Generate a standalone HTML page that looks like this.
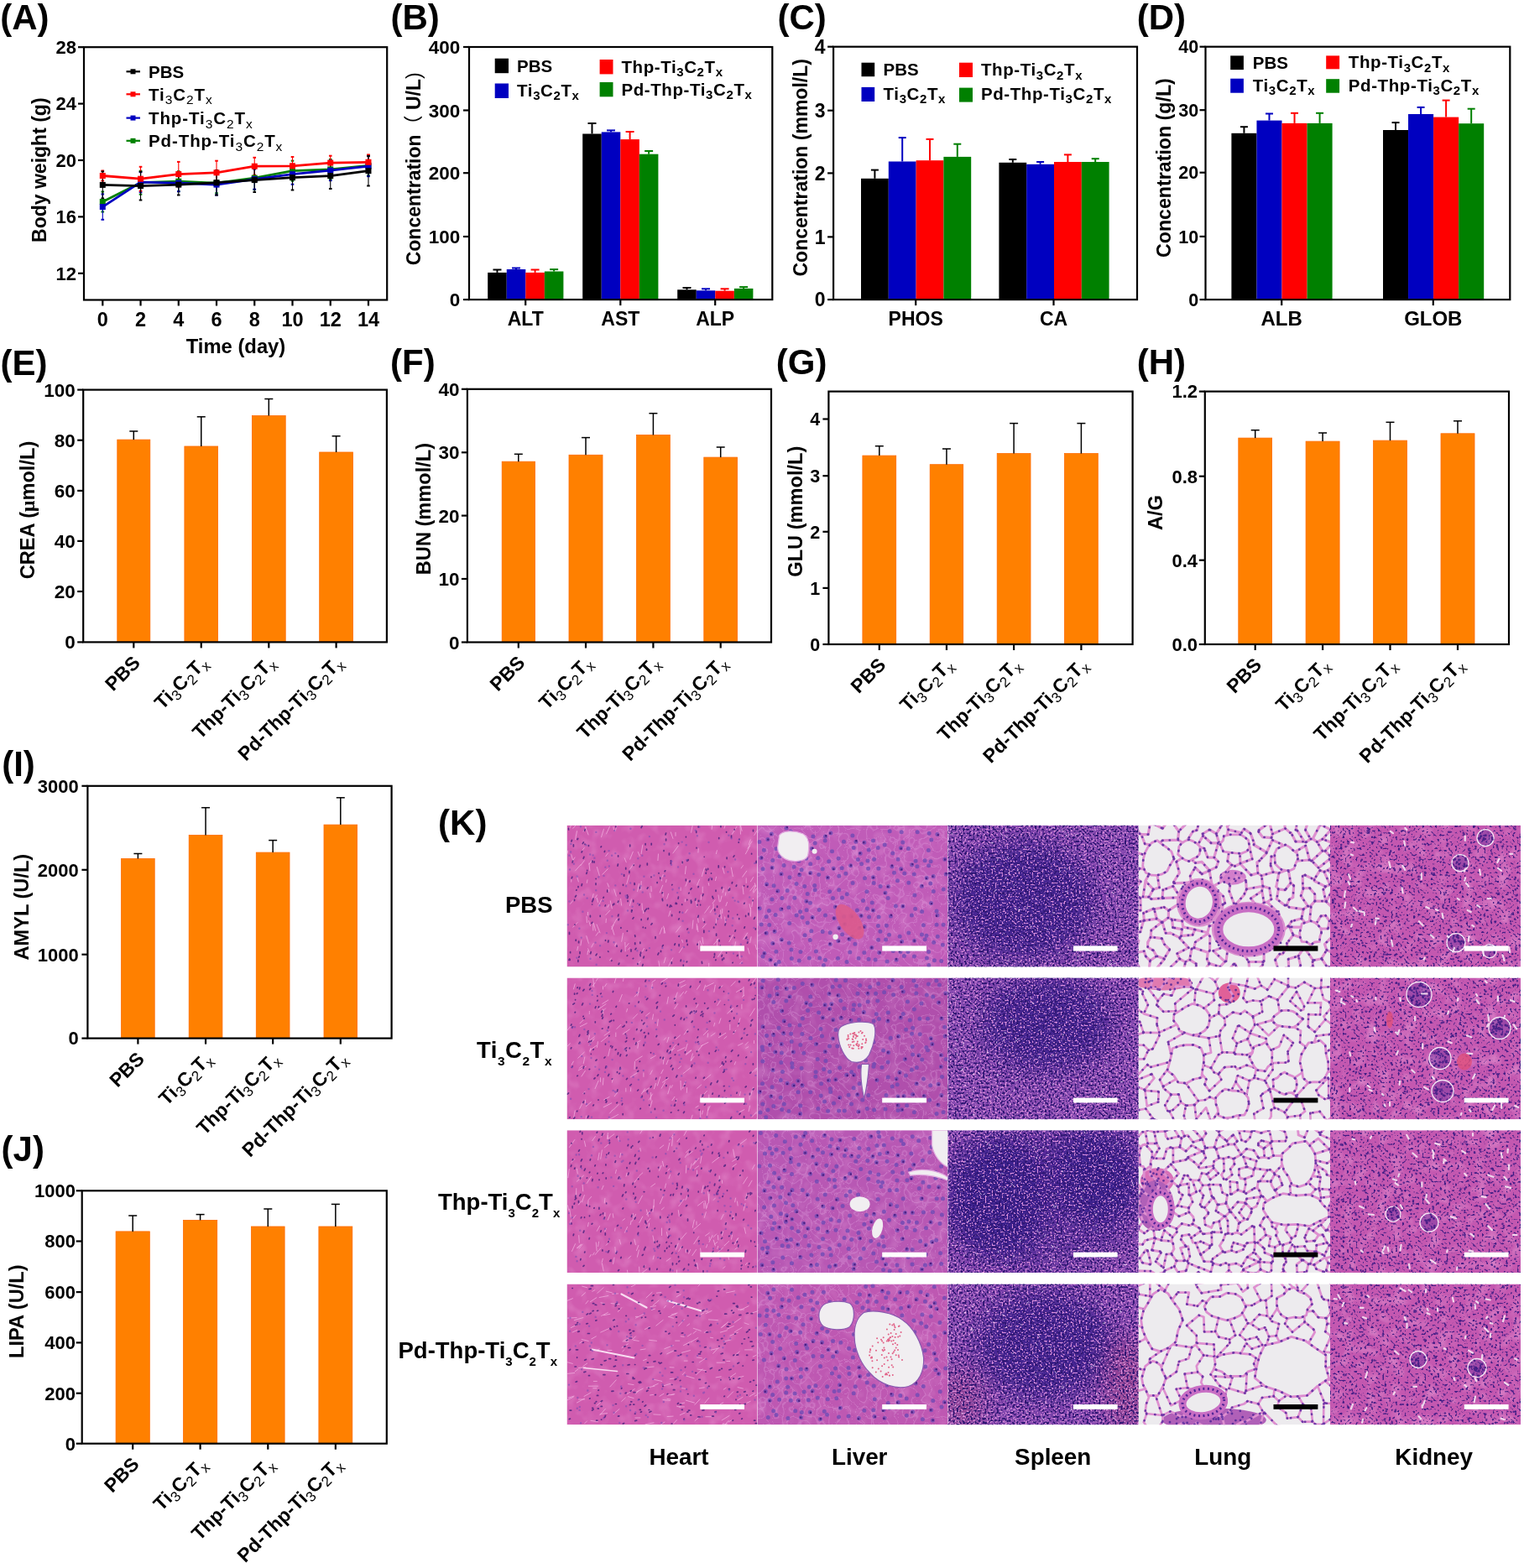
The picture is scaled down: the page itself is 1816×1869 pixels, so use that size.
<!DOCTYPE html>
<html><head><meta charset="utf-8"><title>Figure</title>
<style>
html,body{margin:0;padding:0;background:#fff;}
svg{display:block;}
text{font-family:'Liberation Sans', Arial, sans-serif;fill:#000;}
</style></head>
<body>
<svg width="1816" height="1869" viewBox="0 0 1816 1869">
<rect x="0" y="0" width="1816" height="1869" fill="#fff"/>
<line x1="122.3" y1="228.5" x2="122.3" y2="252.5" stroke="#008000" stroke-width="1.1" />
<line x1="120.5" y1="228.5" x2="124.1" y2="228.5" stroke="#008000" stroke-width="2" />
<line x1="120.5" y1="252.5" x2="124.1" y2="252.5" stroke="#008000" stroke-width="2" />
<line x1="167.54" y1="203.7" x2="167.54" y2="231.7" stroke="#008000" stroke-width="1.1" />
<line x1="165.74" y1="203.7" x2="169.34" y2="203.7" stroke="#008000" stroke-width="2" />
<line x1="165.74" y1="231.7" x2="169.34" y2="231.7" stroke="#008000" stroke-width="2" />
<line x1="212.78" y1="204.2" x2="212.78" y2="228.2" stroke="#008000" stroke-width="1.1" />
<line x1="210.98" y1="204.2" x2="214.58" y2="204.2" stroke="#008000" stroke-width="2" />
<line x1="210.98" y1="228.2" x2="214.58" y2="228.2" stroke="#008000" stroke-width="2" />
<line x1="258.02" y1="206.2" x2="258.02" y2="230.2" stroke="#008000" stroke-width="1.1" />
<line x1="256.22" y1="206.2" x2="259.82" y2="206.2" stroke="#008000" stroke-width="2" />
<line x1="256.22" y1="230.2" x2="259.82" y2="230.2" stroke="#008000" stroke-width="2" />
<line x1="303.26" y1="198.1" x2="303.26" y2="226.1" stroke="#008000" stroke-width="1.1" />
<line x1="301.46" y1="198.1" x2="305.06" y2="198.1" stroke="#008000" stroke-width="2" />
<line x1="301.46" y1="226.1" x2="305.06" y2="226.1" stroke="#008000" stroke-width="2" />
<line x1="348.5" y1="191.7" x2="348.5" y2="215.7" stroke="#008000" stroke-width="1.1" />
<line x1="346.7" y1="191.7" x2="350.3" y2="191.7" stroke="#008000" stroke-width="2" />
<line x1="346.7" y1="215.7" x2="350.3" y2="215.7" stroke="#008000" stroke-width="2" />
<line x1="393.74" y1="189.9" x2="393.74" y2="213.9" stroke="#008000" stroke-width="1.1" />
<line x1="391.94" y1="189.9" x2="395.54" y2="189.9" stroke="#008000" stroke-width="2" />
<line x1="391.94" y1="213.9" x2="395.54" y2="213.9" stroke="#008000" stroke-width="2" />
<line x1="438.98" y1="185.3" x2="438.98" y2="209.3" stroke="#008000" stroke-width="1.1" />
<line x1="437.18" y1="185.3" x2="440.78" y2="185.3" stroke="#008000" stroke-width="2" />
<line x1="437.18" y1="209.3" x2="440.78" y2="209.3" stroke="#008000" stroke-width="2" />
<line x1="122.3" y1="231.4" x2="122.3" y2="261.8" stroke="#0000C0" stroke-width="1.1" />
<line x1="120.5" y1="231.4" x2="124.1" y2="231.4" stroke="#0000C0" stroke-width="2" />
<line x1="120.5" y1="261.8" x2="124.1" y2="261.8" stroke="#0000C0" stroke-width="2" />
<line x1="167.54" y1="205.2" x2="167.54" y2="229.2" stroke="#0000C0" stroke-width="1.1" />
<line x1="165.74" y1="205.2" x2="169.34" y2="205.2" stroke="#0000C0" stroke-width="2" />
<line x1="165.74" y1="229.2" x2="169.34" y2="229.2" stroke="#0000C0" stroke-width="2" />
<line x1="212.78" y1="208.2" x2="212.78" y2="228.2" stroke="#0000C0" stroke-width="1.1" />
<line x1="210.98" y1="208.2" x2="214.58" y2="208.2" stroke="#0000C0" stroke-width="2" />
<line x1="210.98" y1="228.2" x2="214.58" y2="228.2" stroke="#0000C0" stroke-width="2" />
<line x1="258.02" y1="207.7" x2="258.02" y2="232.5" stroke="#0000C0" stroke-width="1.1" />
<line x1="256.22" y1="207.7" x2="259.82" y2="207.7" stroke="#0000C0" stroke-width="2" />
<line x1="256.22" y1="232.5" x2="259.82" y2="232.5" stroke="#0000C0" stroke-width="2" />
<line x1="303.26" y1="201.6" x2="303.26" y2="225.6" stroke="#0000C0" stroke-width="1.1" />
<line x1="301.46" y1="201.6" x2="305.06" y2="201.6" stroke="#0000C0" stroke-width="2" />
<line x1="301.46" y1="225.6" x2="305.06" y2="225.6" stroke="#0000C0" stroke-width="2" />
<line x1="348.5" y1="195.7" x2="348.5" y2="219.7" stroke="#0000C0" stroke-width="1.1" />
<line x1="346.7" y1="195.7" x2="350.3" y2="195.7" stroke="#0000C0" stroke-width="2" />
<line x1="346.7" y1="219.7" x2="350.3" y2="219.7" stroke="#0000C0" stroke-width="2" />
<line x1="393.74" y1="191.2" x2="393.74" y2="215.2" stroke="#0000C0" stroke-width="1.1" />
<line x1="391.94" y1="191.2" x2="395.54" y2="191.2" stroke="#0000C0" stroke-width="2" />
<line x1="391.94" y1="215.2" x2="395.54" y2="215.2" stroke="#0000C0" stroke-width="2" />
<line x1="438.98" y1="186.2" x2="438.98" y2="210.2" stroke="#0000C0" stroke-width="1.1" />
<line x1="437.18" y1="186.2" x2="440.78" y2="186.2" stroke="#0000C0" stroke-width="2" />
<line x1="437.18" y1="210.2" x2="440.78" y2="210.2" stroke="#0000C0" stroke-width="2" />
<line x1="122.3" y1="203.5" x2="122.3" y2="215.5" stroke="#FF0000" stroke-width="1.1" />
<line x1="120.5" y1="203.5" x2="124.1" y2="203.5" stroke="#FF0000" stroke-width="2" />
<line x1="120.5" y1="215.5" x2="124.1" y2="215.5" stroke="#FF0000" stroke-width="2" />
<line x1="167.54" y1="198.8" x2="167.54" y2="227.6" stroke="#FF0000" stroke-width="1.1" />
<line x1="165.74" y1="198.8" x2="169.34" y2="198.8" stroke="#FF0000" stroke-width="2" />
<line x1="165.74" y1="227.6" x2="169.34" y2="227.6" stroke="#FF0000" stroke-width="2" />
<line x1="212.78" y1="192.9" x2="212.78" y2="222.3" stroke="#FF0000" stroke-width="1.1" />
<line x1="210.98" y1="192.9" x2="214.58" y2="192.9" stroke="#FF0000" stroke-width="2" />
<line x1="210.98" y1="222.3" x2="214.58" y2="222.3" stroke="#FF0000" stroke-width="2" />
<line x1="258.02" y1="191.7" x2="258.02" y2="219.9" stroke="#FF0000" stroke-width="1.1" />
<line x1="256.22" y1="191.7" x2="259.82" y2="191.7" stroke="#FF0000" stroke-width="2" />
<line x1="256.22" y1="219.9" x2="259.82" y2="219.9" stroke="#FF0000" stroke-width="2" />
<line x1="303.26" y1="187.8" x2="303.26" y2="208.6" stroke="#FF0000" stroke-width="1.1" />
<line x1="301.46" y1="187.8" x2="305.06" y2="187.8" stroke="#FF0000" stroke-width="2" />
<line x1="301.46" y1="208.6" x2="305.06" y2="208.6" stroke="#FF0000" stroke-width="2" />
<line x1="348.5" y1="187" x2="348.5" y2="208.6" stroke="#FF0000" stroke-width="1.1" />
<line x1="346.7" y1="187" x2="350.3" y2="187" stroke="#FF0000" stroke-width="2" />
<line x1="346.7" y1="208.6" x2="350.3" y2="208.6" stroke="#FF0000" stroke-width="2" />
<line x1="393.74" y1="185.7" x2="393.74" y2="202.5" stroke="#FF0000" stroke-width="1.1" />
<line x1="391.94" y1="185.7" x2="395.54" y2="185.7" stroke="#FF0000" stroke-width="2" />
<line x1="391.94" y1="202.5" x2="395.54" y2="202.5" stroke="#FF0000" stroke-width="2" />
<line x1="438.98" y1="184.4" x2="438.98" y2="202.2" stroke="#FF0000" stroke-width="1.1" />
<line x1="437.18" y1="184.4" x2="440.78" y2="184.4" stroke="#FF0000" stroke-width="2" />
<line x1="437.18" y1="202.2" x2="440.78" y2="202.2" stroke="#FF0000" stroke-width="2" />
<line x1="122.3" y1="204.4" x2="122.3" y2="236.4" stroke="#000000" stroke-width="1.1" />
<line x1="120.5" y1="204.4" x2="124.1" y2="204.4" stroke="#000000" stroke-width="2" />
<line x1="120.5" y1="236.4" x2="124.1" y2="236.4" stroke="#000000" stroke-width="2" />
<line x1="167.54" y1="204.7" x2="167.54" y2="238.5" stroke="#000000" stroke-width="1.1" />
<line x1="165.74" y1="204.7" x2="169.34" y2="204.7" stroke="#000000" stroke-width="2" />
<line x1="165.74" y1="238.5" x2="169.34" y2="238.5" stroke="#000000" stroke-width="2" />
<line x1="212.78" y1="207.7" x2="212.78" y2="232.5" stroke="#000000" stroke-width="1.1" />
<line x1="210.98" y1="207.7" x2="214.58" y2="207.7" stroke="#000000" stroke-width="2" />
<line x1="210.98" y1="232.5" x2="214.58" y2="232.5" stroke="#000000" stroke-width="2" />
<line x1="258.02" y1="202.9" x2="258.02" y2="232.5" stroke="#000000" stroke-width="1.1" />
<line x1="256.22" y1="202.9" x2="259.82" y2="202.9" stroke="#000000" stroke-width="2" />
<line x1="256.22" y1="232.5" x2="259.82" y2="232.5" stroke="#000000" stroke-width="2" />
<line x1="303.26" y1="200.2" x2="303.26" y2="229" stroke="#000000" stroke-width="1.1" />
<line x1="301.46" y1="200.2" x2="305.06" y2="200.2" stroke="#000000" stroke-width="2" />
<line x1="301.46" y1="229" x2="305.06" y2="229" stroke="#000000" stroke-width="2" />
<line x1="348.5" y1="196.7" x2="348.5" y2="226.5" stroke="#000000" stroke-width="1.1" />
<line x1="346.7" y1="196.7" x2="350.3" y2="196.7" stroke="#000000" stroke-width="2" />
<line x1="346.7" y1="226.5" x2="350.3" y2="226.5" stroke="#000000" stroke-width="2" />
<line x1="393.74" y1="194.2" x2="393.74" y2="225" stroke="#000000" stroke-width="1.1" />
<line x1="391.94" y1="194.2" x2="395.54" y2="194.2" stroke="#000000" stroke-width="2" />
<line x1="391.94" y1="225" x2="395.54" y2="225" stroke="#000000" stroke-width="2" />
<line x1="438.98" y1="185.9" x2="438.98" y2="221.5" stroke="#000000" stroke-width="1.1" />
<line x1="437.18" y1="185.9" x2="440.78" y2="185.9" stroke="#000000" stroke-width="2" />
<line x1="437.18" y1="221.5" x2="440.78" y2="221.5" stroke="#000000" stroke-width="2" />
<polyline points="122.3,240.5 167.54,217.7 212.78,216.2 258.02,218.2 303.26,212.1 348.5,203.7 393.74,201.9 438.98,197.3" fill="none" stroke="#008000" stroke-width="2.8" stroke-linejoin="round"/>
<rect x="118.8" y="237" width="7" height="7" fill="#008000" />
<rect x="164.04" y="214.2" width="7" height="7" fill="#008000" />
<rect x="209.28" y="212.7" width="7" height="7" fill="#008000" />
<rect x="254.52" y="214.7" width="7" height="7" fill="#008000" />
<rect x="299.76" y="208.6" width="7" height="7" fill="#008000" />
<rect x="345" y="200.2" width="7" height="7" fill="#008000" />
<rect x="390.24" y="198.4" width="7" height="7" fill="#008000" />
<rect x="435.48" y="193.8" width="7" height="7" fill="#008000" />
<polyline points="122.3,246.6 167.54,217.2 212.78,218.2 258.02,220.1 303.26,213.6 348.5,207.7 393.74,203.2 438.98,198.2" fill="none" stroke="#0000C0" stroke-width="2.8" stroke-linejoin="round"/>
<rect x="118.8" y="243.1" width="7" height="7" fill="#0000C0" />
<rect x="164.04" y="213.7" width="7" height="7" fill="#0000C0" />
<rect x="209.28" y="214.7" width="7" height="7" fill="#0000C0" />
<rect x="254.52" y="216.6" width="7" height="7" fill="#0000C0" />
<rect x="299.76" y="210.1" width="7" height="7" fill="#0000C0" />
<rect x="345" y="204.2" width="7" height="7" fill="#0000C0" />
<rect x="390.24" y="199.7" width="7" height="7" fill="#0000C0" />
<rect x="435.48" y="194.7" width="7" height="7" fill="#0000C0" />
<polyline points="122.3,209.5 167.54,213.2 212.78,207.6 258.02,205.8 303.26,198.2 348.5,197.8 393.74,194.1 438.98,193.3" fill="none" stroke="#FF0000" stroke-width="2.8" stroke-linejoin="round"/>
<rect x="118.8" y="206" width="7" height="7" fill="#FF0000" />
<rect x="164.04" y="209.7" width="7" height="7" fill="#FF0000" />
<rect x="209.28" y="204.1" width="7" height="7" fill="#FF0000" />
<rect x="254.52" y="202.3" width="7" height="7" fill="#FF0000" />
<rect x="299.76" y="194.7" width="7" height="7" fill="#FF0000" />
<rect x="345" y="194.3" width="7" height="7" fill="#FF0000" />
<rect x="390.24" y="190.6" width="7" height="7" fill="#FF0000" />
<rect x="435.48" y="189.8" width="7" height="7" fill="#FF0000" />
<polyline points="122.3,220.4 167.54,221.6 212.78,220.1 258.02,217.7 303.26,214.6 348.5,211.6 393.74,209.6 438.98,203.7" fill="none" stroke="#000000" stroke-width="2.8" stroke-linejoin="round"/>
<rect x="118.8" y="216.9" width="7" height="7" fill="#000000" />
<rect x="164.04" y="218.1" width="7" height="7" fill="#000000" />
<rect x="209.28" y="216.6" width="7" height="7" fill="#000000" />
<rect x="254.52" y="214.2" width="7" height="7" fill="#000000" />
<rect x="299.76" y="211.1" width="7" height="7" fill="#000000" />
<rect x="345" y="208.1" width="7" height="7" fill="#000000" />
<rect x="390.24" y="206.1" width="7" height="7" fill="#000000" />
<rect x="435.48" y="200.2" width="7" height="7" fill="#000000" />
<rect x="100" y="56.2" width="361.2" height="301.3" fill="none" stroke="#000" stroke-width="2.2"/>
<line x1="93" y1="56.2" x2="100" y2="56.2" stroke="#000" stroke-width="2.2" />
<text x="91" y="64.08" font-size="22" text-anchor="end" font-weight="bold" >28</text>
<line x1="93" y1="123.6" x2="100" y2="123.6" stroke="#000" stroke-width="2.2" />
<text x="91" y="131.48" font-size="22" text-anchor="end" font-weight="bold" >24</text>
<line x1="93" y1="191" x2="100" y2="191" stroke="#000" stroke-width="2.2" />
<text x="91" y="198.88" font-size="22" text-anchor="end" font-weight="bold" >20</text>
<line x1="93" y1="258.4" x2="100" y2="258.4" stroke="#000" stroke-width="2.2" />
<text x="91" y="266.28" font-size="22" text-anchor="end" font-weight="bold" >16</text>
<line x1="93" y1="325.8" x2="100" y2="325.8" stroke="#000" stroke-width="2.2" />
<text x="91" y="333.68" font-size="22" text-anchor="end" font-weight="bold" >12</text>
<line x1="122.3" y1="357.5" x2="122.3" y2="364.5" stroke="#000" stroke-width="2.2" />
<line x1="167.54" y1="357.5" x2="167.54" y2="364.5" stroke="#000" stroke-width="2.2" />
<line x1="212.78" y1="357.5" x2="212.78" y2="364.5" stroke="#000" stroke-width="2.2" />
<line x1="258.02" y1="357.5" x2="258.02" y2="364.5" stroke="#000" stroke-width="2.2" />
<line x1="303.26" y1="357.5" x2="303.26" y2="364.5" stroke="#000" stroke-width="2.2" />
<line x1="348.5" y1="357.5" x2="348.5" y2="364.5" stroke="#000" stroke-width="2.2" />
<line x1="393.74" y1="357.5" x2="393.74" y2="364.5" stroke="#000" stroke-width="2.2" />
<line x1="438.98" y1="357.5" x2="438.98" y2="364.5" stroke="#000" stroke-width="2.2" />
<text x="122.3" y="388.6" font-size="23.5" text-anchor="middle" font-weight="bold" >0</text>
<text x="167.54" y="388.6" font-size="23.5" text-anchor="middle" font-weight="bold" >2</text>
<text x="212.78" y="388.6" font-size="23.5" text-anchor="middle" font-weight="bold" >4</text>
<text x="258.02" y="388.6" font-size="23.5" text-anchor="middle" font-weight="bold" >6</text>
<text x="303.26" y="388.6" font-size="23.5" text-anchor="middle" font-weight="bold" >8</text>
<text x="348.5" y="388.6" font-size="23.5" text-anchor="middle" font-weight="bold" >10</text>
<text x="393.74" y="388.6" font-size="23.5" text-anchor="middle" font-weight="bold" >12</text>
<text x="438.98" y="388.6" font-size="23.5" text-anchor="middle" font-weight="bold" >14</text>
<text x="281" y="421.2" font-size="23.8" text-anchor="middle" font-weight="bold" >Time (day)</text>
<text x="0" y="0" font-size="23" font-weight="bold" text-anchor="middle" transform="translate(54.8,202.7) rotate(-90)">Body weight (g)</text>
<line x1="150.5" y1="85.3" x2="167" y2="85.3" stroke="#000000" stroke-width="2.2" />
<rect x="155.5" y="82.3" width="6" height="6" fill="#000000" />
<text x="177" y="92.6" font-size="20.5" text-anchor="start" font-weight="bold" >PBS</text>
<line x1="150.5" y1="112.3" x2="167" y2="112.3" stroke="#FF0000" stroke-width="2.2" />
<rect x="155.5" y="109.3" width="6" height="6" fill="#FF0000" />
<text x="177" y="119.6" font-size="20.5" text-anchor="start" font-weight="bold" ><tspan letter-spacing="0.9">Ti<tspan font-size="15.5" font-weight="normal" dy="4.8">3</tspan><tspan dy="-4.8">C</tspan><tspan font-size="15.5" font-weight="normal" dy="4.8">2</tspan><tspan dy="-4.8">T</tspan><tspan font-size="15.5" font-weight="normal" dy="4.8">x</tspan></tspan></text>
<line x1="150.5" y1="140.6" x2="167" y2="140.6" stroke="#0000C0" stroke-width="2.2" />
<rect x="155.5" y="137.6" width="6" height="6" fill="#0000C0" />
<text x="177" y="147.9" font-size="20.5" text-anchor="start" font-weight="bold" ><tspan letter-spacing="0.9">Thp-Ti<tspan font-size="15.5" font-weight="normal" dy="4.8">3</tspan><tspan dy="-4.8">C</tspan><tspan font-size="15.5" font-weight="normal" dy="4.8">2</tspan><tspan dy="-4.8">T</tspan><tspan font-size="15.5" font-weight="normal" dy="4.8">x</tspan></tspan></text>
<line x1="150.5" y1="167.8" x2="167" y2="167.8" stroke="#008000" stroke-width="2.2" />
<rect x="155.5" y="164.8" width="6" height="6" fill="#008000" />
<text x="177" y="175.1" font-size="20.5" text-anchor="start" font-weight="bold" ><tspan letter-spacing="0.9">Pd-Thp-Ti<tspan font-size="15.5" font-weight="normal" dy="4.8">3</tspan><tspan dy="-4.8">C</tspan><tspan font-size="15.5" font-weight="normal" dy="4.8">2</tspan><tspan dy="-4.8">T</tspan><tspan font-size="15.5" font-weight="normal" dy="4.8">x</tspan></tspan></text>
<text x="0.3" y="35.1" font-size="42" text-anchor="start" font-weight="bold" >(A)</text>
<rect x="581.2" y="324.9" width="22.55" height="32.2" fill="#000000" />
<line x1="592.48" y1="324.9" x2="592.48" y2="321.5" stroke="#000000" stroke-width="2" />
<line x1="587.48" y1="321.5" x2="597.48" y2="321.5" stroke="#000000" stroke-width="2" />
<rect x="603.75" y="321" width="22.55" height="36.1" fill="#0000C0" />
<line x1="615.02" y1="321" x2="615.02" y2="319.5" stroke="#0000C0" stroke-width="2" />
<line x1="610.02" y1="319.5" x2="620.02" y2="319.5" stroke="#0000C0" stroke-width="2" />
<rect x="626.3" y="324.9" width="22.55" height="32.2" fill="#FF0000" />
<line x1="637.58" y1="324.9" x2="637.58" y2="321.5" stroke="#FF0000" stroke-width="2" />
<line x1="632.58" y1="321.5" x2="642.58" y2="321.5" stroke="#FF0000" stroke-width="2" />
<rect x="648.85" y="323.5" width="22.55" height="33.6" fill="#008000" />
<line x1="660.12" y1="323.5" x2="660.12" y2="321.1" stroke="#008000" stroke-width="2" />
<line x1="655.12" y1="321.1" x2="665.12" y2="321.1" stroke="#008000" stroke-width="2" />
<rect x="694.2" y="159.5" width="22.55" height="197.6" fill="#000000" />
<line x1="705.48" y1="159.5" x2="705.48" y2="147" stroke="#000000" stroke-width="2" />
<line x1="700.48" y1="147" x2="710.48" y2="147" stroke="#000000" stroke-width="2" />
<rect x="716.75" y="157.4" width="22.55" height="199.7" fill="#0000C0" />
<line x1="728.02" y1="157.4" x2="728.02" y2="155.4" stroke="#0000C0" stroke-width="2" />
<line x1="723.02" y1="155.4" x2="733.02" y2="155.4" stroke="#0000C0" stroke-width="2" />
<rect x="739.3" y="166.1" width="22.55" height="191" fill="#FF0000" />
<line x1="750.58" y1="166.1" x2="750.58" y2="157" stroke="#FF0000" stroke-width="2" />
<line x1="745.58" y1="157" x2="755.58" y2="157" stroke="#FF0000" stroke-width="2" />
<rect x="761.85" y="183.7" width="22.55" height="173.4" fill="#008000" />
<line x1="773.12" y1="183.7" x2="773.12" y2="180" stroke="#008000" stroke-width="2" />
<line x1="768.12" y1="180" x2="778.12" y2="180" stroke="#008000" stroke-width="2" />
<rect x="807.2" y="345.3" width="22.55" height="11.8" fill="#000000" />
<line x1="818.48" y1="345.3" x2="818.48" y2="343" stroke="#000000" stroke-width="2" />
<line x1="813.48" y1="343" x2="823.48" y2="343" stroke="#000000" stroke-width="2" />
<rect x="829.75" y="346.3" width="22.55" height="10.8" fill="#0000C0" />
<line x1="841.02" y1="346.3" x2="841.02" y2="344.3" stroke="#0000C0" stroke-width="2" />
<line x1="836.02" y1="344.3" x2="846.02" y2="344.3" stroke="#0000C0" stroke-width="2" />
<rect x="852.3" y="346.7" width="22.55" height="10.4" fill="#FF0000" />
<line x1="863.58" y1="346.7" x2="863.58" y2="344.3" stroke="#FF0000" stroke-width="2" />
<line x1="858.58" y1="344.3" x2="868.58" y2="344.3" stroke="#FF0000" stroke-width="2" />
<rect x="874.85" y="343.9" width="22.55" height="13.2" fill="#008000" />
<line x1="886.12" y1="343.9" x2="886.12" y2="342.1" stroke="#008000" stroke-width="2" />
<line x1="881.12" y1="342.1" x2="891.12" y2="342.1" stroke="#008000" stroke-width="2" />
<rect x="559" y="56" width="361.3" height="301.1" fill="none" stroke="#000" stroke-width="2.2"/>
<line x1="552" y1="56" x2="559" y2="56" stroke="#000" stroke-width="2.2" />
<text x="548.3" y="64.06" font-size="22.5" text-anchor="end" font-weight="bold" >400</text>
<line x1="552" y1="131.5" x2="559" y2="131.5" stroke="#000" stroke-width="2.2" />
<text x="548.3" y="139.56" font-size="22.5" text-anchor="end" font-weight="bold" >300</text>
<line x1="552" y1="206.2" x2="559" y2="206.2" stroke="#000" stroke-width="2.2" />
<text x="548.3" y="214.25" font-size="22.5" text-anchor="end" font-weight="bold" >200</text>
<line x1="552" y1="282" x2="559" y2="282" stroke="#000" stroke-width="2.2" />
<text x="548.3" y="290.06" font-size="22.5" text-anchor="end" font-weight="bold" >100</text>
<line x1="552" y1="357.1" x2="559" y2="357.1" stroke="#000" stroke-width="2.2" />
<text x="548.3" y="365.16" font-size="22.5" text-anchor="end" font-weight="bold" >0</text>
<line x1="626.2" y1="357.1" x2="626.2" y2="364.1" stroke="#000" stroke-width="2.2" />
<line x1="739.3" y1="357.1" x2="739.3" y2="364.1" stroke="#000" stroke-width="2.2" />
<line x1="852.2" y1="357.1" x2="852.2" y2="364.1" stroke="#000" stroke-width="2.2" />
<text x="626.2" y="388.1" font-size="23" text-anchor="middle" font-weight="bold" >ALT</text>
<text x="739.3" y="388.1" font-size="23" text-anchor="middle" font-weight="bold" >AST</text>
<text x="852.2" y="388.1" font-size="23" text-anchor="middle" font-weight="bold" >ALP</text>
<rect x="589.7" y="69.7" width="16.3" height="17.5" fill="#000000" />
<rect x="589.7" y="99.5" width="16.3" height="17.5" fill="#0000C0" />
<rect x="714.6" y="71" width="15.9" height="17.4" fill="#FF0000" />
<rect x="714.6" y="98" width="15.9" height="17.3" fill="#008000" />
<text x="616.1" y="85.6" font-size="20.5" text-anchor="start" font-weight="bold" >PBS</text>
<text x="616.1" y="114.5" font-size="20.5" text-anchor="start" font-weight="bold" ><tspan letter-spacing="0.6">Ti<tspan font-size="15" font-weight="bold" dy="4.8">3</tspan><tspan dy="-4.8">C</tspan><tspan font-size="15" font-weight="bold" dy="4.8">2</tspan><tspan dy="-4.8">T</tspan><tspan font-size="15" font-weight="bold" dy="4.8">x</tspan></tspan></text>
<text x="740.4" y="86.5" font-size="20.5" text-anchor="start" font-weight="bold" ><tspan letter-spacing="0.6">Thp-Ti<tspan font-size="15" font-weight="bold" dy="4.8">3</tspan><tspan dy="-4.8">C</tspan><tspan font-size="15" font-weight="bold" dy="4.8">2</tspan><tspan dy="-4.8">T</tspan><tspan font-size="15" font-weight="bold" dy="4.8">x</tspan></tspan></text>
<text x="740.4" y="113.5" font-size="20.5" text-anchor="start" font-weight="bold" ><tspan letter-spacing="0.6">Pd-Thp-Ti<tspan font-size="15" font-weight="bold" dy="4.8">3</tspan><tspan dy="-4.8">C</tspan><tspan font-size="15" font-weight="bold" dy="4.8">2</tspan><tspan dy="-4.8">T</tspan><tspan font-size="15" font-weight="bold" dy="4.8">x</tspan></tspan></text>
<text x="0" y="0" font-size="23" font-weight="bold" text-anchor="start" transform="translate(500.5,316.3) rotate(-90)">Concentration<tspan font-weight="normal" font-family="'Liberation Sans', 'Noto Sans CJK SC', sans-serif">（</tspan> U/L<tspan font-weight="normal">)</tspan></text>
<text x="465.4" y="35.1" font-size="42" text-anchor="start" font-weight="bold" >(B)</text>
<rect x="1026" y="212.8" width="32.8" height="144.3" fill="#000000" />
<line x1="1042.4" y1="212.8" x2="1042.4" y2="202.6" stroke="#000000" stroke-width="2" />
<line x1="1037.9" y1="202.6" x2="1046.9" y2="202.6" stroke="#000000" stroke-width="2" />
<rect x="1058.8" y="192.5" width="32.8" height="164.6" fill="#0000C0" />
<line x1="1075.2" y1="192.5" x2="1075.2" y2="164.1" stroke="#0000C0" stroke-width="2" />
<line x1="1070.7" y1="164.1" x2="1079.7" y2="164.1" stroke="#0000C0" stroke-width="2" />
<rect x="1091.6" y="191.2" width="32.8" height="165.9" fill="#FF0000" />
<line x1="1108" y1="191.2" x2="1108" y2="165.9" stroke="#FF0000" stroke-width="2" />
<line x1="1103.5" y1="165.9" x2="1112.5" y2="165.9" stroke="#FF0000" stroke-width="2" />
<rect x="1124.4" y="186.9" width="32.8" height="170.2" fill="#008000" />
<line x1="1140.8" y1="186.9" x2="1140.8" y2="171.7" stroke="#008000" stroke-width="2" />
<line x1="1136.3" y1="171.7" x2="1145.3" y2="171.7" stroke="#008000" stroke-width="2" />
<rect x="1190.4" y="193.8" width="32.8" height="163.3" fill="#000000" />
<line x1="1206.8" y1="193.8" x2="1206.8" y2="190" stroke="#000000" stroke-width="2" />
<line x1="1202.3" y1="190" x2="1211.3" y2="190" stroke="#000000" stroke-width="2" />
<rect x="1223.2" y="195.8" width="32.8" height="161.3" fill="#0000C0" />
<line x1="1239.6" y1="195.8" x2="1239.6" y2="193" stroke="#0000C0" stroke-width="2" />
<line x1="1235.1" y1="193" x2="1244.1" y2="193" stroke="#0000C0" stroke-width="2" />
<rect x="1256" y="193" width="32.8" height="164.1" fill="#FF0000" />
<line x1="1272.4" y1="193" x2="1272.4" y2="184.4" stroke="#FF0000" stroke-width="2" />
<line x1="1267.9" y1="184.4" x2="1276.9" y2="184.4" stroke="#FF0000" stroke-width="2" />
<rect x="1288.8" y="193" width="32.8" height="164.1" fill="#008000" />
<line x1="1305.2" y1="193" x2="1305.2" y2="189.2" stroke="#008000" stroke-width="2" />
<line x1="1300.7" y1="189.2" x2="1309.7" y2="189.2" stroke="#008000" stroke-width="2" />
<rect x="993.1" y="55.7" width="361.9" height="301.4" fill="none" stroke="#000" stroke-width="2.2"/>
<line x1="986.1" y1="55.7" x2="993.1" y2="55.7" stroke="#000" stroke-width="2.2" />
<text x="983.5" y="63.93" font-size="23" text-anchor="end" font-weight="bold" >4</text>
<line x1="986.1" y1="131.7" x2="993.1" y2="131.7" stroke="#000" stroke-width="2.2" />
<text x="983.5" y="139.93" font-size="23" text-anchor="end" font-weight="bold" >3</text>
<line x1="986.1" y1="206.4" x2="993.1" y2="206.4" stroke="#000" stroke-width="2.2" />
<text x="983.5" y="214.63" font-size="23" text-anchor="end" font-weight="bold" >2</text>
<line x1="986.1" y1="282.4" x2="993.1" y2="282.4" stroke="#000" stroke-width="2.2" />
<text x="983.5" y="290.63" font-size="23" text-anchor="end" font-weight="bold" >1</text>
<line x1="986.1" y1="357.1" x2="993.1" y2="357.1" stroke="#000" stroke-width="2.2" />
<text x="983.5" y="365.33" font-size="23" text-anchor="end" font-weight="bold" >0</text>
<line x1="1091.2" y1="357.1" x2="1091.2" y2="364.1" stroke="#000" stroke-width="2.2" />
<line x1="1255.5" y1="357.1" x2="1255.5" y2="364.1" stroke="#000" stroke-width="2.2" />
<text x="1091.2" y="387.5" font-size="23" text-anchor="middle" font-weight="bold" >PHOS</text>
<text x="1255.5" y="387.5" font-size="23" text-anchor="middle" font-weight="bold" >CA</text>
<rect x="1026.5" y="74.7" width="15.7" height="16.5" fill="#000000" />
<rect x="1026.5" y="103.9" width="15.7" height="17.1" fill="#0000C0" />
<rect x="1143" y="74.7" width="16" height="17.3" fill="#FF0000" />
<rect x="1143" y="104.6" width="16" height="17" fill="#008000" />
<text x="1052.6" y="90" font-size="20.5" text-anchor="start" font-weight="bold" >PBS</text>
<text x="1052.6" y="118.5" font-size="20.5" text-anchor="start" font-weight="bold" ><tspan letter-spacing="0.6">Ti<tspan font-size="15" font-weight="bold" dy="4.8">3</tspan><tspan dy="-4.8">C</tspan><tspan font-size="15" font-weight="bold" dy="4.8">2</tspan><tspan dy="-4.8">T</tspan><tspan font-size="15" font-weight="bold" dy="4.8">x</tspan></tspan></text>
<text x="1168.9" y="90" font-size="20.5" text-anchor="start" font-weight="bold" ><tspan letter-spacing="0.6">Thp-Ti<tspan font-size="15" font-weight="bold" dy="4.8">3</tspan><tspan dy="-4.8">C</tspan><tspan font-size="15" font-weight="bold" dy="4.8">2</tspan><tspan dy="-4.8">T</tspan><tspan font-size="15" font-weight="bold" dy="4.8">x</tspan></tspan></text>
<text x="1168.9" y="118.5" font-size="20.5" text-anchor="start" font-weight="bold" ><tspan letter-spacing="0.6">Pd-Thp-Ti<tspan font-size="15" font-weight="bold" dy="4.8">3</tspan><tspan dy="-4.8">C</tspan><tspan font-size="15" font-weight="bold" dy="4.8">2</tspan><tspan dy="-4.8">T</tspan><tspan font-size="15" font-weight="bold" dy="4.8">x</tspan></tspan></text>
<text x="0" y="0" font-size="23" font-weight="bold" text-anchor="start" transform="translate(961.5,329.5) rotate(-90)">Concentration (mmol/L)</text>
<text x="926.4" y="35.1" font-size="42" text-anchor="start" font-weight="bold" >(C)</text>
<rect x="1467.4" y="158.8" width="30.05" height="198.3" fill="#000000" />
<line x1="1482.43" y1="158.8" x2="1482.43" y2="151.2" stroke="#000000" stroke-width="2" />
<line x1="1477.93" y1="151.2" x2="1486.93" y2="151.2" stroke="#000000" stroke-width="2" />
<rect x="1497.45" y="143.6" width="30.05" height="213.5" fill="#0000C0" />
<line x1="1512.48" y1="143.6" x2="1512.48" y2="135.5" stroke="#0000C0" stroke-width="2" />
<line x1="1507.98" y1="135.5" x2="1516.98" y2="135.5" stroke="#0000C0" stroke-width="2" />
<rect x="1527.5" y="146.9" width="30.05" height="210.2" fill="#FF0000" />
<line x1="1542.53" y1="146.9" x2="1542.53" y2="134.8" stroke="#FF0000" stroke-width="2" />
<line x1="1538.03" y1="134.8" x2="1547.03" y2="134.8" stroke="#FF0000" stroke-width="2" />
<rect x="1557.55" y="146.9" width="30.05" height="210.2" fill="#008000" />
<line x1="1572.58" y1="146.9" x2="1572.58" y2="134.8" stroke="#008000" stroke-width="2" />
<line x1="1568.08" y1="134.8" x2="1577.08" y2="134.8" stroke="#008000" stroke-width="2" />
<rect x="1648" y="155" width="30.05" height="202.1" fill="#000000" />
<line x1="1663.03" y1="155" x2="1663.03" y2="146.1" stroke="#000000" stroke-width="2" />
<line x1="1658.53" y1="146.1" x2="1667.53" y2="146.1" stroke="#000000" stroke-width="2" />
<rect x="1678.05" y="136" width="30.05" height="221.1" fill="#0000C0" />
<line x1="1693.08" y1="136" x2="1693.08" y2="127.9" stroke="#0000C0" stroke-width="2" />
<line x1="1688.58" y1="127.9" x2="1697.58" y2="127.9" stroke="#0000C0" stroke-width="2" />
<rect x="1708.1" y="139.6" width="30.05" height="217.5" fill="#FF0000" />
<line x1="1723.12" y1="139.6" x2="1723.12" y2="119.6" stroke="#FF0000" stroke-width="2" />
<line x1="1718.62" y1="119.6" x2="1727.62" y2="119.6" stroke="#FF0000" stroke-width="2" />
<rect x="1738.15" y="147.2" width="30.05" height="209.9" fill="#008000" />
<line x1="1753.18" y1="147.2" x2="1753.18" y2="129.7" stroke="#008000" stroke-width="2" />
<line x1="1748.68" y1="129.7" x2="1757.68" y2="129.7" stroke="#008000" stroke-width="2" />
<rect x="1436.5" y="55.7" width="362.8" height="301.4" fill="none" stroke="#000" stroke-width="2.2"/>
<line x1="1429.5" y1="55.7" x2="1436.5" y2="55.7" stroke="#000" stroke-width="2.2" />
<text x="1428.2" y="63.4" font-size="21.5" text-anchor="end" font-weight="bold" >40</text>
<line x1="1429.5" y1="131.2" x2="1436.5" y2="131.2" stroke="#000" stroke-width="2.2" />
<text x="1428.2" y="138.9" font-size="21.5" text-anchor="end" font-weight="bold" >30</text>
<line x1="1429.5" y1="205.7" x2="1436.5" y2="205.7" stroke="#000" stroke-width="2.2" />
<text x="1428.2" y="213.4" font-size="21.5" text-anchor="end" font-weight="bold" >20</text>
<line x1="1429.5" y1="281.9" x2="1436.5" y2="281.9" stroke="#000" stroke-width="2.2" />
<text x="1428.2" y="289.6" font-size="21.5" text-anchor="end" font-weight="bold" >10</text>
<line x1="1429.5" y1="357.1" x2="1436.5" y2="357.1" stroke="#000" stroke-width="2.2" />
<text x="1428.2" y="364.8" font-size="21.5" text-anchor="end" font-weight="bold" >0</text>
<line x1="1527.2" y1="357.1" x2="1527.2" y2="364.1" stroke="#000" stroke-width="2.2" />
<line x1="1707.8" y1="357.1" x2="1707.8" y2="364.1" stroke="#000" stroke-width="2.2" />
<text x="1527.2" y="388.2" font-size="24" text-anchor="middle" font-weight="bold" >ALB</text>
<text x="1707.8" y="388.2" font-size="24" text-anchor="middle" font-weight="bold" >GLOB</text>
<rect x="1466.2" y="66.4" width="15.7" height="16.7" fill="#000000" />
<rect x="1466.2" y="93.7" width="15.7" height="17" fill="#0000C0" />
<rect x="1580.2" y="66.4" width="15.9" height="15.9" fill="#FF0000" />
<rect x="1580.2" y="94.2" width="15.9" height="16.5" fill="#008000" />
<text x="1492.8" y="81.6" font-size="20.5" text-anchor="start" font-weight="bold" >PBS</text>
<text x="1492.8" y="108.5" font-size="20.5" text-anchor="start" font-weight="bold" ><tspan letter-spacing="0.6">Ti<tspan font-size="15" font-weight="bold" dy="4.8">3</tspan><tspan dy="-4.8">C</tspan><tspan font-size="15" font-weight="bold" dy="4.8">2</tspan><tspan dy="-4.8">T</tspan><tspan font-size="15" font-weight="bold" dy="4.8">x</tspan></tspan></text>
<text x="1606.8" y="81" font-size="20.5" text-anchor="start" font-weight="bold" ><tspan letter-spacing="0.6">Thp-Ti<tspan font-size="15" font-weight="bold" dy="4.8">3</tspan><tspan dy="-4.8">C</tspan><tspan font-size="15" font-weight="bold" dy="4.8">2</tspan><tspan dy="-4.8">T</tspan><tspan font-size="15" font-weight="bold" dy="4.8">x</tspan></tspan></text>
<text x="1606.8" y="108.5" font-size="20.5" text-anchor="start" font-weight="bold" ><tspan letter-spacing="0.6">Pd-Thp-Ti<tspan font-size="15" font-weight="bold" dy="4.8">3</tspan><tspan dy="-4.8">C</tspan><tspan font-size="15" font-weight="bold" dy="4.8">2</tspan><tspan dy="-4.8">T</tspan><tspan font-size="15" font-weight="bold" dy="4.8">x</tspan></tspan></text>
<text x="0" y="0" font-size="23.2" font-weight="bold" text-anchor="start" transform="translate(1395,307) rotate(-90)">Concentration (g/L)</text>
<text x="1354.7" y="35.1" font-size="42" text-anchor="start" font-weight="bold" >(D)</text>
<rect x="139.8" y="524.1" width="39" height="241.3" fill="#FF8000" stroke="#FF6A00" stroke-width="0.8"/>
<line x1="159.3" y1="524.1" x2="159.3" y2="514" stroke="#000" stroke-width="1.5" />
<line x1="154.3" y1="514" x2="164.3" y2="514" stroke="#000" stroke-width="1.5" />
<rect x="219.9" y="532" width="39.7" height="233.4" fill="#FF8000" stroke="#FF6A00" stroke-width="0.8"/>
<line x1="239.75" y1="532" x2="239.75" y2="496.8" stroke="#000" stroke-width="1.5" />
<line x1="234.75" y1="496.8" x2="244.75" y2="496.8" stroke="#000" stroke-width="1.5" />
<rect x="300.4" y="495.5" width="39.8" height="269.9" fill="#FF8000" stroke="#FF6A00" stroke-width="0.8"/>
<line x1="320.3" y1="495.5" x2="320.3" y2="475.5" stroke="#000" stroke-width="1.5" />
<line x1="315.3" y1="475.5" x2="325.3" y2="475.5" stroke="#000" stroke-width="1.5" />
<rect x="380.7" y="539" width="39.8" height="226.4" fill="#FF8000" stroke="#FF6A00" stroke-width="0.8"/>
<line x1="400.6" y1="539" x2="400.6" y2="519.8" stroke="#000" stroke-width="1.5" />
<line x1="395.6" y1="519.8" x2="405.6" y2="519.8" stroke="#000" stroke-width="1.5" />
<rect x="99.2" y="464.6" width="361.7" height="300.8" fill="none" stroke="#000" stroke-width="2.2"/>
<line x1="92.2" y1="464.6" x2="99.2" y2="464.6" stroke="#000" stroke-width="2.2" />
<text x="89.8" y="472.66" font-size="22.5" text-anchor="end" font-weight="bold" >100</text>
<line x1="92.2" y1="524.7" x2="99.2" y2="524.7" stroke="#000" stroke-width="2.2" />
<text x="89.8" y="532.75" font-size="22.5" text-anchor="end" font-weight="bold" >80</text>
<line x1="92.2" y1="584.9" x2="99.2" y2="584.9" stroke="#000" stroke-width="2.2" />
<text x="89.8" y="592.95" font-size="22.5" text-anchor="end" font-weight="bold" >60</text>
<line x1="92.2" y1="644.9" x2="99.2" y2="644.9" stroke="#000" stroke-width="2.2" />
<text x="89.8" y="652.95" font-size="22.5" text-anchor="end" font-weight="bold" >40</text>
<line x1="92.2" y1="705" x2="99.2" y2="705" stroke="#000" stroke-width="2.2" />
<text x="89.8" y="713.05" font-size="22.5" text-anchor="end" font-weight="bold" >20</text>
<line x1="92.2" y1="765.4" x2="99.2" y2="765.4" stroke="#000" stroke-width="2.2" />
<text x="89.8" y="773.45" font-size="22.5" text-anchor="end" font-weight="bold" >0</text>
<line x1="159.3" y1="765.4" x2="159.3" y2="772.4" stroke="#000" stroke-width="2.2" />
<line x1="239.75" y1="765.4" x2="239.75" y2="772.4" stroke="#000" stroke-width="2.2" />
<line x1="320.3" y1="765.4" x2="320.3" y2="772.4" stroke="#000" stroke-width="2.2" />
<line x1="400.6" y1="765.4" x2="400.6" y2="772.4" stroke="#000" stroke-width="2.2" />
<text x="0" y="0" font-size="23" font-weight="bold" text-anchor="end" transform="translate(168.3,791.4) rotate(-45)">PBS</text>
<text x="0" y="0" font-size="23" font-weight="bold" text-anchor="end" transform="translate(248.75,791.4) rotate(-45)"><tspan>Ti<tspan font-size="17" font-weight="normal" dy="5">3</tspan><tspan dy="-5">C</tspan><tspan font-size="17" font-weight="normal" dy="5">2</tspan><tspan dy="-5">T</tspan><tspan font-size="17" font-weight="normal" dy="5">x</tspan></tspan></text>
<text x="0" y="0" font-size="23" font-weight="bold" text-anchor="end" transform="translate(329.3,791.4) rotate(-45)"><tspan>Thp-Ti<tspan font-size="17" font-weight="normal" dy="5">3</tspan><tspan dy="-5">C</tspan><tspan font-size="17" font-weight="normal" dy="5">2</tspan><tspan dy="-5">T</tspan><tspan font-size="17" font-weight="normal" dy="5">x</tspan></tspan></text>
<text x="0" y="0" font-size="23" font-weight="bold" text-anchor="end" transform="translate(409.6,791.4) rotate(-45)"><tspan>Pd-Thp-Ti<tspan font-size="17" font-weight="normal" dy="5">3</tspan><tspan dy="-5">C</tspan><tspan font-size="17" font-weight="normal" dy="5">2</tspan><tspan dy="-5">T</tspan><tspan font-size="17" font-weight="normal" dy="5">x</tspan></tspan></text>
<text x="0" y="0" font-size="23.6" font-weight="bold" text-anchor="start" transform="translate(40.6,690.3) rotate(-90)">CREA (<tspan font-family="'Liberation Serif', serif">μ</tspan>mol/L)</text>
<text x="0.6" y="446.7" font-size="42" text-anchor="start" font-weight="bold" >(E)</text>
<rect x="598.2" y="550.2" width="39.2" height="215.3" fill="#FF8000" stroke="#FF6A00" stroke-width="0.8"/>
<line x1="617.8" y1="550.2" x2="617.8" y2="541.3" stroke="#000" stroke-width="1.5" />
<line x1="612.8" y1="541.3" x2="622.8" y2="541.3" stroke="#000" stroke-width="1.5" />
<rect x="678" y="542.3" width="40" height="223.2" fill="#FF8000" stroke="#FF6A00" stroke-width="0.8"/>
<line x1="698" y1="542.3" x2="698" y2="521.6" stroke="#000" stroke-width="1.5" />
<line x1="693" y1="521.6" x2="703" y2="521.6" stroke="#000" stroke-width="1.5" />
<rect x="758.5" y="518.5" width="39.8" height="247" fill="#FF8000" stroke="#FF6A00" stroke-width="0.8"/>
<line x1="778.4" y1="518.5" x2="778.4" y2="492.7" stroke="#000" stroke-width="1.5" />
<line x1="773.4" y1="492.7" x2="783.4" y2="492.7" stroke="#000" stroke-width="1.5" />
<rect x="838.8" y="545.1" width="39.8" height="220.4" fill="#FF8000" stroke="#FF6A00" stroke-width="0.8"/>
<line x1="858.7" y1="545.1" x2="858.7" y2="533" stroke="#000" stroke-width="1.5" />
<line x1="853.7" y1="533" x2="863.7" y2="533" stroke="#000" stroke-width="1.5" />
<rect x="556.9" y="463.8" width="362.1" height="301.7" fill="none" stroke="#000" stroke-width="2.2"/>
<line x1="549.9" y1="463.8" x2="556.9" y2="463.8" stroke="#000" stroke-width="2.2" />
<text x="547.5" y="471.86" font-size="22.5" text-anchor="end" font-weight="bold" >40</text>
<line x1="549.9" y1="539.3" x2="556.9" y2="539.3" stroke="#000" stroke-width="2.2" />
<text x="547.5" y="547.35" font-size="22.5" text-anchor="end" font-weight="bold" >30</text>
<line x1="549.9" y1="614.6" x2="556.9" y2="614.6" stroke="#000" stroke-width="2.2" />
<text x="547.5" y="622.65" font-size="22.5" text-anchor="end" font-weight="bold" >20</text>
<line x1="549.9" y1="690" x2="556.9" y2="690" stroke="#000" stroke-width="2.2" />
<text x="547.5" y="698.05" font-size="22.5" text-anchor="end" font-weight="bold" >10</text>
<line x1="549.9" y1="765.5" x2="556.9" y2="765.5" stroke="#000" stroke-width="2.2" />
<text x="547.5" y="773.55" font-size="22.5" text-anchor="end" font-weight="bold" >0</text>
<line x1="617.8" y1="765.5" x2="617.8" y2="772.5" stroke="#000" stroke-width="2.2" />
<line x1="698" y1="765.5" x2="698" y2="772.5" stroke="#000" stroke-width="2.2" />
<line x1="778.4" y1="765.5" x2="778.4" y2="772.5" stroke="#000" stroke-width="2.2" />
<line x1="858.7" y1="765.5" x2="858.7" y2="772.5" stroke="#000" stroke-width="2.2" />
<text x="0" y="0" font-size="23" font-weight="bold" text-anchor="end" transform="translate(626.8,791.5) rotate(-45)">PBS</text>
<text x="0" y="0" font-size="23" font-weight="bold" text-anchor="end" transform="translate(707,791.5) rotate(-45)"><tspan>Ti<tspan font-size="17" font-weight="normal" dy="5">3</tspan><tspan dy="-5">C</tspan><tspan font-size="17" font-weight="normal" dy="5">2</tspan><tspan dy="-5">T</tspan><tspan font-size="17" font-weight="normal" dy="5">x</tspan></tspan></text>
<text x="0" y="0" font-size="23" font-weight="bold" text-anchor="end" transform="translate(787.4,791.5) rotate(-45)"><tspan>Thp-Ti<tspan font-size="17" font-weight="normal" dy="5">3</tspan><tspan dy="-5">C</tspan><tspan font-size="17" font-weight="normal" dy="5">2</tspan><tspan dy="-5">T</tspan><tspan font-size="17" font-weight="normal" dy="5">x</tspan></tspan></text>
<text x="0" y="0" font-size="23" font-weight="bold" text-anchor="end" transform="translate(867.7,791.5) rotate(-45)"><tspan>Pd-Thp-Ti<tspan font-size="17" font-weight="normal" dy="5">3</tspan><tspan dy="-5">C</tspan><tspan font-size="17" font-weight="normal" dy="5">2</tspan><tspan dy="-5">T</tspan><tspan font-size="17" font-weight="normal" dy="5">x</tspan></tspan></text>
<text x="0" y="0" font-size="23.6" font-weight="bold" text-anchor="start" transform="translate(513.4,685.2) rotate(-90)">BUN (mmol/L)</text>
<text x="465.1" y="446.3" font-size="42" text-anchor="start" font-weight="bold" >(F)</text>
<rect x="1027.9" y="543.1" width="39.8" height="224.9" fill="#FF8000" stroke="#FF6A00" stroke-width="0.8"/>
<line x1="1047.8" y1="543.1" x2="1047.8" y2="531.7" stroke="#000" stroke-width="1.5" />
<line x1="1042.8" y1="531.7" x2="1052.8" y2="531.7" stroke="#000" stroke-width="1.5" />
<rect x="1108.2" y="553.7" width="39.5" height="214.3" fill="#FF8000" stroke="#FF6A00" stroke-width="0.8"/>
<line x1="1127.95" y1="553.7" x2="1127.95" y2="535" stroke="#000" stroke-width="1.5" />
<line x1="1122.95" y1="535" x2="1132.95" y2="535" stroke="#000" stroke-width="1.5" />
<rect x="1188.2" y="540.6" width="39.8" height="227.4" fill="#FF8000" stroke="#FF6A00" stroke-width="0.8"/>
<line x1="1208.1" y1="540.6" x2="1208.1" y2="504.6" stroke="#000" stroke-width="1.5" />
<line x1="1203.1" y1="504.6" x2="1213.1" y2="504.6" stroke="#000" stroke-width="1.5" />
<rect x="1268.5" y="540.6" width="39.8" height="227.4" fill="#FF8000" stroke="#FF6A00" stroke-width="0.8"/>
<line x1="1288.4" y1="540.6" x2="1288.4" y2="504.6" stroke="#000" stroke-width="1.5" />
<line x1="1283.4" y1="504.6" x2="1293.4" y2="504.6" stroke="#000" stroke-width="1.5" />
<rect x="987.4" y="466.6" width="362.2" height="301.4" fill="none" stroke="#000" stroke-width="2.2"/>
<line x1="980.4" y1="499.5" x2="987.4" y2="499.5" stroke="#000" stroke-width="2.2" />
<text x="977.3" y="507.2" font-size="21.5" text-anchor="end" font-weight="bold" >4</text>
<line x1="980.4" y1="567.2" x2="987.4" y2="567.2" stroke="#000" stroke-width="2.2" />
<text x="977.3" y="574.9" font-size="21.5" text-anchor="end" font-weight="bold" >3</text>
<line x1="980.4" y1="633.8" x2="987.4" y2="633.8" stroke="#000" stroke-width="2.2" />
<text x="977.3" y="641.5" font-size="21.5" text-anchor="end" font-weight="bold" >2</text>
<line x1="980.4" y1="700.9" x2="987.4" y2="700.9" stroke="#000" stroke-width="2.2" />
<text x="977.3" y="708.6" font-size="21.5" text-anchor="end" font-weight="bold" >1</text>
<line x1="980.4" y1="768" x2="987.4" y2="768" stroke="#000" stroke-width="2.2" />
<text x="977.3" y="775.7" font-size="21.5" text-anchor="end" font-weight="bold" >0</text>
<line x1="1047.8" y1="768" x2="1047.8" y2="775" stroke="#000" stroke-width="2.2" />
<line x1="1127.95" y1="768" x2="1127.95" y2="775" stroke="#000" stroke-width="2.2" />
<line x1="1208.1" y1="768" x2="1208.1" y2="775" stroke="#000" stroke-width="2.2" />
<line x1="1288.4" y1="768" x2="1288.4" y2="775" stroke="#000" stroke-width="2.2" />
<text x="0" y="0" font-size="23" font-weight="bold" text-anchor="end" transform="translate(1056.8,794) rotate(-45)">PBS</text>
<text x="0" y="0" font-size="23" font-weight="bold" text-anchor="end" transform="translate(1136.95,794) rotate(-45)"><tspan>Ti<tspan font-size="17" font-weight="normal" dy="5">3</tspan><tspan dy="-5">C</tspan><tspan font-size="17" font-weight="normal" dy="5">2</tspan><tspan dy="-5">T</tspan><tspan font-size="17" font-weight="normal" dy="5">x</tspan></tspan></text>
<text x="0" y="0" font-size="23" font-weight="bold" text-anchor="end" transform="translate(1217.1,794) rotate(-45)"><tspan>Thp-Ti<tspan font-size="17" font-weight="normal" dy="5">3</tspan><tspan dy="-5">C</tspan><tspan font-size="17" font-weight="normal" dy="5">2</tspan><tspan dy="-5">T</tspan><tspan font-size="17" font-weight="normal" dy="5">x</tspan></tspan></text>
<text x="0" y="0" font-size="23" font-weight="bold" text-anchor="end" transform="translate(1297.4,794) rotate(-45)"><tspan>Pd-Thp-Ti<tspan font-size="17" font-weight="normal" dy="5">3</tspan><tspan dy="-5">C</tspan><tspan font-size="17" font-weight="normal" dy="5">2</tspan><tspan dy="-5">T</tspan><tspan font-size="17" font-weight="normal" dy="5">x</tspan></tspan></text>
<text x="0" y="0" font-size="23.6" font-weight="bold" text-anchor="start" transform="translate(955.8,687.7) rotate(-90)">GLU (mmol/L)</text>
<text x="924.8" y="446.3" font-size="42" text-anchor="start" font-weight="bold" >(G)</text>
<rect x="1475.8" y="522.1" width="39.8" height="245.9" fill="#FF8000" stroke="#FF6A00" stroke-width="0.8"/>
<line x1="1495.7" y1="522.1" x2="1495.7" y2="512.7" stroke="#000" stroke-width="1.5" />
<line x1="1490.7" y1="512.7" x2="1500.7" y2="512.7" stroke="#000" stroke-width="1.5" />
<rect x="1556.1" y="526.1" width="40" height="241.9" fill="#FF8000" stroke="#FF6A00" stroke-width="0.8"/>
<line x1="1576.1" y1="526.1" x2="1576.1" y2="516" stroke="#000" stroke-width="1.5" />
<line x1="1571.1" y1="516" x2="1581.1" y2="516" stroke="#000" stroke-width="1.5" />
<rect x="1636.6" y="525.1" width="39.8" height="242.9" fill="#FF8000" stroke="#FF6A00" stroke-width="0.8"/>
<line x1="1656.5" y1="525.1" x2="1656.5" y2="503.3" stroke="#000" stroke-width="1.5" />
<line x1="1651.5" y1="503.3" x2="1661.5" y2="503.3" stroke="#000" stroke-width="1.5" />
<rect x="1717" y="516.8" width="40" height="251.2" fill="#FF8000" stroke="#FF6A00" stroke-width="0.8"/>
<line x1="1737" y1="516.8" x2="1737" y2="501.8" stroke="#000" stroke-width="1.5" />
<line x1="1732" y1="501.8" x2="1742" y2="501.8" stroke="#000" stroke-width="1.5" />
<rect x="1435.8" y="466.6" width="362.2" height="301.4" fill="none" stroke="#000" stroke-width="2.2"/>
<line x1="1428.8" y1="466.6" x2="1435.8" y2="466.6" stroke="#000" stroke-width="2.2" />
<text x="1427" y="474.48" font-size="22" text-anchor="end" font-weight="bold" >1.2</text>
<line x1="1428.8" y1="567.7" x2="1435.8" y2="567.7" stroke="#000" stroke-width="2.2" />
<text x="1427" y="575.58" font-size="22" text-anchor="end" font-weight="bold" >0.8</text>
<line x1="1428.8" y1="667.7" x2="1435.8" y2="667.7" stroke="#000" stroke-width="2.2" />
<text x="1427" y="675.58" font-size="22" text-anchor="end" font-weight="bold" >0.4</text>
<line x1="1428.8" y1="768" x2="1435.8" y2="768" stroke="#000" stroke-width="2.2" />
<text x="1427" y="775.88" font-size="22" text-anchor="end" font-weight="bold" >0.0</text>
<line x1="1495.7" y1="768" x2="1495.7" y2="775" stroke="#000" stroke-width="2.2" />
<line x1="1576.1" y1="768" x2="1576.1" y2="775" stroke="#000" stroke-width="2.2" />
<line x1="1656.5" y1="768" x2="1656.5" y2="775" stroke="#000" stroke-width="2.2" />
<line x1="1737" y1="768" x2="1737" y2="775" stroke="#000" stroke-width="2.2" />
<text x="0" y="0" font-size="23" font-weight="bold" text-anchor="end" transform="translate(1504.7,794) rotate(-45)">PBS</text>
<text x="0" y="0" font-size="23" font-weight="bold" text-anchor="end" transform="translate(1585.1,794) rotate(-45)"><tspan>Ti<tspan font-size="17" font-weight="normal" dy="5">3</tspan><tspan dy="-5">C</tspan><tspan font-size="17" font-weight="normal" dy="5">2</tspan><tspan dy="-5">T</tspan><tspan font-size="17" font-weight="normal" dy="5">x</tspan></tspan></text>
<text x="0" y="0" font-size="23" font-weight="bold" text-anchor="end" transform="translate(1665.5,794) rotate(-45)"><tspan>Thp-Ti<tspan font-size="17" font-weight="normal" dy="5">3</tspan><tspan dy="-5">C</tspan><tspan font-size="17" font-weight="normal" dy="5">2</tspan><tspan dy="-5">T</tspan><tspan font-size="17" font-weight="normal" dy="5">x</tspan></tspan></text>
<text x="0" y="0" font-size="23" font-weight="bold" text-anchor="end" transform="translate(1746,794) rotate(-45)"><tspan>Pd-Thp-Ti<tspan font-size="17" font-weight="normal" dy="5">3</tspan><tspan dy="-5">C</tspan><tspan font-size="17" font-weight="normal" dy="5">2</tspan><tspan dy="-5">T</tspan><tspan font-size="17" font-weight="normal" dy="5">x</tspan></tspan></text>
<text x="0" y="0" font-size="23.6" font-weight="bold" text-anchor="start" transform="translate(1385.3,632) rotate(-90)">A/G</text>
<text x="1354.7" y="446.3" font-size="42" text-anchor="start" font-weight="bold" >(H)</text>
<rect x="144.6" y="1023.5" width="39.6" height="214.1" fill="#FF8000" stroke="#FF6A00" stroke-width="0.8"/>
<line x1="164.4" y1="1023.5" x2="164.4" y2="1017.5" stroke="#000" stroke-width="1.5" />
<line x1="159.4" y1="1017.5" x2="169.4" y2="1017.5" stroke="#000" stroke-width="1.5" />
<rect x="225.2" y="995.5" width="39.7" height="242.1" fill="#FF8000" stroke="#FF6A00" stroke-width="0.8"/>
<line x1="245.05" y1="995.5" x2="245.05" y2="962.7" stroke="#000" stroke-width="1.5" />
<line x1="240.05" y1="962.7" x2="250.05" y2="962.7" stroke="#000" stroke-width="1.5" />
<rect x="305.3" y="1016.1" width="39.7" height="221.5" fill="#FF8000" stroke="#FF6A00" stroke-width="0.8"/>
<line x1="325.15" y1="1016.1" x2="325.15" y2="1001.6" stroke="#000" stroke-width="1.5" />
<line x1="320.15" y1="1001.6" x2="330.15" y2="1001.6" stroke="#000" stroke-width="1.5" />
<rect x="386" y="983.1" width="39.6" height="254.5" fill="#FF8000" stroke="#FF6A00" stroke-width="0.8"/>
<line x1="405.8" y1="983.1" x2="405.8" y2="950.8" stroke="#000" stroke-width="1.5" />
<line x1="400.8" y1="950.8" x2="410.8" y2="950.8" stroke="#000" stroke-width="1.5" />
<rect x="104.4" y="936.8" width="362.2" height="300.8" fill="none" stroke="#000" stroke-width="2.2"/>
<line x1="97.4" y1="936.8" x2="104.4" y2="936.8" stroke="#000" stroke-width="2.2" />
<text x="93.8" y="944.68" font-size="22" text-anchor="end" font-weight="bold" >3000</text>
<line x1="97.4" y1="1036.8" x2="104.4" y2="1036.8" stroke="#000" stroke-width="2.2" />
<text x="93.8" y="1044.68" font-size="22" text-anchor="end" font-weight="bold" >2000</text>
<line x1="97.4" y1="1137.7" x2="104.4" y2="1137.7" stroke="#000" stroke-width="2.2" />
<text x="93.8" y="1145.58" font-size="22" text-anchor="end" font-weight="bold" >1000</text>
<line x1="97.4" y1="1237.6" x2="104.4" y2="1237.6" stroke="#000" stroke-width="2.2" />
<text x="93.8" y="1245.48" font-size="22" text-anchor="end" font-weight="bold" >0</text>
<line x1="164.4" y1="1237.6" x2="164.4" y2="1244.6" stroke="#000" stroke-width="2.2" />
<line x1="245.05" y1="1237.6" x2="245.05" y2="1244.6" stroke="#000" stroke-width="2.2" />
<line x1="325.15" y1="1237.6" x2="325.15" y2="1244.6" stroke="#000" stroke-width="2.2" />
<line x1="405.8" y1="1237.6" x2="405.8" y2="1244.6" stroke="#000" stroke-width="2.2" />
<text x="0" y="0" font-size="23" font-weight="bold" text-anchor="end" transform="translate(173.4,1263.6) rotate(-45)">PBS</text>
<text x="0" y="0" font-size="23" font-weight="bold" text-anchor="end" transform="translate(254.05,1263.6) rotate(-45)"><tspan>Ti<tspan font-size="17" font-weight="normal" dy="5">3</tspan><tspan dy="-5">C</tspan><tspan font-size="17" font-weight="normal" dy="5">2</tspan><tspan dy="-5">T</tspan><tspan font-size="17" font-weight="normal" dy="5">x</tspan></tspan></text>
<text x="0" y="0" font-size="23" font-weight="bold" text-anchor="end" transform="translate(334.15,1263.6) rotate(-45)"><tspan>Thp-Ti<tspan font-size="17" font-weight="normal" dy="5">3</tspan><tspan dy="-5">C</tspan><tspan font-size="17" font-weight="normal" dy="5">2</tspan><tspan dy="-5">T</tspan><tspan font-size="17" font-weight="normal" dy="5">x</tspan></tspan></text>
<text x="0" y="0" font-size="23" font-weight="bold" text-anchor="end" transform="translate(414.8,1263.6) rotate(-45)"><tspan>Pd-Thp-Ti<tspan font-size="17" font-weight="normal" dy="5">3</tspan><tspan dy="-5">C</tspan><tspan font-size="17" font-weight="normal" dy="5">2</tspan><tspan dy="-5">T</tspan><tspan font-size="17" font-weight="normal" dy="5">x</tspan></tspan></text>
<text x="0" y="0" font-size="23.6" font-weight="bold" text-anchor="start" transform="translate(33.7,1144.5) rotate(-90)">AMYL (U/L)</text>
<text x="2.2" y="924.6" font-size="42" text-anchor="start" font-weight="bold" >(I)</text>
<rect x="138.1" y="1467.9" width="40.2" height="252.8" fill="#FF8000" stroke="#FF6A00" stroke-width="0.8"/>
<line x1="158.2" y1="1467.9" x2="158.2" y2="1449" stroke="#000" stroke-width="1.5" />
<line x1="153.2" y1="1449" x2="163.2" y2="1449" stroke="#000" stroke-width="1.5" />
<rect x="218.5" y="1454.4" width="40.2" height="266.3" fill="#FF8000" stroke="#FF6A00" stroke-width="0.8"/>
<line x1="238.6" y1="1454.4" x2="238.6" y2="1447.6" stroke="#000" stroke-width="1.5" />
<line x1="233.6" y1="1447.6" x2="243.6" y2="1447.6" stroke="#000" stroke-width="1.5" />
<rect x="299.5" y="1462" width="39.6" height="258.7" fill="#FF8000" stroke="#FF6A00" stroke-width="0.8"/>
<line x1="319.3" y1="1462" x2="319.3" y2="1441" stroke="#000" stroke-width="1.5" />
<line x1="314.3" y1="1441" x2="324.3" y2="1441" stroke="#000" stroke-width="1.5" />
<rect x="379.9" y="1462" width="39.9" height="258.7" fill="#FF8000" stroke="#FF6A00" stroke-width="0.8"/>
<line x1="399.85" y1="1462" x2="399.85" y2="1435.4" stroke="#000" stroke-width="1.5" />
<line x1="394.85" y1="1435.4" x2="404.85" y2="1435.4" stroke="#000" stroke-width="1.5" />
<rect x="97.7" y="1419.3" width="363.1" height="301.4" fill="none" stroke="#000" stroke-width="2.2"/>
<line x1="90.7" y1="1419.3" x2="97.7" y2="1419.3" stroke="#000" stroke-width="2.2" />
<text x="90" y="1427.18" font-size="22" text-anchor="end" font-weight="bold" >1000</text>
<line x1="90.7" y1="1479.5" x2="97.7" y2="1479.5" stroke="#000" stroke-width="2.2" />
<text x="90" y="1487.38" font-size="22" text-anchor="end" font-weight="bold" >800</text>
<line x1="90.7" y1="1540.1" x2="97.7" y2="1540.1" stroke="#000" stroke-width="2.2" />
<text x="90" y="1547.98" font-size="22" text-anchor="end" font-weight="bold" >600</text>
<line x1="90.7" y1="1600.4" x2="97.7" y2="1600.4" stroke="#000" stroke-width="2.2" />
<text x="90" y="1608.28" font-size="22" text-anchor="end" font-weight="bold" >400</text>
<line x1="90.7" y1="1660.7" x2="97.7" y2="1660.7" stroke="#000" stroke-width="2.2" />
<text x="90" y="1668.58" font-size="22" text-anchor="end" font-weight="bold" >200</text>
<line x1="90.7" y1="1720.7" x2="97.7" y2="1720.7" stroke="#000" stroke-width="2.2" />
<text x="90" y="1728.58" font-size="22" text-anchor="end" font-weight="bold" >0</text>
<line x1="158.2" y1="1720.7" x2="158.2" y2="1727.7" stroke="#000" stroke-width="2.2" />
<line x1="238.6" y1="1720.7" x2="238.6" y2="1727.7" stroke="#000" stroke-width="2.2" />
<line x1="319.3" y1="1720.7" x2="319.3" y2="1727.7" stroke="#000" stroke-width="2.2" />
<line x1="399.85" y1="1720.7" x2="399.85" y2="1727.7" stroke="#000" stroke-width="2.2" />
<text x="0" y="0" font-size="23" font-weight="bold" text-anchor="end" transform="translate(167.2,1746.7) rotate(-45)">PBS</text>
<text x="0" y="0" font-size="23" font-weight="bold" text-anchor="end" transform="translate(247.6,1746.7) rotate(-45)"><tspan>Ti<tspan font-size="17" font-weight="normal" dy="5">3</tspan><tspan dy="-5">C</tspan><tspan font-size="17" font-weight="normal" dy="5">2</tspan><tspan dy="-5">T</tspan><tspan font-size="17" font-weight="normal" dy="5">x</tspan></tspan></text>
<text x="0" y="0" font-size="23" font-weight="bold" text-anchor="end" transform="translate(328.3,1746.7) rotate(-45)"><tspan>Thp-Ti<tspan font-size="17" font-weight="normal" dy="5">3</tspan><tspan dy="-5">C</tspan><tspan font-size="17" font-weight="normal" dy="5">2</tspan><tspan dy="-5">T</tspan><tspan font-size="17" font-weight="normal" dy="5">x</tspan></tspan></text>
<text x="0" y="0" font-size="23" font-weight="bold" text-anchor="end" transform="translate(408.85,1746.7) rotate(-45)"><tspan>Pd-Thp-Ti<tspan font-size="17" font-weight="normal" dy="5">3</tspan><tspan dy="-5">C</tspan><tspan font-size="17" font-weight="normal" dy="5">2</tspan><tspan dy="-5">T</tspan><tspan font-size="17" font-weight="normal" dy="5">x</tspan></tspan></text>
<text x="0" y="0" font-size="23.6" font-weight="bold" text-anchor="start" transform="translate(27.8,1618.9) rotate(-90)">LIPA (U/L)</text>
<text x="1.6" y="1384.1" font-size="42" text-anchor="start" font-weight="bold" >(J)</text>
<defs>
<clipPath id="t00"><rect x="675.5" y="983.7" width="227.1" height="168.8"/></clipPath>
<clipPath id="t01"><rect x="902.6" y="983.7" width="226.8" height="168.8"/></clipPath>
<clipPath id="t02"><rect x="1129.4" y="983.7" width="227.4" height="168.8"/></clipPath>
<clipPath id="t03"><rect x="1356.8" y="983.7" width="228.2" height="168.8"/></clipPath>
<clipPath id="t04"><rect x="1585" y="983.7" width="227" height="168.8"/></clipPath>
<clipPath id="t10"><rect x="675.5" y="1165.5" width="227.1" height="168.8"/></clipPath>
<clipPath id="t11"><rect x="902.6" y="1165.5" width="226.8" height="168.8"/></clipPath>
<clipPath id="t12"><rect x="1129.4" y="1165.5" width="227.4" height="168.8"/></clipPath>
<clipPath id="t13"><rect x="1356.8" y="1165.5" width="228.2" height="168.8"/></clipPath>
<clipPath id="t14"><rect x="1585" y="1165.5" width="227" height="168.8"/></clipPath>
<clipPath id="t20"><rect x="675.5" y="1347.2" width="227.1" height="169.8"/></clipPath>
<clipPath id="t21"><rect x="902.6" y="1347.2" width="226.8" height="169.8"/></clipPath>
<clipPath id="t22"><rect x="1129.4" y="1347.2" width="227.4" height="169.8"/></clipPath>
<clipPath id="t23"><rect x="1356.8" y="1347.2" width="228.2" height="169.8"/></clipPath>
<clipPath id="t24"><rect x="1585" y="1347.2" width="227" height="169.8"/></clipPath>
<clipPath id="t30"><rect x="675.5" y="1530.5" width="227.1" height="167.7"/></clipPath>
<clipPath id="t31"><rect x="902.6" y="1530.5" width="226.8" height="167.7"/></clipPath>
<clipPath id="t32"><rect x="1129.4" y="1530.5" width="227.4" height="167.7"/></clipPath>
<clipPath id="t33"><rect x="1356.8" y="1530.5" width="228.2" height="167.7"/></clipPath>
<clipPath id="t34"><rect x="1585" y="1530.5" width="227" height="167.7"/></clipPath>

<filter id="mottle" x="0" y="0" width="1" height="1" color-interpolation-filters="sRGB">
  <feTurbulence type="fractalNoise" baseFrequency="0.07" numOctaves="2" seed="7"/>
  <feColorMatrix type="matrix" values="0 0 0 0 1  0 0 0 0 0.8  0 0 0 0 0.95  0 0 -2.5 0 1.3"/>
</filter>
<filter id="cells" x="0" y="0" width="1" height="1" color-interpolation-filters="sRGB">
  <feTurbulence type="turbulence" baseFrequency="0.09" numOctaves="1" seed="3"/>
  <feColorMatrix type="matrix" values="0 0 0 0 0.93  0 0 0 0 0.72  0 0 0 0 0.93  -14 0 0 0 1.1"/>
</filter>
<filter id="spk_light" x="0" y="0" width="1" height="1" color-interpolation-filters="sRGB">
  <feTurbulence type="fractalNoise" baseFrequency="0.5" numOctaves="1" seed="11"/>
  <feColorMatrix type="matrix" values="0 0 0 0 0.86  0 0 0 0 0.56  0 0 0 0 0.86  8 0 0 0 -4.2"/>
</filter>
<filter id="spk_dark" x="0" y="0" width="1" height="1" color-interpolation-filters="sRGB">
  <feTurbulence type="fractalNoise" baseFrequency="0.42" numOctaves="1" seed="23"/>
  <feColorMatrix type="matrix" values="0 0 0 0 0.18  0 0 0 0 0.09  0 0 0 0 0.45  0 8 0 0 -4.1"/>
</filter>
<filter id="knuc" x="0" y="0" width="1" height="1" color-interpolation-filters="sRGB">
  <feTurbulence type="fractalNoise" baseFrequency="0.38" numOctaves="1" seed="31"/>
  <feColorMatrix type="matrix" values="0 0 0 0 0.26  0 0 0 0 0.12  0 0 0 0 0.52  0 8 0 0 -4.6"/>
</filter>
<filter id="blur8" x="-50%" y="-50%" width="200%" height="200%"><feGaussianBlur stdDeviation="14"/></filter>
<filter id="soft" x="0" y="0" width="1" height="1"><feGaussianBlur stdDeviation="0.5"/></filter>

</defs>
<g clip-path="url(#t00)"><g filter="url(#soft)">
<rect x="675.5" y="983.7" width="227.1" height="168.8" fill="#D05CAF" />
<rect x="675.5" y="983.7" width="227.1" height="168.8" fill="#000" filter="url(#mottle)" opacity="0.2"/>
<path d="M704.8 1129l2.4-4.5m79-60.6l3.5-8.7m-94.7-64l3.6-5.4m149.5 2.6l1-8.7m-122.6 165l2-2.7m-49-64.6l4-4.6m42-15.6l-1.7-4.4m51.5 17l-.7-5m-49.3-2l0-3m139.6 20l1.6-4.3m35 56l-1.4-5.4m-63-20l4.3-5m23-.4l-.7-7.7m11.5 37.3l1.4-7.6m-195-95.3l3.4-5.4m28 58l3.5-7.5m43-10l2-9m32-2l.6-3m-111.4 56.7l5.4-5.6m76-82l1.7-10.5m83.3 69.7l3-4m-61 75l2-6.5m-57.5-64l2-2m113 50.5l5.6-7m2.3-44.4l1.5-6.3m-172.3 64.7l1-4.5m101.4-60l0-5.6m6.7 29.4l2-6.3m-116-59.6l-2-7.5m188 104l4.7-8.3m-140.7 13l1.4-3.3m-56-135.7l2.3-4.5m20 107l0-3.5m12-12l-1.3-5m126-6.6l0-6.7m-156.5-6l.3-4.4m19 91l.6-4.4m113-10l-1-3m-103-11l-2-8.5m123-20l-2-10.5m28.7 4.6l-1.3-8m-90.6 18l-.4-8m-79.5-39l6.7-7.5m53 103.5l-.4-10.5m100-68l-.6-3m28-58l5.7-9m-76 31.6l6.3-8.7m27 64l.3-5.6m-113.5 33l.4-4.5m-23 4.4l-.4-7m49.4 39.5l2-2.5m-32.5-87.3l6.4-6.6m26.4-11.5l3.6-9m130.4 30l5-7m-103.5 116l-1.3-8.5m-91.6-131.5l3-3.7m150 77l3.3-5m-99-46.5l4.5-6.3m138 107.3l-2-7m-190-135l-3.6-9.4m157 142l0-8m-2-70l1-4.4m-161.7-13.5l4.5-6m189.7 40l-1-9.4m-22-69l1-3m-161.4 151l-2-4.5m200-74l-1.3-4m-167.4 61.4l-3-10m31 45.4l3-4m-28.6-77.5l-2.5-8m-49-72.7l3.6-4m124.7 78l0-3.5m70.5 91l2.7-3m-162.5-55.3l5-5.3m105.4 14l-1-7.5m-85-64l-2-5m153 40.3l3-7.6m-11-3l0-5.7m-143.4 82l3.3-4.3m1.3-45l2-7.7m-21-83l-.5-3.4m71 14l-2.6-7.5m-58.6 130.4l1.7-10m-33-42.4l2-3m177-49l5.3-9.7m-30.6 33l-2-7m22 .7l2.4-3.3m-3-37.4l-.5-10m-26.4 156.4l5-7.5m-28.7-117l.4-4.4m6 86.5l-.7-3.5m56 29l1.5-7m-26.4-53.6l.3-5.7m-136-66.6l2-6m70 11.5l0-4m-103 37.7l3.6-5m61 63.6l0-3m28-14.3l2-6m35.3 45.3l-1-7m-47-78l.6-7.6m97.4 124.7l-1-8m-195.4-134l2-10m22.6 124.5l3.3-4.4m119.3 20.5l0-8.6m7-34.5l6-8.3m48.4 2.7l-1-5m-169 3.7l1.6-3m104.6 30l0-7m-115.3 10.6l-4-10m148.5-7l-1-10m32.5-73.5l5-8.5m-71 104l1-10m68.4-46l3.3-5.4m-183.4-2l-3-10m181-26.7l2-6m-191.4 37l-1-8.7m-25.6-12l.3-3m140 74l2.7-4m-78.7-5l-1-7.7m-9.5 32l5-8.4m160.7-14.4l1.6-9.7m-47.3 11.7l0-5m-148.7 46.7l-2.6-8.6m98 35.6l5-9.5m-96-71l1.4-5.3m82-20l1-3m-14 20l-.4-6m77 46.6l1-8m-91.5-74.6l-2-5m49 120l4-6m84.6-65.3l3.5-5m-56.7 93.4l0-4.4m-28.4-73.4l0-3m-52.7-11.3l.6-10m41.3 60.6l5.5-7m-25 9.3l3-7.7m28-49.5l3-7.6m65.7 71l5-7.6m-30-23.5l0-5m-25 50l1-4.3m27.7-62l.5-3.4m-73.7 48.5l.4-6m32-114l2-10.5m5 73.3l3-7m-112-27.3l3-4m-32.7 110l1-6m99.7-8.7l-2-8m47.3 21l-1-7.7m-107.6-34.5l-2-9m146-29.3l-2-10.5m-33.3 96.7l-4-9.4m-17.6-79.7l1-9m36-15l1-4m39.3 48.3l5.6-7m-86.5-25l1-4m-107 83l0-9m22 7.4l2.5-5m-32-50l.7-3.6m16.5-51l3-9.6m3 5.7l4-8.7m168 107l0-10m-191 21.4l-2-6m87-47.7l-1-5m73.6 19l1.3-4.4m-26-15l3-10m59.4-39l5-8m-157 66l2.7-10m16 90.6l2-3.7m116.6-140l-2-8m-192.7 68.6l-2-6.5" stroke="#F2B2E2" stroke-width="0.9" stroke-linecap="round" fill="none" stroke-opacity="0.8" />
<path d="M865.6 1136l0-.4m0-143.5l0-.5m-169-1.5l.6-1.6m133.7 137.7l.3-1m-13 21.6l.5-.7m-129-5l.5-1m122.5-61.7l0-.5m-56.7-23.4l0-2m15.7 43.5l.5-1.6m66.6 17l0-2.3m-128.7 29.7l1-1.7m-23-136.6l.5-1m71.3 150l0-1m16.3-141.6l0-1.6m99-16.3l0-.4m-18.5 11l0-1m-15 39l-.4-1.6m17 92l0-1m-126.6-49l0-1m121 67.5l.3-.5m-30-83.7l1-1.5m40 44l.6-2m-1-67l0-1m-70-31l0-1.6m-107.4 121l0-1m57.4-76l0-1.5m46 31l-.4-2.3m-39.3-31l0-2m34 99.5l1-2m75 4l.6-1.6m-154-65l.5-2.3m146 31.4l0-1m35.6-9l0-1m8.5-17.7l0-.5m-66 5.7l0-.6m-62 28l0-.4m30.3-76.5l0-1m19.4 44.3l0-.4m49 20.7l0-2m-186.7-44l.7-1.7m58.3 89l.5-2m136.7-76l.4-1.3m11 63.7l1-1.7m11.5-88.6l0-2m-51.4 44.6l0-1m25.4 47.7l0-.4m-7-55.7l0-1m-36-74.5l0-1m43.7 125l.6-1.4m-71.4-31.4l.3-1.3m55.3 68.5l0-1.5m-115-107l0-1.6m54.6 114l0-1.6m100-39l0-1m-133.6 35l.7-1.6m111-.7l.6-1m-98-20l0-2m4-75.4l0-.5m-28.7 13.7l0-.7m-21.3 74.6l0-1m166-98.6l0-1.7m-69 30.7l.3-1m5 11l.7-1.7m-141-59.3l0-.6m-15 22l.6-2m83.7 79.6l0-.4m48 46l0-1m-60-7.5l.4-.4m46-87.4l.3-.5m-65-22.3l.4-2m133 86l.3-.4m-105.5-19l0-1m116-91.4l0-.5m-116.7 132.6l0-1.3m6.6-2l.4-.7m17 2l0-1m60-92.3l0-.3m51 54.5l1-2m-163-17.6l.3-1.7m129.3-50.4l0-1.6m-97-15l0-1.3m42 140l.3-1.6m-101.4-89.6l0-1.6m26.6-32l0-1m16 67l0-2m80-10.5l0-1m-1 20l.6-2m-84.7-24l0-.6m-39.4-38.7l0-1.3m126.5 52l0-.5m-113.5 1.6l.5-1m-44-90l0-1.6m17.6 36l.7-2m57.3 64l0-.5m-2.5-76l0-1.7m79-14.7l0-1.7m-130 47l0-.3m-16.3-28.5l0-2m136.7 18.6l0-1m-28 14.3l.6-1m64.4 54.5l.6-1.3m14.5-38l.4-1.4m-77.4 28l0-1.3m83.5 12l0-.3m-87.7-75.5l0-1m8.4 13.6l0-1.3m-16.3 26.7l0-1m40.5 25l.4-2m15.4 25l0-1m-9.4-87.6l0-.5m44 11l1-1.5m-123 114l0-2m10.5-73l0-1.6m-25.5 39.3l.5-1.3m-59.5 49l.7-1.4m83-64l.5-1m89.6 7.7l0-2m-83.3 2.7l0-1m-83.5 17l0-.3m16.4-93.5l0-1m35.7 142l.7-1.4m119.3-26l0-1.6m-126.6-41.7l0-.6m121 60.3l0-2m-97.5-41.4l1-1.5m-66-36l0-1m171 2.4l.4-1.5m-67.4-62.5l.6-2m-78.4 99.4l0-1m121.4 57l-.3-2m-73.5-22l0-1.4m-64-81.6l.5-1.4m153.7 22.3l0-1.3m-2.4 45l0-1m-52.5-24l1-2m-89-31.4l0-.3m-17-31.3l.5-1.5m162.6 19.4l0-2m6.3 111l0-1m-43.6-34l.6-1m-55.4-120.3l1-2m115.6 111l0-1m-30 46.4l.4-.5m-43-69.3l.3-2m78.5 37l.5-1.4m-64-29.7l0-2m-120 19.7l0-1.4m117.3-26.5l.4-.6m-142 80l0-.7m90.5-59l1-1.4m-22.5-8.7l0-1m22.4-60.3l0-1m-49 109l0-.5m82.3 5.6l.6-1.4m36.7-83.7l0-1m-86-8.7l0-.5m-49-3l-.3-2m91.6-7l0-2m9 60.4l0-.6m11-79l0-.4m27 52l.3-1.6m-139 27l0-.7m56.4-40.7l.6-2m-6 94l0-1.6m-2-49l0-1.7m-31-10l0-2m86 26.6l.3-1m-120.4 37l0-1.7m202.3-31.4l0-2m-73-62.3l0-1m-115.3 111.4l.6-2m59 5l-.4-2m-29-152l0-.7m114.4 63.5l0-1.5m-111.7 45l.5-2m52.3 38l1-1.4m-19-95.6l0-2m-65.7 49l0 0m19 45l.4-2m156-120.4l0-.4m-109.7 59l.7-1.4m-53 12.3l.3-.7m37.7 62.4l1-1.5m-67 6.4l0-2m25-125l.5-.7m-31 60l1-1.5m79 83.7l.6-1.7m55.6-98.5l.5-1m64.4 27.3l.6-1m-114.6 7l0-.7m36.5 45l0-2m44.5-10.4l0-2m1-32l0-1m-175 55.5l0-1m121-43l0-1.3m18.6 36l0-1m39.7-139.7l0-1m-134 149.7l-.3-.5m23-63.3l.7-2m120 18l0-.6m-50 36.5l0-2m-18-40l0-.3m-85.4 61l0-.6m25-34.4l0-.7m-1-40.3l0-1m134 83.5l.3-.4m-126-8l.4-.4m28.4-93.3l0-.4m-28.6 64.7l0-.3m61.3-13.7l.5-1m86.4-77l0-.5m-87-12l0-.6m-119.7 141.5l0-2m150.3-123l0 0m58.3-30.5l0-1.4m-219 124l0-2m6-38l0-1m102.3-25l0-1.5m-66.5-30.5l.3-1m166 41.6l0-.4m-205.7-52.7l.5-1.5m209.3 56l.3-1m-198-.7l.5-2m197 70.5l.4-1.4m-102-58l.6-1m80-3l0-2m-41 14.3l.3-2m-15.6-42.4l0-1.5m-126.5 34l.3-.5m89 41.4l1-1.4m40.3-51l0-1.7m-60.4 68.5l-.3-1.7m87-78.5l0-1m-34.6 81l.3-.7m-115-110l1-1.6m9.7 96.6l.7-1.3m23 46l.3-.4m120-75.6l0-1m-106.5-13l0-1m129-56l0-2.3" stroke="#46207E" stroke-width="1.7" stroke-linecap="round" fill="none" stroke-opacity="0.8" />
<path d="M813.3 1087.7h0m5-62.4h0m-53-5.5h0m-54.6 130h0m133-18.5h0m-167-29h0m69-34.5h0m83-78h0m-68.7 87.3h0m113.3-7h0m-125.3 15.3h0m60-52h0m-8-2.6h0m-121 5.7h0m17 30h0m93.3 63.4h0m55.6-20h0m54.4-81h0m-139-5.7h0m-60.7 47.4h0m92-64.3h0m92.6 141.6h0m-192.3-162.7h0m-1.5 121.6h0m178-111h0m-190 78.6h0m73-86.6h0m-73 32h0m43 14h0m79-7h0m-71.3-7h0m147 4.7h0m-74.6 35.7h0m-50.4-7.7h0m-71-37h0m140.5 96h0m-95-97.4h0m155-13h0m-25 130h0m-146-7.5h0m.7-131.7h0m30.6 50h0m68.3 16.6h0m46 37h0m-152-77h0m141.3-14.5h0m46.4 116h0m-165-87.6h0m7.4 23h0m-1-65.3h0m1 27h0m22 43.4h0m118 34h0m-58.3 34.4h0m-51.5-73h0m-32 67.3h0m142.5 13.4h0m-61.3-133h0m-120 114h0m183-44h0m8 66.4h0m-37.3-93.5h0m-67-3h0m-13.7 20h0m-85.3-57.6h0m34 73.3h0m158.3 24h0m-162.5-42h0m107.5-54h0m-123.3 79.6h0m35 5.5h0m-14.3 35h0m31-71h0m54 76h0m82.7-6.7h0m-52-129.4h0m-112.3 77.7h0m180 32h0m-179-62h0m173.7 25.5h0m-21 58.4h0m-19.7-38.5h0m-26-47.5h0m-123 101h0m-19.7-113h0m131 116h0m-91-120h0m143.6 13.5h0m-100 5.4h0m-80 97h0m146-156h0m-135 21.6h0m61 126h0m-51-110.6h0m38 47h0m133 5h0m.5 .4h0m-106 55h0m33.3-66h0m-15.3-20h0m-18-47h0m-51 115h0m-16.3-92.7h0m6.7 26h0m-25.7-.6h0m126 53h0m58-98.6h0m-50 18h0m-68 63.4h0m111.5 16h0" stroke="#7C4CB6" stroke-width="2.4" stroke-linecap="round" fill="none" stroke-opacity="0.6"/>
</g></g>
<g clip-path="url(#t01)"><g filter="url(#soft)">
<rect x="902.6" y="983.7" width="226.8" height="168.8" fill="#C05CB8" />
<rect x="902.6" y="983.7" width="226.8" height="168.8" fill="#000" filter="url(#mottle)" opacity="0.2"/>
<rect x="902.6" y="983.7" width="226.8" height="168.8" fill="#000" filter="url(#cells)" opacity="0.25"/>
<path d="M937 987h0m-17.7 7h0m23-3h0m26.6 6h0m14.6 0h0m6.4-4h0m26 3h0m44.3-5.3h0m14 1h0m19 0h0m14 1.6h0m9.7 1.3h0m-212 9h0m10-3h0m16 2h0m9.3 4h0m31-1.7h0m12-3h0m22.3 1.3h0m14.4 0h0m10 1h0m10.6-2.3h0m13.7 5h0m21.6-3h0m34-3h0m-199.5 12.3h0m14.7-1.4h0m9.5 1.5h0m26 2.7h0m7-4.5h0m24 3.3h0m25.7-4.3h0m8 6.7h0m10-4.3h0m11-2.5h0m17.6 6.7h0m9.6-6.3h0m9 .7h0m24 2h0m-199.3 9h0m13.6 3h0m8.4-4.7h0m23 5.5h0m8.6-3h0m14-.5h0m13 4h0m11.4-3.5h0m23.3 1.3h0m11.6 1.4h0m7.6-1.7h0m28.5 0h0m21 2h0m11-.5h0m7 1h0m16.7-2.6h0m-216.7 11.5h0m11-1.5h0m14-2.6h0m12 1.6h0m9 3.6h0m10.6-7h0m14.5 6h0m13-.5h0m10-.6h0m10.4-3h0m13-2h0m8 5.6h0m12.3 0h0m16-2.6h0m10.7 3h0m13-5h0m6.3 2h0m13.7-1h0m-175.6 10h0m10 4h0m11.7-3h0m13-2.3h0m10 2h0m10.6 3.6h0m13.5-1.7h0m8-3h0m22.7 5.4h0m10-1h0m25-5.4h0m12.3 .6h0m11.4 1h0m15 4.6h0m8-2h0m15-2.4h0m-213.6 12h0m8.5 1.6h0m27-2.3h0m9.6 3h0m12-1h0m45.4-3h0m25 0h0m8 4h0m9.4 .3h0m11-7h0m13.3 2.6h0m15.6 4h0m10.4-3.4h0m-182 9h0m11.4-.5h0m24 4h0m9-4.7h0m17.5 2h0m11-2h0m9.6 5h0m23.6-3h0m22 1.5h0m35 2.7h0m22.4-4.3h0m12-2.7h0m-204.4 12h0m12-1.3h0m15-.4h0m14 4h0m4.6 2h0m27-5.6h0m11-.6h0m25 3.4h0m10.7 2.6h0m19-5.6h0m51.3 6h0m-204.4 6.3h0m11.3 2.7h0m14.5-1.7h0m9-2h0m13.7 5h0m7.5-2h0m15-.3h0m19.3-3.4h0m26 4h0m12-2h0m7 2h0m27-5h0m8.5 .3h0m14.7 3h0m8 3.3h0m17.5-.5h0m-203 6.7h0m11-2.4h0m25 .7h0m7 2.3h0m12 0h0m15.4-2.4h0m10.4 3.6h0m11.6-2h0m9-.6h0m11.7-.6h0m9.4 1.6h0m11.5 0h0m14.3-1h0m25-1h0m30.5 0h0m-209.7 11h0m9.5 .5h0m24-2h0m21.5-.6h0m37.6 6.3h0m6.7-4.6h0m17.5 4.7h0m6-1.7h0m16.4-1h0m10-.3h0m44-.6h0m15.7-.4h0m8 0h0m-211 10h0m10-2h0m36 4.5h0m7.7-5h0m13.4 .6h0m9 1.4h0m14.4 2h0m12.3 2.5h0m33-6h0m10.6 4h0m12.7 2h0m10.6-4.4h0m15.7 2h0m5.5 1.3h0m13.3 1h0m-196.5 8.4h0m10.5-4.7h0m9 4h0m25-3.3h0m24 5h0m9.6-4h0m13-2h0m7 5.6h0m27.7-5h0m9-.3h0m19 2.4h0m15-1h0m12.6-1.6h0m10.5 3.5h0m10.7 3h0m-212.5 10h0m14-2h0m18-2.3h0m11 2.6h0m18.5-.5h0m40.4 1h0m17 .4h0m9-6h0m9 6h0m16.5-2h0m8.6 1h0m9 0h0m24.7 0h0m-197.6 5.7h0m9 4h0m10.3 2.3h0m15-4h0m9 2.5h0m12-3h0m12.5 0h0m6.7 2.3h0m15-2h0m10.6 4.4h0m14-4.3h0m12 1h0m8 .7h0m14 2h0m11-2h0m9.3-4.4h0m12 .5h0m15 2h0m9 2.6h0m8.3 .7h0m-197.3 4h0m57 1h0m125.5 0h0" stroke="#6A4AB4" stroke-width="5" stroke-linecap="round" fill="none" stroke-opacity="0.75"/>
<path d="M937.9 986.1h0m-19 8.5h0m65.3 1.7h0m5-3h0m128.6 2h0m-202.6 5.3h0m25.6 6.7h0m79.5-5h0m9 2h0m-61 7h0m56.4 5.7h0m49-5.5h0m-166 11h0m218.4 2h0m-206.3 10h0m73.6 1.5h0m20.6-4.5h0m49 .3h0m11.3 4.6h0m13-6.3h0m-156.4 12h0m21.4-.5h0m13-.6h0m21 5h0m54.3 0h0m63.3 1h0m7.6-2.4h0m16-3.3h0m-214 13.6h0m144.5 2h0m41-1.3h0m-173 7h0m128.4 2h0m-93 10h0m148.6 2.5h0m-206 5h0m28 1h0m64-2.5h0m44.3 4.7h0m35.7-5h0m-108 13.6h0m25.7 .6h0m21.6-2h0m11-1h0m35.7-.7h0m54 1h0m-116 15h0m6.3-5.6h0m18.5 4h0m4.5 0h0m-117 7h0m10.3-2.5h0m93 6h0m-94 9h0m10-4h0m57.4 4.3h0m10.7-3h0m11.6-3h0m62.6 4h0m15.7-1.5h0m-179 15h0m128-7h0m10 6h0m23.5-1.6h0m-153.7 10.4h0m149.6-1h0m-144.6 6.4h0" stroke="#3C1070" stroke-width="2.4" stroke-linecap="round" fill="none" stroke-opacity="0.75"/>
<path transform="translate(902.6,983.7)" d="M26 12 C30 6 44 6 54 10 C62 14 62 26 60 36 C58 42 48 44 38 42 C30 40 24 34 24 26 Z" fill="#F1EEF1" stroke="#E2ACE0" stroke-width="1.2"/>
<ellipse cx="970.6" cy="1014.7" rx="3" ry="3" fill="#F1EEF1"/>
<ellipse cx="995.6" cy="1116.7" rx="3.2" ry="3.2" fill="#F1EEF1"/>
<ellipse cx="1012.6" cy="1098.7" rx="12" ry="24" fill="#DC5A8C" transform="rotate(-35,1012.6,1098.7)" opacity="0.9"/>
</g></g>
<g clip-path="url(#t02)"><g filter="url(#soft)">
<rect x="1129.4" y="983.7" width="227.4" height="168.8" fill="#8A4CB2" />
<ellipse cx="1219.4" cy="1073.7" rx="85" ry="72" fill="#2A1686" opacity="0.7" filter="url(#blur8)"/>
<rect x="1129.4" y="983.7" width="227.4" height="168.8" fill="#000" filter="url(#spk_light)"/>
<rect x="1129.4" y="983.7" width="227.4" height="168.8" fill="#000" filter="url(#spk_dark)"/>
<path d="M1184 1075.5l-.3-.4m30 10.3l2-1.3m55.7-88.5l-2 2m-136 127l1.5 1.7m54-102.5l-.3 2m166 37.3l2-1m-37.7 2l1 1.4m-45.5-55.7l.7 0m-1.6 119.7l-1-.6m-24-20.6l-1.3-1.7m34.5-111l.4-1m19 88.7l1.4-2m-104-91.4l1.4 .7m125.6 73l1.7 1.5m-35 66l2 .5m-3 6.7l-2 1m-70-21l-1-1m12.4 23.5l.7 0m97-140l0 2m-167.3 18l.5-.5m186.5 37l-1 1.6m-75.4-24l0 1m-27 13l-.5-1m-34.6 34.4l0 1.3m52.6 52l-1.3 1m23.3 3l1.7 1.3m37.6 9l1.3-2m-43-136l.5 1.5m42 132l-1.6-.7m11.7-65l-1 0m-42-60l-.3 0m27 60.7l1-2m-124.4-83l-2-1.6m130.3 156l-1.5-1.7m-171-30l2 1.6m70.5-110l-1.6 0m-24.7 103l-.7-.5m131-120l-.4 .5m-57.6-.5l.4-.6m23 48.3l-1-.7m37.7 109l-1.5 .3m-83 3l.7-.7m-45-153.3l-1.7-1m67-6.6l-.4 .5m-90 62.3l1-.4m92-41.5l1 .4m-129 118l-.4-.3m61.4 15.7l0 1m131.4-98l-.3 1m-98 23l0-1m41.3 13.5l0 .7m-19 3.3l-2-.3m88-18.5l-.4 1.5m-114.5 34l1.7-.5m-45.3-69.4l1.6 1m165 35.7l-1 0m-95.6-85l-1.5 1.3m-28.5 93.5l.6 1.6m-89.7 4.4l1 .7m137-93.4l1 .3m-2 67.5l-1.7 .3m13.3-19.3l-2-1.4m8 65.7l1.3-2m-155.4-111l-1.6-1.6m149 152l1.5-1m-97.3-83.4l-2 1.4m79-24l-1.5 1.3m-50-2.6l.6 1.3m.5 46l2 0m-17.5-36.6l1-2m105.4-56.4l1 0m-47 118l1-1.4m-59-84l1 2m110 .7l-1.7-.7m-137 33.5l0 1.3m115-57l-1-1m-84 40l-1 0m116.5 17l1 0m4-44.7l-.6-.4m-116.4 80.7l-.6-.4m124-33l-1.5 0m-147-55l2-.3m66.6 12l1-1.3m61.4 109.4l1 1m-141.4-94.4l.7 0m140 60.6l0 .5m-.4-50l1.6-1.4m-154-7.5l-1.7 1m151.3-4.5l1.7 0m-102.5 24.3l-.3 1" stroke="#F4E2FA" stroke-width="1" stroke-linecap="round" fill="none" stroke-opacity="0.8" />
</g></g>
<g clip-path="url(#t03)"><g filter="url(#soft)">
<rect x="1356.8" y="983.7" width="228.2" height="168.8" fill="#EDEBEE" />
<ellipse cx="1468.8" cy="1045.7" rx="16" ry="9" fill="#D27ECB"/>
<path d="M1463.3 1039h0m9 1.7h0m-8 6h0m-5-6h0m-4 2.3h0m24-2h0m-18-2h0m11 11h0m-13.5 1.5h0" stroke="#4E2496" stroke-width="2.8" stroke-linecap="round" fill="none" stroke-opacity="0.85"/>
<ellipse cx="1487.8" cy="1107.7" rx="44" ry="33" fill="#DA90CE"/>
<path d="M1452.1 1126.6h0m-1-3.7h0m11-28.5h0m14.3 41.7h0m28.5-24.3h0m-20.5 0h0m10.4 27h0m-31.6-52.3h0m36 19h0m15-13h0m-17 14.4h0m-47.6 15h0m15-13.5h0m30 16.5h0m-36.7-22h0m52.4 15.7h0m-24.7-1.6h0m27.4 15.6h0m-22.6-51h0m-35 37h0m48-14.5h0m1.7-15h0m-26.6 10.7h0m-10.5-18.5h0m8.3 50.6h0m-3-26h0m49 6.3h0m-41 27h0m27-5.3h0m-4.3-7.7h0m-16-6.7h0m35 0h0m-36-17.3h0m-9 35.4h0m24.4-10h0m0-46.3h0m-19 16.5h0m-7.4 10.7h0m46.4 1h0m-16.4-11h0m-24.7 27h0m-20-6h0m29-4.3h0m30-6h0m-65 20h0m-3-7.5h0m17 6.3h0m31-19.6h0m-14.3-14h0m-31 14.7h0m64-14.3h0m-49.6-6h0m-21 24.3h0m45-24h0m0 18.7h0m11.5-17h0m-41 41.7h0m40.3-8h0m-30-11.3h0m3 6.4h0m50.7-12.7h0m-44 14h0m3.6-22h0m1 32h0m-14.5 2h0m41-43h0m-14.5 36.3h0m7-32.3h0m-32.7-7h0m48 27h0m-10-7h0m-31 30h0m44.3-13h0m-25 9.5h0m-29-37.6h0m41 23.4h0m-2 2.7h0m-32-39.5h0m32.7 49.7h0m-21-36.4h0m27.4-8.5h0m-57.4 25.6h0m25 12h0m-17.3-17h0m-22.4-8.3h0" stroke="#4E2496" stroke-width="2.8" stroke-linecap="round" fill="none" stroke-opacity="0.85"/>
<ellipse cx="1428.8" cy="1075.7" rx="27" ry="29" fill="#DA90CE"/>
<path d="M1429.1 1101.6h0m-17-47.5h0m16.6 22.5h0m20.7-3h0m-23.3-2h0m-11-9h0m6.5-12h0m5 41.3h0m-5 5.3h0m32-32h0m-42 30h0m6-10.4h0m34-23.5h0m-34 18.4h0m-11-3.6h0m26.3-4.3h0m9 13.6h0m-8.7 8.6h0m-23.7-37h0m7.6 0h0m33 12.4h0m-7 26.3h0m-23.6-34h0m11 17.6h0m21-17.5h0m-7.3 3h0m-12 17.7h0m-28-2h0m33-18.7h0m-30.4 20h0m9-25h0m-1 23h0m12.3-11h0m-19-9.4h0m27 10.5h0m-23.4 24h0m19.6-27h0m23 11h0m-44.3-3.4h0m6 21h0m-7-9.7h0m20-21h0m-1-10h0m-1 25h0m25.3 2.4h0m-19.4-33.3h0m-4 30.4h0m9-14.4h0" stroke="#4E2496" stroke-width="2.8" stroke-linecap="round" fill="none" stroke-opacity="0.85"/>
<defs><path id="lw1" d="M1622.8 968.6l-2.4 15m-281 68l-9 13m12.6 6.5l-12.4-6.5m0 16.5l-7-6m0 0l-3-7.6m21.7 116.7l-4.6 0m-8.5 7.6l8.5-7.4m-6-14l12.4-3m8 7l-8-7m17 21l-7.4-14m-1.6 0l1.6 0m252.3-206l-.6 .4m0 0l-4.6 9.3m0 0l4 3.7m0 0l9.4 3.6m5-1.7l-5 1.7m6-2l-1 .3m-10-20l6.7-3m-6.6 3l-3.3 4.5m2.6 33l5.6-16m-13 16.3l4-19.7m13.5 25l-10-5.7m-282.3 95l.7 4.6m3.6-19.6l1.4 5.4m-5.7 9.7l5.7-9.7m1 20l-3 14m2-16l-5-4m-1.6 24l4.4-4m-.7 71.3l-8-6m10.6-15.3l0 0m0 0l-1.5-1.4m72.4 14.7l-11.4 5.7m224.6-229l0-1m-6.6 4.3l-16-9.5m23 5.4l-17-12.7m-17.5 236l-9 8m-.5-24l-6 2.7m15.5 13.5l-1-11.3m-8 19l-6.7-6m0-15l0 15m0 0l-10 1m32-17.4l12-2m0 0l-2.7-14.4m-13 .7l13-.7m-25 13l0 2m8.3 5l7.5-3.6m-4-15.7l-3.7-1.5m29 29.4l-7.6-10.3m3.4 19.4l-10-3.5m23-4l-8.6-1.6m15-5l-4-5m-19-3.5l19 3.3m-19-3l0 3m-10.7 18l4.5-2m6-19l-1.3-1m21.7-3l-8.6-6m0 0l3.5-11m-15 20.7l11.5-9.5m-33-6.4l0 0m13-12l6 7.4m17.5-.3l-3.7-4m0 0l-14 4.3m-164.4 40.6l2.7-3m163.6-183l-2.6 1m0 0l1 13.3m19.6-6l-3.5 4m0 0l-16 2m-201.6 40.7l8.6 13.3m-8.6-13.3l-12 4.4m20.6 9l-21 1m.3-10l-.7 9.7m0 0l.3 .4m44.4-3l-1.3 4m1.3-4l-10-16m0 0l-21 1m12 20.7l14.6 3m-53.6-5l-3-2.3m3 2.4l13.3-1m-16-1.4l5-9m0 0l7.4-2.3m43.6 22l-16.4 18m15 10l-14-3m-1-7l1 7m55-51l1 2m-8 12.5l-13-11.5m0 0l10-5.6m11 4.4l-1 6.5m-5 14.4l-2-8m7-6.4l5.6 14.4m-140 82.6l-6.6-7.4m6.4 7.4l10.7-3m0 0l-1-13m0 0l-8-4m-10.5 13.3l2.4-.7m6.6 17.3l0-10m14 .5l-3.5-3.5m-15-24l5.6 6m0 0l.5 1.3m134.7 45l-6.6-7.3m6.6 7.5l13 1m-19.6-8.5l16-3.4m3.4 12l1-1.7m-4-10.3l1 1m-23 8l4-6m0 0l1.6 .4m-37-6.7l2.4 3.5m-2.4-3.5l-10 2m11.5 10.6l-10 1.3m-1.7-12l-1 10.7m2.5 1.3l-2.6-1.3m23 4.3l-10-4.3m-20.7 1l7.7-1m-15.7-29l-4.4 10m18.5-6.6l2 3.4m-17.5 9.6l-3-1.6m19-4.7l1.4-3.3m-34-6l13.6 9m-13.7-9l9.3-11.4m8 9l1 1.7m6.5 29.7l-8-13.4m18 2l-2-8.3m13-3.6l-11.7 .3m-37 11.3l7 1.7m-7-1.7l-6.5 14.7m15.3-4.4l-9 8.4m-6.3-4l6.4 4m16.4-1.3l-7.5-7m8-13.7l-9.6 5m-21 14.5l7.3-1.5m.4-117.6l-7 0m-3 1l.4 15m15-2l-11.7 5m-18-17.4l5-4.3m0 0l9.5 3.6m0 15l-12 1.5m-15 0l13 2m-13 16l14-8m0 0l-1-8m-.3-18l-2 .5m4 15.5l-2 2m15 66.7l-2.7 16m0 0l17 0m-1.3-14.6l-3.4-2m-15.7 19.5l3.4-3m-13-11.6l13-6.3m0 0l2.7 2m15 17l-.6-1m3.7-16.3l-5 1.7m79.7-152.4l8.7 .3m-9.6 22.5l-5-5m5-17l-5 17m16 4.4l3-19.3m-16.4 26.6l2.4-6.7m3.4 19l12.6-15m-5-4.6l5 4.5m-93.4 29l-9.4-10m16.6 8l-4-24m0 0l-5.3 3m0 0l-7.3 13m-16 12l10.5-11m2.6 18l3-19m0 0l0 0m-24 2l-1.7 0m0 0l-5.4-6.6m15.6-1l0-.3m0 0l-7-10.6m-8.6 12l.3-9.6m3.6-3.6l4.6 1m6.4 28.6l-8-10m18.6-1l-10-6.6m-10 7.5l0 0m-19.5-3.4l14-3m24-10l-8.3 8.7m8-9l14.6 2m-19.3-6.7l-10.5 3m-21-1.3l13 4m-6.7-19.4l1.3 0m9 15.6l0-12.6m-9-3l9 3m228 150l-7 0m0 0l-6.4 6.6m3.4 9.7l-1-.4m-2.4-9.3l2.4 9.3m-65.5-1l-9-.6m9 .4l8.7-13.7m-21 4l17-9m0 0l4 5m74-5.6l-8-13.7m-10.6 10l11-10m19.7-127.3l-13 10.4m13-10.4l4 9m0 0l-6 4m-9.3 .4l5 1.7m0 0l4-2m-89-78l-5.6 2m97 58.4l0 4.5m14-4.5l6 11m0 0l-4 4.5m-222.7-1l3-8.3m21 1.4l3.7 13m-7 11.3l7-11m-27.7-6.5l0 0m-25-3.6l-.5-15m28 8.6l-28-8.4m28 8.4l.5 2m18 26.6l0-1m21 0l-1.5-7.3m0 0l6-10.3m-22.3-7l12.5-8m0 0l10 9.6m25 5l-8.3 4m6-15.5l-8 0m2 15.3l-9-10m0 14.4l9-4m0 0l3.4 19m-9 5.5l9-5.3m-20.5-23l8.3 8m-8-13.4l7.6-1.3m-2 40.4l5.5-5.4m9.3-5.4l0 0m10.4-11l-.4 5.4m2.6 27l-29-6.6m29 6.5l2.5-1.6m-85.6 6.6l1 .5m0 0l12-2.4m23.6-8l-18.4 12m-5.3-4l5.3 4m63 6l-22.3-5m28 13l-20 4.5m-8-17.7l8 17.7m16-25.6l-1.6 13m-30-12.5l0-2.4m0 2.4l7.6 7.4m36 17.6l-8-4.4m9-22.7l3 1m7.4 28l-7.6-28m10-12.5l0 1m-10 11.4l10-11.3m-30.3-62l-3.3-10.4m12 11l2-15.7m-14 4.7l6.4-10m8 5.3l-1.4-4m22.3 64.3l-11.3-4m17.5-2.3l-13-13.6m-6.5 3l6.3-3m-13 24.3l8.7-8.5m12 14.7l-2 5m2-5l-.7-10.6m-17-18.4l3.7 1.3m-30.5 116.6l-9 13m4 5.5l3.7 2m5.5-2l-5.5 2m-16-9l1.3-.5m.6 14l10.6-6.5m-11-7.5l7 2m5.4 22.4l2-15m15.6-2.3l3.4 9.6m-3.4-9.6l-10 .4m-82.4-79l.7 8.6m15-2l-3-11.3m3 11.5l-14.3 2m0 0l-.7 0m21 2l-6-4m6 4l-12.5 9.7m-14.5 44.4l-1-2m-6.6-9.3l7 9.3m38.7 1l10-9.5m-18 .6l-.3-.6m6.5-10.7l-6.5 10.7m18.5 0l-3-6m7.5 20.6l2.6-11m-7-3.6l7 4m43-163l-8-9.7m23 2l-8.4 9m8.6-9l-2.5-3.7m-20.7 1.7l19-2m-53-9l11-3m-11 3l-2.6-4m13.4 1l0-14m-17 2l2.6 10m0 0l1 1m16 1l-2.6 0m-38.7-12l3.5 2.5m0 0l9.5-4.5m11.3 12l-14.3 2.4m-6-6.5l6 6.5m-6-6.5l-.5-3.4m-60.3 66l6-19m-6-50l5-1.5m43 2.7l9-.5m188 143.6l5.3-.6m-5.3 .6l-9.5 15.3m15-16l4.5 6.5m-1.3 8.6l1.3-8.6m-1.3 8.6l-.3 .7m0 0l-18 0m-11 54l-7-4m18-5.6l-.3-5m-14.3 4.3l-3 6.5m6 19l-16.5-1.5m0 0l7-16.7m0 0l3.3-1m-51 34.7l9-5.5m-.3-14l.7 1m23.3-.5l-12.3 5.5m-11.7-6l10.3-11m7 0l-7 0m-9.6 12l11 5m18 6.4l-18 7m-11.4-5.4l11 6m19-16.3l-.4 8.7m0-8.7l-6-3m-12 5.3l-.4 13.5m51-117.6l0-8.4m0 8.4l13 0m-3-14l3 14m-13 0l-5.3 6m25.4 1l-7-6.7m-17.7 6.7l-.7-1m18.6-5.7l-.4 0m17.5-29.5l6.4 10m-10-8l-9 7m19 1l-2 11m-13.5-6l10.7 6.5m-14.3-12.5l-.3 1m-2-17.6l11.3 9.6m7-12l0 1.4m0 0l-3.3 8.6m16 5.3l-13-14m13 14l-9.6 4.6m-25.7-15.6l6.6 14.7m-5 3l-2.7 3.4m2.5-3.6l5-2m-4 19.7l8-14.7m-1.4 21l1 0m0 0l11-14.3m-26-29l-7 11m5.3-14l-8-8.3m0 0l-.7 0m-7.3 17l11 5.5m13 8l-13-6.6m0-1.4l0 1.4m.5 15.7l-6-7m-19-3l-1 14m9.5-2l3-9m0 0l-.7-.5m6 22l3 0m-3 0l-8.3-12.4m10.7-9.3l-7.7 .4m2-16l-3 1.4m0 0l.3 14m-16.3 14l-3 6.5m3-6.6l4.6-2.6m12.4 14l5.3-3.5m-5.3 3.7l-17-2.4m0 0l-3-2.6m-19-47l3 7.7m0 0l-14 4.3m0 0l-4.3-3m0 0l-1-13m3-2l-3 2m17-7l-1 11m-4.6-15l-8.5 9m-15.4 34l19.3-3.6m0 0l-1.3-12.4m-12.6-.7l8-2.4m-21-11.4l14-5.3m13 32l0 .5m-14.4 14.5l13.3-9m0 0l1-5.5m37-1l-3.7-3m-2.5-14l2.5 14m0 0l-6.6 8.3m-27-114l5.4 11m-5.4-11l-4.6-1.3m-6.7 14l15.7-1m1-.6l-1 .4m-21.4 3l0 13.6m0 0l6 1m0 0l3-.4m12.4-17l-12.3 17m64 49.5l-4.7-17m4.5 17l-24 2m19.5-19l-21 12.5m1.5 6.3l-1.5-3.7m0 0l0-2.6m27.7 5.6l-2-1m-26.5 11.4l1.5 2m-1.5-2l2.3-9.7m-21.5-6l20 2.3m-18 16.4l7.3 1m0 0l10-4m50-17l-5-5m-16 11.6l12.6-11.7m3.6 0l-3.6 0m8.3 83.3l7 1m6-11.7l-6 11.5m0 0l6.5 5.4m10.6-74l8 1m-9-.5l11 20m4.6 1l-4.4-1m-3-36.7l-7 16.3m-10-10.4l1-4m5 15l2.6 0m-5.5 35.4l8 4m0 0l9-3.5m-38 84.6l-5.6-8.4m-10.7 4l1-2m9.7-2l-10 2m22.3-27.7l-8.6 8.3m-17-6.6l1.3-10m-.6-27.6l-2.4 24m0 0l3 3.4m-184-142l-2.5 16.3m4-16l12.5 9m-16.5 7l9 4.7m0 0l7.7-11m-3-22.5l-9.5 13m-8.4-11l.6 8.7m0 0l6 2m17-6l-3 15.3m1 155.6l0 .5m9 4.6l13.6-7m0 0l-10.4-11m-8.3-13l-1-9.7m-11.6 3.3l7.4-5.7m-7.4 5.7l4 13m0 0l5.3 0m2-16.3l-4-2.4m16 14l-10.7-2m11 2l-1.3 8.3m0 0l-1.4 2m0 0l-11.6-6m14.4-14l-12-2m-12 3.4l.3 0m7.4-14l0 8.3m-8 25l-13-1.7m.4-8l-.6 8m13.3 1.7l3 7m0 0l6 6m12.4-13l0-.6m20-39.3l-1 1m49 83l-16.7 2.6m0 0l13-16.4m6 9.7l-4.5-9.6m-1.3 0l1.3 0m-16.7 18l.6-1m20.6 7.7l-2-11m-18.6 3l1.6-.4m35-141.3l-3.3-13.7m20.4 6.4l0-.7m0 0l-15.3-9m-16 22.3l-1-21.4m12 2.4l-12-2.4m-11-.7l9-1m0 0l2 1.7m-13.5-19l16 4m-4.7 13.3l4.5-13.5m3.5-14l-12-3m8.5 17l3-4.6m-41.5 161l0-.7m0 0l12.7 4m-90-55.4l-1 .4m-12 3l12-3m24.6 45.4l-9-3.3m-4-7l4 7m-8.7 15l1-9.5m-5-5l5 5m0 0l8-5.5m134.3-159l0 0m0 0l3.6 13.6m-3.6-13.7l18 0m-14.4 13.7l15-6.5m-.7-7l.7 7m-31.3 2l12.7-9m-16-5l15.5 3.5m-25.4-18.7l-5.3-3m6 17.5l-4.7 4m-14.4-6.5l1-9m12-6l-12 6m-11 1l8.5 7.6m-8.4-7.7l5.6-8.4m5.3 7.7l-5.3-7.7m-27.4-.3l.7 .4m7.6 16.5l1-6.5m1-.4l-1 .4m-18.7-5.7l6 14m11.7-2l-2.5 2m-5-18.3l8.7 10m-3.7 8l-9 .5m16 19.3l-8.3-5m-56 13l-2 2m-7-21l-5.7-1m-2.3 13l2.3-13m2-17l-9 11.4m7 5.6l-7-5.6m.7 29.6l-4.4-11.5m-11 15.7l1 3m8-19.3l2 .6m-10 18.7l0 0m33-9l-1 4m0 0l-17.6-2m4-11.3l-8.4-.4m20.3 29.7l1.5-16m-29.4 7.6l-2.5-2.6m-12 6.7l12-7m-13-16l-1.6 .7m1.5-1l12.4 13.6m6-21.7l3 5.4m5.5-17.5l-1 0m-10-17l-5.7-5.5m5.5 5.3l1.3-.3m0 0l10.4-6m-17 1l-.3-1m6 16.7l-.4-10.4m.4 10.4l9.6 7m10-11.4l-18.7-6.3m18.5-3l-8-3m-30-6.6l12.6 7m240.4 164l10-1.4m5-9l-4.6-3m5 4.6l-1 1.4m-4.3 6l3 7.5m-19.3 9.3l-2.4-7m2.4 7l11.3 4.6m8-14l-8 14m1.3 2.4l-1-2m-17.7 5l6-10m12 5l-.6-.4m-70.6 24l2-3.7m0 0l12-5m-30.7-96l8 2.4m11-18l-3 16m10.5 4l-8-1m0 0l-2.7-3m-30.3 14l8.7 11.5m4.6-20.5l2.5 14m0 0l-7 6.5m99-80l-4.6-2m-14.3 14l8.5-9.4m17 91l-2-8m2 8l18.7-1m-21-7l7.7-6.5m0 0l7 4m0 0l7 9m0 0l-.7 .7m-26.5-8l5.7 1m-1 18.7l3-11m10 11.5l-12.4 1m12.4-1l9-12m-14-25l.5 11m-57 2.5l-2.3 11m0 0l8.5 10m-8.5-10l-12 3.4m26 46.6l-10-14.3m6.5-12l-2.3 2m-145.6-157.3l-1 7.7m0 0l17 6m-35.4-.4l17.5-4m-17.5 4l-1 0m19.6 170l5-3m2.3-12.5l-2.4 12.7m7 16l1-11m15.3-.3l-2.6-5m-13 5.4l-7.7-5m58.6 15l12.7-.3m-7.3-22l6.4 10m0 0l1 12m5.4 7.3l-1-4.4m0 0l11.4-11.3m1.3-4.4l-1 1m1-1l0-12.5m0 0l-15.3 3m14.3 10.6l-1.5-.5m16-2l4 13m-19-7l.5-3.5m-23-13.3l8.7 2.6m-9-2.6l0 3m6 10l16 0m-13.6-153l4.4 12m5-14.3l5 6.7m-10.6 9l.6-1.4m-12-17.4l7.6 5.3m10-3.6l-.4 1.4m9.4 25l7-15m-1-2.6l-10.4-.7m10.3 .7l1-4.5m18 22l-7-10m16.7-3l-5.4-10.5m-1.3 0l1.3 0m-3.5 28l-1-4.6m-17.5-14.6l11 5m4-19l5.7 5m-6.5-12l1.4-3m14.4-2l-2.3 14m-98.4 144l14 13m-14-13l13-5m4.6 0l-2.3 17.3m2.3-17l-4.6-.4m2.3 17.4l-1.5 .5m19.4-26l-15.6 8.3m6-25l-18.6 12m28 5l4.3-13m-2.5-2l2.5 2m-32.3 8l8 13m-5 24l6-6.3m-86-13.5l-6-3.7m-2.4 11l-2-6m-13.6 8l3.7-6.3m10-2l-10 2m159-156.6l4-11.6m15.6 10l-5-10.3m0 0l-10.4 .3m-6-9.4l6 9.4m-6-9.4l12-9.7m-59 5.7l11-7m-19.5 2.4l.4 .7m26 7.3l-7-10m-10.4 8.4l-.3-2m-17 11.7l8.7-15.4m-6-4.5l5.6 4m-102.4 19.7l-10 5m4-20.7l-12.6 10.3m8.5 10.6l-8.5-10.6m21 24.3l-13-1.6m0 0l-.3-9.3m-13-30l3 16.5m0 0l2.3 0m4 26.7l0-.3m-18.6-6l5-9.5m0 0l2.6 1.4m9.5 20.3l1.4-6m4-4l-4 4m4-13l-15-1.3m-3-9l.5 7.6m290.4 147.3l8-4.7m-8 4.7l-4.3 8m0 0l0 0m4-23l8.4 10.3m-21.3-7.7l13 12.4m-14.7 1l10.6 7m2.5 12.5l.5-6.5m-21 1.5l18-7.4m-102.7-2.3l-9-19.7m9 19.7l-2 5.3m-23-26l10.4-2m6-23l-2.7 16m-3.3 7l3.3-7m34.6-19l-10-7.7m2 15l-1.7 0m0 0l-11.5-11.3m5-3.4l-5 3.4m23.4 3.6l-2 .4m-8-19.6l-2 12m-8.7-13l2 13m11.3 26.6l-2.7-11.7m2.7 11.7l-23.7 10m0 0l-3.5 0m-2-10l24.7-11.6m-15.3-10.7l4-.7m83.4-75l-6-10.5m8.3-10.4l-8 10.4m-44-.5l2 .7m-2 13.3l10.3 0m-8.4-13.3l8.4 13.3m2 .7l-2-.7m5 102l-22.7-.4m2.5-6.6l-3.4 5.6m1 1l-1-1m23.5 16.7l-18-6m-4.6-9.7l4.6 9.6m-6-10.6l.5 0m-33.3 4.5l20.4 6.5m12.3-11l-12.3 11m27 36l-2.4-11m-11.6 12.4l-.6-9m0 0l12-3.6m8-9l-3 1.4m-5 7.6l5-7.6m-111-143l-8 5m-3.7-17.3l-3 13m-6.4 141.3l3-1.3m15.3 13.6l1-8m-16.4-5.6l16.3 5.5m2.3-2l-2.3 2m2.3-2l.4-17m-70.7 .7l0 0m-8.5-19.5l-4 13.4m9 18l0-6m3.3-5.7l-3 5.7m-17.5-22l-1.6 12m10-2l-10 2m-16-6.5l15.3 7.7m0 0l.7-1m-3.7 12l0-4m0 4l8 10m0 0l3.6-13.6m-8.7-5l8.7 5m-27-1l15.5 .5m-14 17l14-13m8 11l-.3-1m-5-21l0 2.6m189-155.6l1.7-13m-8.4 15.6l-7.4-15m0 0l12-3m0 0l4 2.5m9.6 19.6l-11.3-6.7m13.7-15.3l-12 2.4m10.5 18.5l4-15.6m-5 16.7l.4 5.4m-2.4 2.3l2.4-2.3m-21.6-6l3-3.5m-7.4-15l0 0m33.5 55.4l5.5-4m-6.3-10.6l6.3 11m-6.3-11l3.5-11m46.4-9.5l-14.3-5m2-9.5l-2 .6m-10-4.3l10 4.3m-57.7 169.5l.5 4m0 0l-5.4 8.4m-4-18.5l-7 12m7.3 7l3.7-.5m12.6-22.4l-7.7 10m-10.7-9.6l1.7 3.5m-16.5 9.6l10 2.6m1.6 13.6l5.3-7m-112-154.5l-8 8m16.7 .4l-9.6 15m-7.3-15l-1 10m0 0l8.3 5m-.3-33.7l1.4 10.3m13 7l-4.5 1.4m-27.4-14.5l10.5 14.3m-19.4 11l18.4-.7m11 18l.5-7m28-7.3l-9.5-8.5m0 0l-7.5 12.6m9 2.4l-9-2.4m25.6-4l-8.7 0m-4 17l-4-10.6m-2-17.5l.6 2.5m-18.5 16l11-3.4m-5 105.5l2.7-6.4m.5 15l15-10.3m-15.5-4.7l15 3.7m-31.5 4l14-1.3m1.6 15.3l1.4-6.7m-.6-15l0 0m18 8l-2.6-3.3m2-9l-2.3 8m147-122.5l-12.5-6.5m12.4 6.5l-9.7 11m-2.7-17.5l-9 17m11.7 .4l-6.5 3.5m0 0l-5.3-4m23.6 5.3l-12-5m0 14.5l-6.3-11m-7.7-3.3l2.4-.3m31.7-20.5l-6.5-8m1.7-7.4l-1.6 3m0 4.5l0-4.5m-9.4-2l1.6 8.5m-1.6-8.7l-7.6-7m-2.7 3.5l1.3-2.7m-1.3 2.7l-1 17m2.3-19.7l1.4-1m-3.5 20.6l4 3.6m16.4-10.3l-7.7 2m8-6.5l-9.6-2m-5.3-11l-2.3 3.6m-23 9l20.3-5.3m-16.6-10.3l18 7.6m-12 20l10-.4m4 4.6l-.4-1"/></defs>
<use href="#lw1" fill="none" stroke="#DE90D0" stroke-width="3.2" stroke-linecap="round"/>
<use href="#lw1" fill="none" stroke="#5A2AA0" stroke-width="2.6" stroke-linecap="round" stroke-dasharray="0.5 8 0.3 11" stroke-opacity="0.85"/>
<path d="M1525.4 1107.7 1520.5 1117.3 1512.9 1125.4 1502.3 1132.4 1487.8 1134.3 1476.3 1127.3 1461.5 1126.2 1456.6 1116.8 1453.4 1107.7 1460.9 1099.8 1466.9 1093 1473.9 1084.1 1487.8 1084.9 1502.3 1083 1514.4 1088.9 1519.1 1098.6Z" fill="#EDEBEE" stroke="#DC8CD0" stroke-width="2.8" stroke-linejoin="round"/>
<path d="M1525.4 1107.7 1520.5 1117.3 1512.9 1125.4 1502.3 1132.4 1487.8 1134.3 1476.3 1127.3 1461.5 1126.2 1456.6 1116.8 1453.4 1107.7 1460.9 1099.8 1466.9 1093 1473.9 1084.1 1487.8 1084.9 1502.3 1083 1514.4 1088.9 1519.1 1098.6Z" fill="none" stroke="#5A2AA0" stroke-width="2.8" stroke-linecap="round" stroke-dasharray="0.5 8 0.3 11" stroke-opacity="0.85"/>
<path d="M1448 1075.7 1446.5 1083.8 1442.2 1090.5 1436.6 1096.4 1428.8 1099.1 1422 1093.9 1415.9 1090 1412 1083.4 1412.2 1075.7 1413.1 1068.5 1416.7 1062.4 1421.2 1055.3 1428.8 1056.8 1436.2 1056.1 1443.8 1059.2 1445.7 1068Z" fill="#EDEBEE" stroke="#DC8CD0" stroke-width="2.8" stroke-linejoin="round"/>
<path d="M1448 1075.7 1446.5 1083.8 1442.2 1090.5 1436.6 1096.4 1428.8 1099.1 1422 1093.9 1415.9 1090 1412 1083.4 1412.2 1075.7 1413.1 1068.5 1416.7 1062.4 1421.2 1055.3 1428.8 1056.8 1436.2 1056.1 1443.8 1059.2 1445.7 1068Z" fill="none" stroke="#5A2AA0" stroke-width="2.8" stroke-linecap="round" stroke-dasharray="0.5 8 0.3 11" stroke-opacity="0.85"/>
<path d="M1399 1023.7 1394.1 1031.4 1390.8 1038.4 1384.9 1041.8 1378.8 1043.3 1372.2 1043.2 1365.3 1040.2 1361.7 1032.3 1362.4 1023.7 1364.4 1016.4 1367.7 1010.2 1372.3 1004.6 1378.8 1001.7 1384.7 1006.4 1390 1010 1395.9 1015Z" fill="#EDEBEE" stroke="#DC8CD0" stroke-width="2.8" stroke-linejoin="round"/>
<path d="M1399 1023.7 1394.1 1031.4 1390.8 1038.4 1384.9 1041.8 1378.8 1043.3 1372.2 1043.2 1365.3 1040.2 1361.7 1032.3 1362.4 1023.7 1364.4 1016.4 1367.7 1010.2 1372.3 1004.6 1378.8 1001.7 1384.7 1006.4 1390 1010 1395.9 1015Z" fill="none" stroke="#5A2AA0" stroke-width="2.8" stroke-linecap="round" stroke-dasharray="0.5 8 0.3 11" stroke-opacity="0.85"/>
<path d="M1574.6 1111.7 1572.9 1116.3 1572.4 1122.3 1566.5 1123 1561.8 1126.4 1557.2 1122.9 1551.1 1122.4 1549.2 1116.9 1548.6 1111.7 1550.1 1106.8 1551.2 1101.1 1556.6 1099.3 1561.8 1097.7 1566.8 1099.6 1570.7 1102.8 1573.9 1106.7Z" fill="#EDEBEE" stroke="#DC8CD0" stroke-width="2.8" stroke-linejoin="round"/>
<path d="M1574.6 1111.7 1572.9 1116.3 1572.4 1122.3 1566.5 1123 1561.8 1126.4 1557.2 1122.9 1551.1 1122.4 1549.2 1116.9 1548.6 1111.7 1550.1 1106.8 1551.2 1101.1 1556.6 1099.3 1561.8 1097.7 1566.8 1099.6 1570.7 1102.8 1573.9 1106.7Z" fill="none" stroke="#5A2AA0" stroke-width="2.8" stroke-linecap="round" stroke-dasharray="0.5 8 0.3 11" stroke-opacity="0.85"/>
<path d="M1488.3 1005.7 1489.3 1010.5 1485.4 1014.8 1479.1 1017.4 1471.8 1016.9 1465.3 1016.1 1457.7 1015.1 1455.6 1010.2 1453.7 1005.7 1457.4 1001.7 1458.3 996.7 1465.1 994.9 1471.8 994.8 1478.5 994.9 1483.3 998 1487.5 1001.4Z" fill="#EDEBEE" stroke="#DC8CD0" stroke-width="2.8" stroke-linejoin="round"/>
<path d="M1488.3 1005.7 1489.3 1010.5 1485.4 1014.8 1479.1 1017.4 1471.8 1016.9 1465.3 1016.1 1457.7 1015.1 1455.6 1010.2 1453.7 1005.7 1457.4 1001.7 1458.3 996.7 1465.1 994.9 1471.8 994.8 1478.5 994.9 1483.3 998 1487.5 1001.4Z" fill="none" stroke="#5A2AA0" stroke-width="2.8" stroke-linecap="round" stroke-dasharray="0.5 8 0.3 11" stroke-opacity="0.85"/>
<path d="M1430.1 1013.7 1429.3 1018.1 1426.1 1021.7 1421.6 1023.6 1416.8 1026.6 1411.5 1024.7 1407.4 1021.8 1403.6 1018.4 1404.5 1013.7 1404.8 1009.4 1407.4 1005.7 1411.5 1002.8 1416.8 1000.7 1422 1002.9 1426.3 1005.6 1429.9 1009.1Z" fill="#EDEBEE" stroke="#DC8CD0" stroke-width="2.8" stroke-linejoin="round"/>
<path d="M1430.1 1013.7 1429.3 1018.1 1426.1 1021.7 1421.6 1023.6 1416.8 1026.6 1411.5 1024.7 1407.4 1021.8 1403.6 1018.4 1404.5 1013.7 1404.8 1009.4 1407.4 1005.7 1411.5 1002.8 1416.8 1000.7 1422 1002.9 1426.3 1005.6 1429.9 1009.1Z" fill="none" stroke="#5A2AA0" stroke-width="2.8" stroke-linecap="round" stroke-dasharray="0.5 8 0.3 11" stroke-opacity="0.85"/>
<path d="M1546.6 1023.7 1543.9 1029.4 1542 1035.4 1536.9 1037.7 1531.8 1037.4 1527.1 1036.6 1523.3 1033.5 1519.4 1029.6 1519.1 1023.7 1518.8 1017.6 1521.4 1011.8 1526.6 1009.3 1531.8 1006.9 1536.8 1009.9 1540.7 1013.5 1545.7 1017.1Z" fill="#EDEBEE" stroke="#DC8CD0" stroke-width="2.8" stroke-linejoin="round"/>
<path d="M1546.6 1023.7 1543.9 1029.4 1542 1035.4 1536.9 1037.7 1531.8 1037.4 1527.1 1036.6 1523.3 1033.5 1519.4 1029.6 1519.1 1023.7 1518.8 1017.6 1521.4 1011.8 1526.6 1009.3 1531.8 1006.9 1536.8 1009.9 1540.7 1013.5 1545.7 1017.1Z" fill="none" stroke="#5A2AA0" stroke-width="2.8" stroke-linecap="round" stroke-dasharray="0.5 8 0.3 11" stroke-opacity="0.85"/>
<ellipse cx="1487.8" cy="1107.7" rx="36" ry="26" fill="#EDEBEE" stroke="#C86EC4" stroke-width="11" transform="rotate(0,1487.8,1107.7)"/>
<ellipse cx="1487.8" cy="1107.7" rx="36" ry="26" fill="none" stroke="#4E2496" stroke-width="3" stroke-dasharray="2 3.5" transform="rotate(0,1487.8,1107.7)"/>
<ellipse cx="1428.8" cy="1075.7" rx="20" ry="23" fill="#EDEBEE" stroke="#C86EC4" stroke-width="8" transform="rotate(10,1428.8,1075.7)"/>
<ellipse cx="1428.8" cy="1075.7" rx="20" ry="23" fill="none" stroke="#4E2496" stroke-width="3" stroke-dasharray="2 3.5" transform="rotate(10,1428.8,1075.7)"/>
</g></g>
<g clip-path="url(#t04)"><g filter="url(#soft)">
<rect x="1585" y="983.7" width="227" height="168.8" fill="#C458B0" />
<rect x="1585" y="983.7" width="227" height="168.8" fill="#000" filter="url(#mottle)" opacity="0.35"/>
<rect x="1585" y="983.7" width="227" height="168.8" fill="#000" filter="url(#knuc)"/>
<path d="M1726.2 1108.4h0m38.7 33.5h0m-12.4-3.4h0m-160-76h0m206 30.4h0m-10-89.3h0m-97 22h0m17 55h0m-119.5-59.7h0m60 116.6h0m109.3-126h0m7-3.7h0m-40.4-2h0m-138.5 124.3h0m46.7-109.5h0m174 109.6h0m-156 15h0m56-47.4h0m-75 44h0m109.3 4h0m45.7-111.3h0m-120-22h0m-48.3-17h0m35 90h0m-67 12.3h0m75-61.4h0m108.4 28.5h0m-113 0h0m87.4-70.7h0m61-5.7h0m-51 137h0m-164.5-9.4h0m78.3-35h0m-80.4-88.6h0m38.7 151.5h0m3.5-33h0m165 31h0m-131.7-98h0m40.6 70h0m-94-4.5h0m155.3 18.6h0m-171 14.4h0m12-101h0m117 96.3h0m-61 1h0m46.3-102h0m-51.4-22.5h0m-53.7-5h0m137.5 141.7h0m-119-158h0m186 80.7h0m-131-49.4h0m42.5 98h0m-31-67.3h0m-90 82.5h0m-5-70.5h0m181-60.5h0m-24 136.6h0m-23-27h0m-117.6-59h0m9.6 68.5h0m32.7-65.3h0m158.5 66.6h0m-5-66.5h0m-110 46h0m-2-73h0m-17-24.3h0m-6 140.5h0m131-60.3h0m-103.5-48h0m-92-11h0m155.7 99h0m-94.7-13.5h0m93-15h0m-25 10.6h0m-67.5-9h0m-18.6-36.7h0m110 34h0m-107 42.7h0m80-61h0m-143.6-5.5h0m54 21h0m47.6 24h0m41.5-3h0m-67.4-26h0m87.7 31h0m-87 2.4h0m116.7-26h0m24 45h0m-103-71.3h0m-79.3 51h0m173.5-59.7h0m-55.3 40.4h0m8.7-91.3h0m11.3 68h0m-26-26.5h0m-9.3 59h0m3-9h0m-137-93.5h0m93 81.7h0m-50 6h0m92.6-107.4h0m-36 30.7h0m-93.7-15.4h0m59 8h0m-27.7-24.4h0m61 57.5h0m33 35h0m-84 52.3h0m-53.4-83h0m62.6 .7h0m-37 70.3h0m58.4-132.7h0m54 10h0m-15.4 40.6h0m8 103h0m53.5-89.7h0m-1.3 37h0m-100-83h0m51 70h0m81.5 67.6h0m-78.5-103h0m64-58.3h0m-176.6 94h0m114-70.7h0m3.3 125h0m-57-76.5h0m-33.7-23.4h0m168 14.7h0m-2.6 89h0m-82-109h0m86.4 39.5h0m-127-29.6h0m128 29h0m-157.3-2.6h0m-37 24h0m72.4-54.7h0m76 89h0m-173-49h0m59 67h0m114-115h0m-115.6-15h0m162.3 23h0m-85.7 30.3h0m8.3 21.5h0m22-81h0m4 30.5h0m-51 6h0m-53.3 32h0m37.7-28h0m63 38.3h0m-159.3-56.4h0m94.3 111h0m97.3-62h0m-196.5 38.7h0m93-34h0m63 9.7h0m-51 46.6h0m-21.6-86.7h0m105-32.6h0m-125 105.6h0m-52 1h0m141.6-67h0m-92 58h0m140.6-106.6h0m-97.3 68h0m4.4-36.6h0m-77.5 42.5h0m148-86.3h0m-130.7 125.3h0m126.3-26h0m-172.4 10h0m214.5 46h0m-62.4-158.5h0m31.7 28.4h0m-44 122h0m15-136h0m-94.7 130.5h0m-32-51h0m59.3-75h0m47-20h0m-116 56h0m-8-53.5h0m113.3 114h0m68.3-101h0m-100.6 30h0m38 29h0m76-19h0m-198.6 53.7h0m21.5-11h0m80 46.6h0m11-48.3h0m-66-11.6h0m-2 33h0m59.3-102.7h0m-63.6 39.6h0m113-32h0m-5 79.4h0m-141.5 2h0m1.3-90.5h0m113 19h0m64 40.3h0m-125 53h0m-66-12h0m5.6-96h0m202 88.5h0m-164-94h0m169 91.3h0m-34.5-87.6h0m-44 36h0m-87.7-3.7h0m85 2.6h0m-51-35.4h0m100 85.3h0m-6-36h0m10.7 14h0m-58.3 9.5h0m33-29.6h0m-144.5-60.5h0m23.7 1h0m154.6 73.7h0m-29-80h0m-65.3 148h0m33.6-76.7h0m-34.6-55h0m-70 10h0m49.5 38h0m114-39h0m-141 21h0m-21 1.4h0m16.6 32.5h0m-45.7 74h0m76 2h0m71.5-44h0m-48.6 45.3h0m-79.6-46h0m39 1h0m98.6-85.5h0m-119-23h0m7 9h0m38 149h0m-8-110h0m23-5h0m59.7 72.6h0m-128-79.7h0m114.4 117h0m-6-85.3h0m74.3-71h0m-206 129h0m79-122.3h0" stroke="#3E1C86" stroke-width="2.6" stroke-linecap="round" fill="none" stroke-opacity="0.8"/>
<circle cx="1770" cy="998.7" r="10" fill="#5A2A9A" fill-opacity="0.35" stroke="#F6E8F6" stroke-width="1.3"/>
<path d="M1770.4 995.7h0m7.6 3h0m-13-2h0m-1.4 2h0m4.4 .6h0m-6 0h0m16.4 1.4h0m-8.7-.6h0m-2 1h0" stroke="#3A1880" stroke-width="2.8" stroke-linecap="round" fill="none" stroke-opacity="0.8"/>
<circle cx="1740" cy="1028.7" r="10" fill="#5A2A9A" fill-opacity="0.35" stroke="#F6E8F6" stroke-width="1.3"/>
<path d="M1736.2 1027.7h0m10.3-4.5h0m-14 1.7h0m14 0h0m-8 5.3h0m-4.5-6h0m3.5-3.5h0m1 4.3h0m6.5 5h0m3 2h0m-3-2h0m-6 5h0m5.6-2.3h0m-9 2h0" stroke="#3A1880" stroke-width="2.8" stroke-linecap="round" fill="none" stroke-opacity="0.8"/>
<circle cx="1735" cy="1123.7" r="11" fill="#5A2A9A" fill-opacity="0.35" stroke="#F6E8F6" stroke-width="1.3"/>
<path d="M1732.4 1115.6h0m-2.6 12h0m11-2.6h0m-14-4.4h0m10.7-3h0m-4 3h0m3.4 10.3h0m-1-14.4h0m3.7 6h0m-13-3h0m17.5 3.3h0m-10.5-.4h0m3.5-7.4h0m5 7h0" stroke="#3A1880" stroke-width="2.8" stroke-linecap="round" fill="none" stroke-opacity="0.8"/>
<circle cx="1775" cy="1133.7" r="8" fill="#5A2A9A" fill-opacity="0.35" stroke="#F6E8F6" stroke-width="1.3"/>
<path d="M1774.7 1139.8h0m-1.4-10.7h0m-2 0h0m4.7 2.3h0m3-2h0m-6.4 .3h0m8 6h0m-7-7.7h0m6.7 5.5h0" stroke="#3A1880" stroke-width="2.8" stroke-linecap="round" fill="none" stroke-opacity="0.8"/>
<path d="M1611.1 1101.7l-1 3m153-68l1 6m-39.4 73l1.5 1.4m-27-36l3.7 1.7m-46-92l3 2.4m31 105l4.7 5m71.7 30.4l.6 5.3m-63-24.5l3.4 3.4m28.5-47l2 1.5m-131.7-30l2 5.3m137-12l-1.3 3m1-42l0 5.4m52.4 127l1 6m-50.5-50l4 2m33.6-63l-2 4m-110-41l2 2m56.6 141l-1.7 4.7m-58-132l1 5m72 38.7l-1 3m-90-22l1.6 6.5m-31 54l0 3m-22.5-15.4l-1 6.3m144.7-29l3 3.7m35-21.6l4 3m10.4-20l2.6 0m-91 66.3l2.6 1m5 3.6l1 5.6m-116.6-32l-1 6.6m56 52l1.5 6.7m-20-30l-.7 4m-29-83.3l2.4 1m7.3 66.7l5.6 1m125.4 29l-.6 5.6m40.6 16.6l2 6.6m-182.4-141l3 .5m57.5 54l1 6m-65-13.6l1.6 3.5m4.6 27.5l4 4m81 55.6l-1 2m57.5-40.5l2 1.5m-62.5-63l0 6.5m-22.5-16l3 5m86 42.3l3 2m9.4-10l4 0m-137.3 23.4l3.3 .5" stroke="#F6E6F4" stroke-width="2.2" stroke-linecap="round" fill="none" stroke-opacity="0.9" />
</g></g>
<g clip-path="url(#t10)"><g filter="url(#soft)">
<rect x="675.5" y="1165.5" width="227.1" height="168.8" fill="#D05CAF" />
<rect x="675.5" y="1165.5" width="227.1" height="168.8" fill="#000" filter="url(#mottle)" opacity="0.2"/>
<path d="M775.3 1261.7l6-3.4m9 10l1-7m27 41l.3-5.7m-123.7 7l2.3-2.6m199 30.4l5-6m-191-156l2-3m6.7 43.3l-.4-6.7m55 108l4-7m10.3-24.4l2.4-4.6m108.4 61l7-5m-159-125l1-3.5m99.5 32.4l5-3.6m41 79.6l0-4.7m-13.6-60l5.5-2.7m-195 30l4-3.4m-2.7-46.4l8-4m3-11l0-3.3m152.4-7l3.7-5.6m-140 100.3l.7-8m-17.6-46l1-5m192 72l3-10m-177.5-61.7l6.7-4.7m-29 105.3l1-5m152-107l1-3.7m-156.5 48.4l1.6-7.7m60-16.4l6-3m43 73.3l.5-4m75-4l1-4.6m-39.7 28l1.6-10.3m31-50l1.4-3.4m-193 66.6l1.6-8.4m47-17l3.3-4.4m-20-13l0-4.7m85.4 27l3-4.4m80-105l0-5m-107.6-18.6l1-6m26.4 20l3.5-9.7m88.3 96l5.3-5.4m-193-97l-1-10.3m128 166l-.4-8.3m-51-30l3.3-10.4m-98-22.4l7.6-7m142.6 33.4l8-6.6m-95.7 3l8.4-5.5m7.5 22.6l6.3-4.3m41.7-63.6l4.6-6.4m-130.5 49l9-4.5m140-37.6l5.4-5.3m-68 83l0-9m-94.5-33.3l2.3-4m147.5-11.6l6.4-8m-105-74l2.5-8m-17 33l7-4.5m50 128l2.3-8m-60.6-70.5l8-6.5m149.3-2.4l3-4.5m-174.3 24l8-5.7m126 81.6l1-4m-60-109l1-6m37.7 44.5l3-9.3m79.3-.7l0-3m-27.4-65.3l5.3-5.4m-130.6 131.3l0-4m31-126l4-3m-75.4 8l4-5m105 108.3l8.3-6.6m7-71.7l2.3-4m-155.6 49.7l3-3m55.5-17.4l5-5m73.4 76l3.5-8.6m60.7-106.4l7.6-4.4m-183.3 68l6.4-8m49 26l8-5m123-13.5l3.3-3.5m-55 65l6-6.7m-123.4 19.5l9.7-5m67-11l3-9.7m71-66.5l0-6.5m-70 75.5l1.5-3m56.3-116l3.4-2.7m-109.6 125.7l.4-4m37.6-6.4l7-5m92.3-35.7l3-1.7m-167 11l2-8.7m91 6l6-4.5m-81.5-19l8-5.7m-30.6 84l6.4-3.4m77.7-105l4-6m2-24.7l6.4-3m-51.6 135l4-6m62-118.5l3.6-5.3m58 150.7l1.5-6.6m-193.3-76.3l8-6m75-13l1-7.7m100-26.7l2.5-2m-169 19.5l3.7-4m34.5 72.6l.4-9m-53.5-11.6l1-4.5m91-7l2-6m-2-40l1.5-8m21 69l6.3-5m43-44.4l7-6.5m5.3 22.3l3-10m-158.7 121.3l3.5-2m2.6-43l1-4m132.5-48l3-2.7m-99 48l0-4.5m62 41.3l3.3-2m-44-21l4.3-7.4m-74-110.7l0-3.3m81 78.3l2.5-3.4m-89-47.6l9-6.4m164-10l0-10.4m-106.6 121.5l2-6.4m10-52l2-2.5m41 74.4l.7-6.6m8-68.6l.6-4.3m-56-61l8-5m38 147.4l4-5m-30.3-55.5l8.5-4m-85 74l6.6-6.5m119-79.6l8.3-5.3m-34 66l5-4.4m2.7-112.3l2-6.4m-165 54.4l5-6m46 104.5l3.6-4.3m93.6-58.6l3.3-5m72.4 18l6.3-6.6m-10.4-97.7l5.5-7m-167 69.7l0-4.6m26-44l2-10m35.3 76l6.7-3.5m96.3 25l3-2.4m-91.7 27l-.4-10.7m-99.6-40l1-6.7m99-65l5.7-3m-23 95l2-5m27 .7l2.3-8.5m-83-86.4l.7-3.3m-34 131.4l4-9.4m127.6-112l9.5-4.5m-159.5 149.7l3-6m200-104.3l5.6-9m-64 44.6l8.6-4.3m-33.4-55l4-5m-94-6.4l2.3-3.4m52 108l2.4-4.6m28-37.3l5.3-4.7m90 94l3.3-3.4m-205.5-6l6-5m50-99.5l5.3-5.5m48.6 65.3l3.3-3m-84 62.6l9-5m-53-149.6l1.7-6m131 11.4l2-3m-125.3 101.7l4.5-6.7m62.4-27l1-6m84 65.7l0-4m12.7-32.7l3.5-3m-91.5-58.4l4.7-3.7m48.6 129l2.3-7m18.6-5.6l2.5-5.4m-148.7-3l0-4m104.3-62l3.7-4m45.4-63l1.4-8m-161.3 45.6l6-6m41-20l3.3-8.3m15 2.5l5-5.4m120 143l5.6-3m-30-102.7l2-6" stroke="#F2B2E2" stroke-width="0.9" stroke-linecap="round" fill="none" stroke-opacity="0.8" />
<path d="M886.7 1316.2l.4-1m-128.5-87.6l.4-1m-39 34.4l1-1m143.5 1l.5-1.5m9.7-45.4l0-1.3m-76.3 49l1-1m57.7-83l1-1.4m-163.3 4.5l1.3-1.6m-1 94l.7-2m126.5-63l.6-1.7m-29 88l0-1m100-14.4l1-1m-56.5 7l1-1m22.4-6l1.3-1m.5 38l1-1m-70.5-29l.7-.7m-24.4-93l1.4-1.5m-11 5l.4-1m-19 134.7l0-1m-40-53l.4-.4m-12.6-30.4l1-1.7m-6.4-57l0-1m44.7 102l.4-.4m-12-71.6l.7-1.7m28 46l.7-1m-12.3 57.3l.7-.6m64 12l.4-.4m-112.6-1l.7-.6m107-70.6l.7-2m28.7-45l0-1m-64.7 94.4l1-1m-49-106l.4-.7m159.4 61l1.3-1.6m-136.6 5l.5-2m-60.5 49.5l1.3-1.4m17.4-91l.3-.5m89 34l1-1m84-27l.7-.6m12.7-35l.5-.3m-84.6 73.7l.6-2m-52.6-34.3l0-1m35 68.7l.5-1.4m-82-52l1-2m162 45l.4-1m-27.4-68.5l.6-1m-158 126.6l.5-.6m136-116l.4-1.3m-72 9l.5-1m-10-22l.5-1m154.4 61.4l.6-.7m-27-78l0-.3m-33.6 103.5l.3-1m35.6-18.5l0-.7m-153-77.6l0-.4m171.5 51.4l1-1.3m-35.4 67l.4-1m-80.4-133.3l.7-1.5m127.5 130.5l1-1m-217.7-75.4l.6-1.4m19 9.3l1-1.6m161 40.6l.5-1.7m17-9l.5-1m-172 28.3l1-1m128 22l1-2m-20.4-105l0-1m-11.7 85l1-2m-49.4-37l.6-2m-51.4 75l.7-1m94.4-105.5l1.6-1.6m57 58l.4-2m-119.6 51l.5-1.3m121.7-118l0 0m-180.5-.3l1.6-1.3m139.7 22.6l1-1.4m-63 48.3l.3-.3m-41-20l0-1m83-48.3l.4-.7m-.6 27l0-.4m22.7-30.6l1-1m-46 45.7l.7-1.3m64 58.3l1-2m17 19l.7-1m-62 9.3l1-1m-30.7 .4l0-.4m65.7 0l1-1m5-98.6l.5-.3m-141.7 24.3l.6-1m-17 42l.6-.4m57-49.4l0-.4m135.7 96l1-1.4m-111-25.3l.5-1.6m32.3 18l.4-1.7m-100-60l0 0m27-39.7l0-.4m146.5 87l.4-1m-70-127l.3-2m-63.5 77l1.6-1.3m36-47l.7-2m94.7-.4l.7-.7m-96.6-3l1.5-1.4m-62 78.5l.7-2m-35-86.4l.7-.6m191 128l.3-.6m-46 12l0-.6m-107-104.7l.7-.5m-10.3-11l1-1.5m42 72.4l1-1m-33-59l1-1m10 58l.4-2m36.4-17.6l0-.3m35.7-39.7l.6-1.7m-116 1.3l.6-.6m42.6 45l.6-2m159-84l.7-1.5m-136.4 150.5l.4-.6m38-46.4l.7-1.4m50.3-20l1-1.5m-23 1.6l.5-.4m21-58.7l.4-.7m-77 102.4l1-1.3m-47-46l.6-1.4m58.6-74.3l1-1.4m16 140.7l0-.6m-125-62l.4-1m54.7 52l.4-2m68.4-41.4l.5-.6m-95.5-38l0-1m107 37l.3-1.3m-120.3 50l0-.5m15.6-20.6l1-1.4m-23-45.7l.5-.6m204-60.4l1-1.5m2.7 18.6l1-1.5m-214 17l.4-.5m79.3 10l0-.4m-81 117.3l1-1.3m43-123l.6-.6m52 114l0-1m117-52.5l0-1m-75-91l.7-1.4m47.6 90l1-1m-107 43.4l.6-1.6m-40.5-81l.4-1.5m-12-23l.4-1m31.7 42l1.3-1m124-40l0-.4m-38.5 27l0-.5m-115-15.7l1-2m119.3 2.4l0-.6m49.4 16l1-1m-7.3-55.6l.4-1m-186 145l.7-1.5m97.6-137l.4-.6m-108 16.5l0-.3m61 46l.3-.5m88-26.5l1-1m-126.6-8l.6-1.6m57.6 31.3l.5-.5m-26-6.5l.3-.3m-61 48.5l1-1.5m213-54l1.4-1.5m-172 67l1-2m146-74.6l.4-.4m-99.4 27l0-1m-22.4 18.3l0-.6m16.6-2.6l.4-1.5m-37-62.5l.4-1m-20.7 82.7l1-1m123-92.4l.3-1m-144 65l.5-1.5m117.4 12l.3-1m-127-19.4l1-1m53 54.6l0-1m79 49l1-1.4m72.7-29.3l1-1m-120.5-58l.6-2m105-4.5l.4 0m-168 21l.6-.7m189-59l0-.5m-67 15l.4-1m-65 2l1-1.3m33.7 65.6l1-1.5m94-47l.6-1.7m-148.5 65.4l1-1.3m146 19.4l0-1.4m-106.7-42.4l.3-.7m58-4.3l0-.7m-95.6-59l.3-.3m-59.3-17l.4-1.7m10.6 65l1-1m10.5 70l0-.3m20.3-59.4l.7-.7m103.4-42l.5-.7m-87 85.7l1.4-1.3m51.5-55.3l1-1m58.6 64.4l.3-1m-36.6-94.4l0-.3m-19 118.7l.4-.3m22.5-86.4l.6-1m55 96.3l0-1.6m-184-156l1-2m196.5 14l0 0m-101.7 61l.4-1m57.7 60.3l.4-1m-41.7-11.4l1-.7m16.3-36l.4-.5m-117.3-72.7l.6-.5m70 2.6l.3-.3m17 4.4l.6-.7m-76.5 57l.3-.5m-40-69l.4-.7m5.3 21l1-2m27 115.7l.7-1m135.7-77.4l.3-1.3m-34.3 39.5l.7-2m46 64l1-2m-32-135.3l0-.6m-137-16l1-1.3m42.5 74.4l0-.7m146-83l.7-1.3m-38.5 122.4l1-1.7m7 6.4l.6-.3m27-60.5l.7-.6m-9.6-62.6l.4-.6m-118 58.7l1-1.4m-6 46l.3-1m121.3-52l.3-.7m-37.4-17.4l1-1m-14.5-5l0-.5m-74.3 43l.3-1m11-17l1.3-1.6m-45.6 95l.7-1.6m-22.5 19.6l1-2m24.3-95.4l.4-.5m11.6 45.5l.7-.6m-21-53l.6-.3m101 4l.6-.6m-5 86l1-1.3m-25.7-52l.5-1.7m41-18l.7-.6" stroke="#46207E" stroke-width="1.7" stroke-linecap="round" fill="none" stroke-opacity="0.8" />
<path d="M763.1 1204.9h0m48.6 57h0m-19-90h0m25 69h0m-7.6 25h0m76-74h0m-104 140h0m60.5-113h0m-.3 112.6h0m-75.3-20.3h0m-62 20.4h0m82-126h0m78.6 69h0m22 30h0m-31.5-53h0m44-74.3h0m-27.7 108h0m-139.5 16h0m46-45.3h0m92.4-57h0m-132 75h0m-46-15h0m160.4-10.6h0m-123 51.5h0m138.3-5h0m-69 22.7h0m56-126h0m-97-8.4h0m-74 41h0m186 81.4h0m-168-109h0m61 111.5h0m51.4 9h0m-122.7 14h0m30.3-59.6h0m151 16.4h0m-153-10h0m52.5-109h0m-20.6 50h0m65.3-6h0m-6 69.5h0m-95-94.5h0m115.5 56.4h0m-127-58.4h0m182.6 82.4h0m-131.3-69h0m143.4 82.6h0m-58-55.3h0m-96 8h0m-37 37h0m62.7 31.7h0m-3.5-60.6h0m22 81h0m-36-40h0m-25-20.6h0m11 49h0m.4-3h0m88-66.7h0m57.7-11h0m-43 35.4h0m-66.3-89.6h0m-6.6 36h0m5 112.5h0m-33.4-43.3h0m85.4-75h0m-58.7-19h0m109 20h0m-107 15h0m90 85h0m-51.6-51h0m-110.6 58.6h0m-2.5-89h0m64.4 60h0m66.3-63h0m51.5 101h0m-197-53h0m100.5-45h0m-1-8h0m46.4 48.5h0m67.4 62h0m5-97h0m-37 42.4h0m-28.6 58h0m-143-89.3h0m75.5 32.3h0m-41 55.7h0m-2-103.4h0m-15 4h0m134.7-52h0m-129.4 94.5h0m102.6 15.6h0m-83 11.5h0m107.3-6h0m-137.6-51h0m-23.3 65h0m209 6h0m-207-90.7h0m115 30.4h0m-95.6 42.6h0m43-47h0m-40 10h0m1-80h0m86.3 34.4h0m59.7-8h0m-82-32h0m-44 66.3h0m76.6 1.3h0m66-59h0m0 8h0m27 62h0" stroke="#7C4CB6" stroke-width="2.4" stroke-linecap="round" fill="none" stroke-opacity="0.6"/>
</g></g>
<g clip-path="url(#t11)"><g filter="url(#soft)">
<rect x="902.6" y="1165.5" width="226.8" height="168.8" fill="#B050AC" />
<rect x="902.6" y="1165.5" width="226.8" height="168.8" fill="#000" filter="url(#mottle)" opacity="0.2"/>
<rect x="902.6" y="1165.5" width="226.8" height="168.8" fill="#000" filter="url(#cells)" opacity="0.25"/>
<path d="M909.2 1169.1h0m18-1.6h0m69 .7h0m11.3 .5h0m56.4-.4h0m25 .6h0m27 0h0m-208 8h0m18 .7h0m11.4 1h0m9-1h0m10-5h0m11.5 1.4h0m24.4 2.3h0m8.4-.7h0m24-1h0m12 2h0m10-4h0m13 4h0m14.7 0h0m17.6-1.3h0m14.5-2.3h0m13 1h0m-202.3 13h0m9-2h0m15 3h0m24.6 0h0m22.3-3.4h0m11 2h0m23-2.4h0m12 0h0m9.6 0h0m10-1.5h0m11 3h0m11.7-3.7h0m15.5 2h0m12.5 2h0m7.5 2h0m15-4h0m-205 10.6h0m15-1.7h0m24 2.6h0m5 2.3h0m17.3 0h0m7.7-1h0m11-4h0m15.7 5h0m6.7 .3h0m10-4h0m11.6-1h0m35.7 1h0m16.5 2h0m20.6-1h0m-187 10h0m31-.5h0m13 2.5h0m13-4.6h0m17.4-.5h0m11 1.4h0m12.3 3h0m15 2.3h0m14-1.6h0m18 1.3h0m13-5.3h0m-155 14h0m22-3h0m24-1h0m12.5 2.4h0m9.5-2.3h0m11.7 3h0m9.6-.7h0m17.6 1.5h0m6.3-2.4h0m10.4 2.4h0m15.4-4h0m11 3h0m11.6-1.7h0m9.6 0h0m16.5-.3h0m-213 9.7h0m19 1.6h0m13-3.3h0m12 0h0m25 4.5h0m18 1h0m25.6-1.3h0m58 1h0m8-2h0m38-1h0m-212 10.3h0m8-1h0m12-1.7h0m9 .5h0m13.3 .3h0m10 5h0m13.6-2.5h0m13 3h0m8-5h0m29 2h0m7.4-2.3h0m24.3 4.5h0m9.4-2h0m16-3h0m9.6 .5h0m13 5h0m17-2.7h0m-218 13h0m9.3-2.7h0m13.7-1h0m12-3h0m10.6 4h0m18.7-1h0m16 2.5h0m9.3 0h0m12.6 1h0m20-6h0m10.4 0h0m46.4 5.6h0m16.6 1h0m7-4h0m-202 7h0m15 2.5h0m7.6 1h0m14-1h0m12.4 1.3h0m25.5-1.7h0m23.3-2h0m7 6.6h0m14-1.6h0m8-4.3h0m17-.4h0m6 2.6h0m29 2.6h0m7.3 1h0m10.6-6.4h0m16 6h0m-212.7 7.4h0m22 1.4h0m13 1h0m30.4-5h0m9.7 2h0m38 .6h0m9.7-1h0m10 4.3h0m16.5-2.3h0m20.3-3.5h0m20.3 .4h0m28.3-.5h0m-206 13h0m11.5 2h0m11.6-5.6h0m11 1.4h0m17 4.5h0m9.5-3.4h0m7 3h0m12-4.6h0m14 5h0m9.4-6h0m17-.5h0m10 1h0m21 6h0m14.4-3h0m6-2.7h0m29-1h0m-191 16h0m20.5 .6h0m21-5h0m15.6 4.6h0m8.3-1h0m13-5.5h0m8.7 0h0m27.4 6.3h0m13.3-3.5h0m10 2h0m11.3-4h0m21 4h0m22-2.7h0m-214 8.3h0m11.6 4h0m18-4.5h0m7.5 2.6h0m10.4 0h0m22.6-2h0m10.6 6h0m28-1h0m7-5h0m39 3.3h0m6-2.3h0m23-1h0m16.5 2h0m9.5-1.6h0m-213 9.3h0m13.6 5.3h0m11.3 1.4h0m21-6.5h0m14.6 0h0m12.5 4.4h0m11.5-4.5h0m11 6.7h0m10.4-3h0m10.6-.6h0m13 .7h0m21.3 0h0m14 1.5h0m7-.4h0m10.6-2h0m13.7 2h0m20.5-1h0m-213 10.6h0m13 2.3h0m12.5-2.3h0m19.5 2h0m28.7-5h0m11 2h0m21 1h0m13.3-5h0m33.4 1h0m9 5.6h0m10.4 0h0m27-6.4h0m10.4 5.7h0m-212 9h0m9-3h0m16.7-.4h0m8.3 2h0m13.6 3h0m21.3-6h0m11.7 2.7h0m13-.4h0m6.7 0h0m16.7 1h0m10.3-3.4h0m8.3 1.5h0m13.4-1h0m15 1.5h0m4.4-.7h0m15 3h0m26.7 1.6h0m8-1.6h0m-211.4 6h0" stroke="#6A4AB4" stroke-width="5" stroke-linecap="round" fill="none" stroke-opacity="0.75"/>
<path d="M1063.2 1169.3h0m-155 8.3h0m28 .4h0m31-4.5h0m-40.6 12.4h0m14 2.5h0m48-4.3h0m9.4 2.4h0m36-3h0m41.4-1.4h0m51 3h0m-165.7 11h0m22 2h0m8.4-.7h0m128-2.7h0m-186.6 10h0m55.7-2h0m40.6 4.6h0m-94 10.4h0m45.7-4.4h0m12 3h0m10-4h0m10.6 3.3h0m45 .6h0m15-4h0m48.7 1h0m-212 11h0m111 1h0m-99 7h0m12-1.4h0m59 7h0m77-2h0m39.7 2.5h0m17.5-4h0m-210 10.3h0m14 0h0m42.4-.3h0m36.6 3.4h0m101-3h0m-186.4 9h0m20 0h0m39-.3h0m23.3-2h0m6 6.7h0m23.6-6.7h0m21.6 3h0m36 4.3h0m27-1h0m-100 6.6h0m58-2.3h0m-158 12.7h0m151 4.3h0m49-7.4h0m-170 17h0m35.6-1h0m9-.6h0m14-5h0m7.4 0h0m27 5.3h0m24-.7h0m-130 5.3h0m8 2h0m9.5-1h0m137-1.6h0m26 1.6h0m-212.6 8h0m13 5.4h0m81 2.6h0m21.7-4.7h0m48.6 3.4h0m6-1h0m12.3-2h0m12 1.3h0m21.4 .6h0m-52.7 10.7h0m48-1h0m-164.3 11.7h0m70.7-2.4h0m51.6-2.7h0" stroke="#3C1070" stroke-width="2.4" stroke-linecap="round" fill="none" stroke-opacity="0.75"/>
<path transform="translate(902.6,1165.5)" d="M100 58 C110 52 130 51 138 55 C143 62 139 80 133 92 C128 100 120 102 112 100 C104 96 97 82 96 68 C96 63 97 60 100 58 Z" fill="#F1EEF1" stroke="#8A5AB0" stroke-width="1.2"/>
<path d="M1023.5 1245.3h0m3 4.3h0m-17-11h0m21.7 4.5h0m-11.3-9.7h0m2 8h0m-6.6 8h0m11.7-18h0m.7-.6h0m-4.3-.3h0m-10 2h0m8 11.3h0m8.6-9h0m-12.7-3.3h0m-1.5 10.5h0m1-7h0m11.4 4h0m-12 0h0m9.3-10h0m1 19h0m-9-6.6h0m-4 4h0m3.4-9.4h0m4.3 10h0m-10-.5h0m16.5 2.6h0m-17-12.4h0m12.6 14h0m-6.5 0h0m5-14.7h0m-5.6-3h0m16 8.3h0m-14-7h0m4.7 14h0m-3.4-9.7h0m-10 1.7h0m14 7h0m-12.3-8.4h0m1 10h0m3.5-9.5h0m16.3 0h0m-11.7 6.6h0m0-10.5h0m-2-3.5h0m13.3 11.5h0m-11-7h0m-10-1.5h0m17 14.3h0m-10.3-2h0m10-2h0" stroke="#E0507A" stroke-width="2" stroke-linecap="round" fill="none" stroke-opacity="0.9"/>
<path transform="translate(902.6,1165.5)" d="M124 103 L133 103 C132 118 130 132 127 144 C124 130 122 116 124 103 Z" fill="#F1EEF1" stroke="#8A5AB0" stroke-width="1.2"/>
</g></g>
<g clip-path="url(#t12)"><g filter="url(#soft)">
<rect x="1129.4" y="1165.5" width="227.4" height="168.8" fill="#8A4CB2" />
<ellipse cx="1247.4" cy="1220.5" rx="78" ry="58" fill="#2A1686" opacity="0.7" filter="url(#blur8)"/>
<rect x="1129.4" y="1165.5" width="227.4" height="168.8" fill="#000" filter="url(#spk_light)"/>
<rect x="1129.4" y="1165.5" width="227.4" height="168.8" fill="#000" filter="url(#spk_dark)"/>
<path d="M1188.8 1280.8l0 1.7m96 25.7l-.4 .3m-112-103.5l.3 1.3m-9-2l1.5-2m130.6-14l-1.4 0m-44 14l1 0m-54.6 36l-1 2m123.4 27.7l-1-1.7m-184.5-54l-2-1.7m32 101l.7-1.3m148.5-9.4l1 1.5m3-11.7l2 1.3m25.5 7l-.3 .4m-156 9l1.5 .7m50.5-16.7l-1 1m18.5-55l-1.6-1m-43.5 1l2-.3m-13.4-52l-1 1m115 112.5l0-2m37.5-16l-2-1m-95.3 10.7l-.6 2m-94-14l-1 1.5m70.6-85l1.5 0m-55.7 58l2 1m9.4-11.7l0-1m79.4-9.6l0 1.6m-107 14.3l0-1m23.6-41.6l-.5 0m-9 22l-1 0m-26 47.3l-2 1.3m200.4-45l-1.3-1.5m-51.7 92l.4-.6m-152.7-131l1.6 0m170.4 116l0 1.3m-37.7-114.5l-1 1m-50 117l1 0m105.7-10.6l2-2m-156 10.4l1.5-1.4m37.3-21.5l1.3-1.4m-55 44l-1.7 0m107-41.6l1.6-1m-90-16.5l0 .4m83-5l-1 .3m-48.7 22.7l-2 0m-2-72l1-1m-41 65.7l-1-2m-10.7-74.5l1-.3m-10.7 70l1.6 1m108-17.7l-1.4 1.7m-115-19l1.7 1.3m67-59l1 .6m-78 150.3l1 .6m26-117l.3-1m33 50.5l-1.6 1m-41.7-22l.3-2m65 62.6l.4 .4m-82-84l0 1.3m110.7 105l1.5-.6m3-82l1.3 0m33-30l.5 0m-144 34.3l1.7 0m196.3 39.6l2-.7m-149-8.4l.7 1.6m132.5-72.6l.7-.5m-59.6 16.7l-1.7 0m-75.7-11.4l-.4 1.3m-9 9.3l1.4 2m-38.5 6l0-.5m11 60.5l0 1m115.6-127l-1.7-1m41 32.3l-1.5-.7m-64.6 61.4l-1 2m-32.4-46l-1 1.5m24-27l-1-1.3m97.6-3l2-1.7m-11 19.4l-1.5-1.5m-115.7 30l-2-.6m-59-43l-1-1.3m75 53.7l-2 1m118 90.4l-1.7-1m-186-75l.4 1.7m19 43.3l.7 1m43 14l.7 1m49.4-129l1.4-1.5m-123 22l-2 .3m196.4-17l0 0m-88 37l1.4-1m-31.3 73l1-.5m-30.6-13.6l-.3-1m102.3 37l-1 .5" stroke="#F4E2FA" stroke-width="1" stroke-linecap="round" fill="none" stroke-opacity="0.8" />
</g></g>
<g clip-path="url(#t13)"><g filter="url(#soft)">
<rect x="1356.8" y="1165.5" width="228.2" height="168.8" fill="#EDEBEE" />
<ellipse cx="1386.8" cy="1171.5" rx="34" ry="9" fill="#E07AB0"/>
<path d="M1403.5 1171.5h0m-5-5h0m-33 0h0m5.5 3h0m16-2h0m-10.3 9.4h0m30.4-10h0m-16-2.5h0m4.4 9.3h0m-30.5 4h0m29.4 2h0m-23.4-14.5h0m34.7 11h0m-37-5.7h0m-4 .3h0m12.5 7.3h0m42.7-6.3h0m-29.6 0h0" stroke="#4E2496" stroke-width="2.8" stroke-linecap="round" fill="none" stroke-opacity="0.85"/>
<ellipse cx="1464.8" cy="1183.5" rx="13" ry="12" fill="#E06098"/>
<path d="M1470.1 1193.4h0m5.5-8.3h0m-12 7h0m-9-3h0m18-9h0m-12 12h0m-6.6-3h0m12 6h0" stroke="#4E2496" stroke-width="2.8" stroke-linecap="round" fill="none" stroke-opacity="0.85"/>
<defs><path id="lw2" d="M1330.8 1143.5l-5 17.4m.6 34.3l-5.7-18.7m-.7 167.4l14-13.4m9.5-85.4l3-8.5m0 0l15.6-5.5m-18.4 14l19 .7m251.4 18.4l-4.3 17.5m.4 0l-.4 0m-9-2.3l5.6 3m-5.5-3l-19.4-2m1 7.3l.7 1m23-3l-6 13.7m-80-164l3.7-5.3m99 44.6l-6-4m0 0l2.3-20m4-4l-4 4m-294.3 94.3l6.4-2m7 5l5 0m-5 0l-7-5m10-20l-12 8.5m-5 19l.6-5.5m13.6 3l-8.7 9m-5.6-6.7l5.6 6.6m-6.6-56.6l6 15m.6 109l1.6-1.7m19 13.5l-10 .7m-1 0l-2.6 16.5m3.7 1.5l14.3-2.3m0 0l0-6m-11-25.6l-3.6 16m4-16l7 .5m5.4 4.7l-6 10m-17-2.6l6 3.4m-3.4-18l-5 3.7m1 31.6l4.6-1m35.5-70l3 5m-4-13.3l26-7m-15.3 22l16.4-21.6m-31 4l4 2.6m-4-3l-15 16.3m0 0l.3 3m0 0l19.6-8m1-30l-5 1.7m-5 10.4l5-10.4m28.7 12l.4 1m-72.4-1.4l22.3-1m-10.7 14.6l-15-9.4m0 0l-.6-2m25 9l2-11.4m0 0l-.7-1m-17.5-8.4l-5 9.6m19-18l3.5 17m-30 27.5l13.5 3.4m0 0l6-16.3m26.6-15l-15.3 1m4 22l-6-10.5m16.6-29l6 6.3m-12 44.4l-4-6.6m-2.5 16l-12.6 .4m0 0l-5-8.6m-.4-3l.6 3m31 1.6l-7-3m7 3l11.6-14m-22.7 3l0 1.6m-22 3.7l1.5 1m19 24l-1-13m-14 10.7l1.4-10m-10-.6l5-8m212.3-115.3l-7.6 11m-14.7-1l-.3-.4m0 0l13-16m0 0l8.5 1.6m73-9.7l-8 0m0 0l2.3 18m0 0l8.3 1m-11.6-19.5l1 .3m-10.5 17l3 2.5m10-1l-10 1m.5 60l0 12.5m-1 20l-1-18.7m0 0l2-1.3m-20.3 17.7l-10-11m11 18.5l-14 15m-1.6-34.7l-6.4 5m-1.3 3.7l1.3-3.6m-1.3 3.6l0 16.7m12.4-24l-2-1m-43-48l-4-25m4 25l2-.4m8.7-23.7l12.6 11m12.6 48.3l6-17.7m-6 17.7l-13.5-10m0 0l1-14m16.6 1.3l-8-6.3m8.3 41.4l-4.4-12.4m-27 12.3l-1-11.4m0 0l6.4-10.4m3.7 63l-12.6-7.5m13 8.3l-14 19m0 0l-10-5m11-54.4l-15.7 .7m0 0l.3 8m16.5 15.7l-3 4.7m0 0l-1-.3m6.4-30.4l-3.3 1.6m27 7l-26 17.4m26-.5l-14.6 16m-12.6-8l-2-3m-156.5-45l8-16m15.5 29.7l-5-21.7m116.7 19l-1-2.6m-22 11l11.3 3.7m-11.3-16l8-4m-22 3l-1-1.5m1 1.3l14 1m-15-2.3l3.3-11.3m19.5 10l-6.7-15.4m0 0l-13 5.4m-57 18.5l26.3-7.5m-23-21l20.4 3.7m0 0l2.6 17.3m61-111.5l0-8m0 0l-11-2.5m-7 5l1.4 6.3m0 0l2 3.5m23.3 5.5l-9-10m9 10l10-12m0 0l-2.6-8.7m-12-2l-4.3 5m-28-4l10.3 6.4m26.6 15.3l0 1.3m-23-7l-1 13.3m9 2l-9-2m-158-17l5.6 1m-10.6 16.3l10.6 7.3m0-23.6l8 8.6m0 0l.7 4m-24.4 19.3l15-3.7m.7-4.6l-.5 4.6m272-5.6l-7-7m0 0l.6-6m10.7-22.4l-5-.4m0 0l-7 21.3m1.3 1.4l-1-1.4m6.6-21.3l-5-2m-1.7 23.3l-12.6-9m-103.4 209.7l16-3m-28.3 2l10-2m-51 2.7l12.4 8.3m16-19.4l9.3 1.3m0 0l3.3 9m-6 7.7l-14-7m.5-7.6l-.5 7.7m7-11l12-25.6m0 0l-6-3m-6.3 1l-14 21m8 10l-8-10m77.5-143.7l-10.3-4.5m23.3-11.7l-.4-.7m-24.7 5l8.5-12.5m16 7.5l-16-7.5m-6-13l4.4 4.6m-19.5 3.7l5 12m7.6 5l-7.6-5m14.5-15.7l1.6 8.4m51 98l8.7-10m-10-20.5l15.3-2m18 14l-1.7-6m0 0l-21.6 14.4m-53-37l-.6 3.4m4-4.7l21 11.6m-9 14.5l-11-9.3m0 0l-5.5 13.5m-8 20l-7.6-6m-1-2.5l2-4.6m0 0l14.6-7m-3.3 101.7l4.7-5m-10.5 7l-9.6-4m0 0l9-16m-10.3-27l8.7-5.6m0 0l-5.5-10m0 0l-13-3.7m0 0l-1.7 1.6m-7.4 19l3.4-17m0 0l4-2m9.6 20l2-2.5m1 17l-3-14.6m12.3 16.7l4-2m0 0l-5.7-22.5m5.7 22.7l2 0m8.4-25.7l-16 3m3.5-23.3l-9 13m-10.6-14.5l-2.3 11m73.6 15l3 5.5m-26.5 2l6.3 6.4m32-27.6l0 23m0 0l-4.3 1.4m-7.7-5l7.7 5m-198.3-9l-16.3-1.3m0 0l-.6-1m18.4-12l4 8m0 0l0 2m87.3-149l1.6 11.7m0 0l13 1.3m-19 76.7l6-14.5m-15-1.4l-5.7 7m-.7 5.6l.7-5.5m16.6 26l-14.4-.7m17.6-10.4l-5.3-6m-15.6-3l3.3 19.4m-3.3-19.3l.4-.5m-33-1l-2.7-6m22.7 10l12.6-2.5m-14-20l-17.4-2m-5.7 4.5l5.7-4.6m51.6-65l-5-6.4m8-10l-3 .7m-147 63l10.3-2.5m-.7-19.7l1.5 2.7m7.7-18l9.5 4m-17 14l21.4 3.3m-13.4-47.6l4.5 0m2 15l-2-15m4.5 30l7.7-3m-10-12l8-2m2 14l-2-14m31 .5l12-3m-19 .7l-1.3-2m-8.6 19l.6-3m0 0l-11.4-15.3m234.7 43.3l-1.7-.5m4.3-23.6l-8.4 5.3m-4 10.3l4-10.3m-22-39l11.5 6m-21 4l9.6-10m-76.4 201l1.3 8.3m-19.3-17l-.4 19.3m0 0l6 6.3m24-23.6l-11.6 6.7m-10-21.7l1-1m-10.6 12l1.6 2m38.5 4l0 8m-11.6 16l-7.6-11m-13.6 14.7l0-6m21 2.5l-2.7 3.5m-31.4-7.3l7-5m-4.7-22l3.5 1m-18-63l-3.3 2.5m-1.4 .4l1.4-.4m-10.3 16l3.5 5m-3.5-5l9-15.6m-5.5 21l5.3 2m7.3-8l-7.3 8m7.3-8l12.7-1m17 17l-13.7-6m10.6-12.6l-11.5 5m-2.4-3.3l2.4 3m-86 43l3 6.7m-11-10.5l-13.4 5m-1.5 3l8.3 11.4m0 0l1.7 1.3m0 0l3.4 1.3m2-34l-.6 12m15.3-9l-9.3-7.6m9.3 8l-7 12.4m-24-17.4l2.4 18.7m-10 4.5l8.5-1.6m-10.6 22l19-10.6m-14 21l.4 0m0 0l21.4-6m-3-12.4l4 7.7m0 7.6l-1-3m1 3l8 5.5m137-198.7l9-13m-1.4 19l12-12.6m-10.4-6.3l.3 0m0 0l10 6m-12 24l0-11.3m-18-4.4l10.7-1.4m26.7 13l-10.6 7m10.6-15.3l-7.4-11.3m-7.6-23l-2.4 16.6m22.4-7.3l-1 1.7m0 0l-11.5 11.5m49.7 33.4l-12.5 10.6m-10.5-17l3.6 13.4m-3.3-13.7l14.5-1.3m-4.3 18.6l-7-3.6m-23 8.5l-1 4m5-8l16-.3m-15 14l14 .4m0 0l1-14.4m-29-13l9 17.3m.3-28.6l12.3 7m0 0l-8.5 17.6m-8.3 9l3.3-1m13.5-25.4l7-.5m-15 46l.5-14.3m24.5 24l4.7-3m11.6 10.5l.4-2.5m-12-8l12 8m-6 87.4l-10.4-17m10.6 17l9.5 1m-20-18l14-4m6 22l-6-22m2-8l0 6m0 0l-2 2m13 30l-7 8m0-16l-8.3 11m12.3-10l-4-1m0 16l-8.3-5m23 17.4l-19-1.6m4.3-10.7l-4.4 10.7m-69-27.6l3.7 5.7m0 0l15-2m1.7-16l4 11.3m-5.7 4.5l5.5-4.5m18 0l-11.6 2m-40.3 22l13.5 14m-109-28l6 3m-6-4l11.7-13.6m-5.7 17.4l11-2.3m0 0l-5.3-15m-1-9.3l-8.3 1m-4.4 5l4.4-5m-4.4 5l2 17m6 19l0-15.4m10-30l17.3 7m-17.3-7l-5.5 3.4m-.5-18.5l2-6m0 0l-20-23m-3.7 26.6l-3-9m-.5-13.5l6-4.6m0 0l1 .3m23.7 37l-5.5-8m-7.6 20l-14.3-20.4m0 0l0-2m29.4-17l-25.7-9.6m-22 41.4l9-.3m-18-9.5l24.5-14m-12.4-15.6l12 2.3m6.5-5.4l-.4 1m-24.6-21l26-15m63.5-37.5l3.4-14m0-.5l-19-3m4 15l-6.6-10m0 0l2.6-5m29.5 6.4l7.3-4m-7.3 4l-10.5-3m3.3-14.7l-3.3 14.3m-17-12l-2 9m-13 26l10.3-1.3m-10 1l-1 10.3m17-1.6l-10 7.4m-7-6l7 6m-20 1l13-7m-30.4 4.7l.3-.6m25-20l-25 20m53 11l1.5-.7m-16.6-.7l-.6-7.7m19-5.4l-9-2m29 14.5l13.4 13.3m-16.3-13l-6 9.7m19.4 7l-19-6.5m35.7-13.3l-9-2.4m0 0l-18 5m26.3 1l-13 12.5m-2 20l-1-16.4m-22 .3l3-6.7m-13.3-9l13 8.5m3.4-19.4l-9.7-7m9.7 7l11.3-5.6m-18.7-11.6l7.5-2m0 0l9.7 1m1.5 12.6l-1.5-12.6m-24.5 15l5-3.7m12 16.6l-2.3-9.7m-11.5-22l4 5m-15.7-7.7l-6.6 10m49-9.7l-9.4 6m-166-1l3 2.4m0 0l1.7 22m0 3l.7-2m-.7-1l.7 1m34-81.5l-11 .4m19 6l-9 13.7m-11.5-15l1.4-4.7m-15-5.6l8.7-3.6m50 1l10-1.6m-10 2l-3.7 12.6m0 0l-1 .5m1-.5l15.7 3m157.3-1l-9.7 11m9.7-11l6-.7m0 0l1.5 1m0 0l-3.5 14m0 0l-7 4m-7-5.6l.3-1.5m-7.3-18l17 7m-19.4-4.6l9.7 15.6m19.5-11l-2.3 0m7 22l-10.5-8m-8 19.6l1-15.6m-20.6 .7l14-6m-103.7 148.7l8-15.6m0 0l1.5-6.5m-19 4l0-.3m-14 13.7l14-13.3m10 26.6l-.5-8.6m19.7 1l-12-16.6m2.7-7.3l-1 1m-22.3-3l3.5 6.5m-44.5 43.4l2.3-12.4m-15.5 5.4l9.7-9m6 3.6l-6-3.5m-16 10l2.3 .5m0 0l4-1.6m7-18.6l2.7 9.7m16 2.7l-10 1m4 20l-3 12m3-12l-5-3m0 0l-12 3m14 12l-9.6 4m-2-1.6l-5-9.4m24.3 13l-7.5-6m11-15l-8 3m-6.7-8l1.3 5m-18.5-10l7 13m-10.3 18.5l12-4m-20-9l15.6-.5m186-148.3l2.5 6.6m0 0l-9 10.6m9-10.6l14.3 2m-34 27l12.7-15m9 15l-2-9.6m0 0l-7-5m0 0l-2-4m37 25.7l-8.3-2.3m15 80l-14.4-10.6m1.4 23.3l13-13m-11-33l5.4 15m-15 6l6 1.7m-20.4 37l2 6.5m-2-6.4l-4.5-5.6m0 0l-.7-.3m-8.4 7.5l-5 7.7m15 3l5.7-6m-20.7 3l0 0m31.4 3l-10.7-6m7.6-10l-9.7 3.7m8.5-16l-13 10.4m-9-11l8.3 10.7m-19.6-8.6l.4 9.4m0 0l11 6.7m-11-6.7l-2.5 11m-9 4l2-3m-2-5.4l-17.7-4m8 13.5l-9-11.4m3 22l6-10.6m18.7-5.3l-7 1.4m-3-19l1 13.4m-16-11.4l-1.7 7.3m-7 5l6-3m-63-199.5l-13.4 4.6m0 0l-.3-12m-19 0l6-3.5m-6.4 12.7l18.6 4m-92 84l.4-.5m19 4l-.4-3.4m-18.6-.6l18.6 .6m32.3-15l2.7 1m-2.7-1l-32 14.5m65.5-38.4l-1-8m5.7-6l-5.5 6m12-28.6l-10 14.6m6.5-21l-13 15m6.7 6l-6.6-6m26-1l-9.4-7.6m-4-8.6l.3 2.3m-3 29l-3.3-8m153.3 34.3l12.5 2.4m-16.7 6.3l11 13.3m5.7-19.6l.5 12.6m-14-16.4l1 1.4m-15 16l11-7.3m8.6 21.5l2-8m-173.5-64l-9 16m3.5-30.6l-2.3 0m-11.4 12l4.4 16.6m2 1.3l-2-1.3m5 2.6l.7-.4m20.5 5.4l-20.5-5.4m16-14.6l-7-1.5m1-20l-6.4 5.3m-8.4-4l6 4m-21.3 10.7l10 1m-10-1l-1.4-17m18 70l2.6-32.5m-23.4 25.7l-1-9m0 0l21.4-18m-62.6 .6l3 3m-22 13l8-.6m14-12.5l-.7 3m-19 33l10.6-16.6m-4.7-7l4.7 7m25.4-3l1.5-5m-18.5-8.5l6.6 13m12-4.4l-11.3-14.6m6-19.3l.5 1.3m0 0l-4 16m-2.5 2l2.7-2m-13 41.7l-.4-1m20.6 3.6l.6-7.5m0 0l-16-5m0 0l0 0m-.7 22l-4-12m23 12.3l-3-10m-36-3l15.5 0m-5-16.6l10 7m38.3-3l-15 .7m0 0l-8-8m-10.3 0l-5 10.5m23.7-23.6l9.6 2m-14.4-7l11-15m3.4 22l5-11m-4-9.7l-3.6-1.3m0 0l-1 0m-13 28.5l7-8.5m-15.3-8l10.5 3m-6.7-19l17.5 4m27 12l-18.3-1m4-16.7l-8 7m-6-21.3l2.3 20"/></defs>
<use href="#lw2" fill="none" stroke="#DE90D0" stroke-width="2.7" stroke-linecap="round"/>
<use href="#lw2" fill="none" stroke="#5A2AA0" stroke-width="2.6" stroke-linecap="round" stroke-dasharray="0.5 8 0.3 11" stroke-opacity="0.85"/>
<path d="M1441.3 1216.5 1440 1223 1435.5 1228.5 1429 1232.6 1420.8 1234 1413.2 1231.5 1405.7 1228.9 1403.2 1222.5 1398.4 1216.5 1398.9 1209.1 1406.2 1204.6 1412.6 1200.3 1420.8 1196.5 1429.9 1198.6 1436.9 1203.3 1441.2 1209.6Z" fill="#EDEBEE" stroke="#DC8CD0" stroke-width="2.8" stroke-linejoin="round"/>
<path d="M1441.3 1216.5 1440 1223 1435.5 1228.5 1429 1232.6 1420.8 1234 1413.2 1231.5 1405.7 1228.9 1403.2 1222.5 1398.4 1216.5 1398.9 1209.1 1406.2 1204.6 1412.6 1200.3 1420.8 1196.5 1429.9 1198.6 1436.9 1203.3 1441.2 1209.6Z" fill="none" stroke="#5A2AA0" stroke-width="2.8" stroke-linecap="round" stroke-dasharray="0.5 8 0.3 11" stroke-opacity="0.85"/>
<path d="M1552.7 1214.5 1549.2 1218.2 1546 1221.7 1540.9 1224.6 1533.8 1224 1527.5 1223.4 1521.4 1221.8 1517.4 1218.5 1516.1 1214.5 1518.7 1210.8 1522.7 1208 1526.9 1204.7 1533.8 1204.1 1540.2 1205.3 1544.9 1208 1547.5 1211.2Z" fill="#EDEBEE" stroke="#DC8CD0" stroke-width="2.8" stroke-linejoin="round"/>
<path d="M1552.7 1214.5 1549.2 1218.2 1546 1221.7 1540.9 1224.6 1533.8 1224 1527.5 1223.4 1521.4 1221.8 1517.4 1218.5 1516.1 1214.5 1518.7 1210.8 1522.7 1208 1526.9 1204.7 1533.8 1204.1 1540.2 1205.3 1544.9 1208 1547.5 1211.2Z" fill="none" stroke="#5A2AA0" stroke-width="2.8" stroke-linecap="round" stroke-dasharray="0.5 8 0.3 11" stroke-opacity="0.85"/>
<path d="M1582.6 1265.5 1583 1276 1578.8 1284.7 1572.6 1289.8 1565.8 1289.6 1558.7 1290.5 1552.7 1284.7 1551.1 1274.4 1548.9 1265.5 1550.9 1256.4 1555 1249.6 1559.4 1242.8 1565.8 1242.7 1573 1240 1579.2 1245.8 1580.2 1256.7Z" fill="#EDEBEE" stroke="#DC8CD0" stroke-width="2.8" stroke-linejoin="round"/>
<path d="M1582.6 1265.5 1583 1276 1578.8 1284.7 1572.6 1289.8 1565.8 1289.6 1558.7 1290.5 1552.7 1284.7 1551.1 1274.4 1548.9 1265.5 1550.9 1256.4 1555 1249.6 1559.4 1242.8 1565.8 1242.7 1573 1240 1579.2 1245.8 1580.2 1256.7Z" fill="none" stroke="#5A2AA0" stroke-width="2.8" stroke-linecap="round" stroke-dasharray="0.5 8 0.3 11" stroke-opacity="0.85"/>
<path d="M1434.4 1266.5 1433 1274.5 1431.7 1284.4 1422.1 1286.5 1413.8 1291.2 1404 1290.3 1398.5 1281.8 1390.9 1276 1393.6 1266.5 1395.5 1258.9 1397 1249.7 1405.6 1246.7 1413.8 1245.5 1422.5 1245.5 1431.1 1249.2 1434.4 1258Z" fill="#EDEBEE" stroke="#DC8CD0" stroke-width="2.8" stroke-linejoin="round"/>
<path d="M1434.4 1266.5 1433 1274.5 1431.7 1284.4 1422.1 1286.5 1413.8 1291.2 1404 1290.3 1398.5 1281.8 1390.9 1276 1393.6 1266.5 1395.5 1258.9 1397 1249.7 1405.6 1246.7 1413.8 1245.5 1422.5 1245.5 1431.1 1249.2 1434.4 1258Z" fill="none" stroke="#5A2AA0" stroke-width="2.8" stroke-linecap="round" stroke-dasharray="0.5 8 0.3 11" stroke-opacity="0.85"/>
<path d="M1515.8 1260.5 1515.5 1267.8 1510.8 1271.6 1507.7 1276.9 1502.8 1276 1498.3 1275.5 1494.7 1271.7 1492 1266.7 1488.5 1260.5 1492.5 1254.6 1493.8 1248 1498.5 1246 1502.8 1245.1 1508.3 1242.2 1511.9 1248 1515.8 1253Z" fill="#EDEBEE" stroke="#DC8CD0" stroke-width="2.8" stroke-linejoin="round"/>
<path d="M1515.8 1260.5 1515.5 1267.8 1510.8 1271.6 1507.7 1276.9 1502.8 1276 1498.3 1275.5 1494.7 1271.7 1492 1266.7 1488.5 1260.5 1492.5 1254.6 1493.8 1248 1498.5 1246 1502.8 1245.1 1508.3 1242.2 1511.9 1248 1515.8 1253Z" fill="none" stroke="#5A2AA0" stroke-width="2.8" stroke-linecap="round" stroke-dasharray="0.5 8 0.3 11" stroke-opacity="0.85"/>
<path d="M1488.2 1315.5 1486.4 1322.4 1482.8 1329 1474.3 1329.7 1467.8 1331.8 1459.9 1332.7 1452 1329.7 1451.1 1321.7 1448.7 1315.5 1448.7 1308.4 1453.6 1302.7 1459.8 1298.1 1467.8 1300 1474.8 1300.3 1482.4 1302.4 1487.2 1308.3Z" fill="#EDEBEE" stroke="#DC8CD0" stroke-width="2.8" stroke-linejoin="round"/>
<path d="M1488.2 1315.5 1486.4 1322.4 1482.8 1329 1474.3 1329.7 1467.8 1331.8 1459.9 1332.7 1452 1329.7 1451.1 1321.7 1448.7 1315.5 1448.7 1308.4 1453.6 1302.7 1459.8 1298.1 1467.8 1300 1474.8 1300.3 1482.4 1302.4 1487.2 1308.3Z" fill="none" stroke="#5A2AA0" stroke-width="2.8" stroke-linecap="round" stroke-dasharray="0.5 8 0.3 11" stroke-opacity="0.85"/>
<path d="M1545.2 1292.5 1544.6 1297.8 1541.4 1302.3 1535.4 1302.7 1530.8 1304.6 1526.1 1302.9 1522.1 1300.6 1517.3 1297.7 1517.4 1292.5 1516.7 1287.1 1522.3 1284.6 1525.6 1280.8 1530.8 1278 1535.9 1281.1 1541 1283 1544.8 1287.1Z" fill="#EDEBEE" stroke="#DC8CD0" stroke-width="2.8" stroke-linejoin="round"/>
<path d="M1545.2 1292.5 1544.6 1297.8 1541.4 1302.3 1535.4 1302.7 1530.8 1304.6 1526.1 1302.9 1522.1 1300.6 1517.3 1297.7 1517.4 1292.5 1516.7 1287.1 1522.3 1284.6 1525.6 1280.8 1530.8 1278 1535.9 1281.1 1541 1283 1544.8 1287.1Z" fill="none" stroke="#5A2AA0" stroke-width="2.8" stroke-linecap="round" stroke-dasharray="0.5 8 0.3 11" stroke-opacity="0.85"/>
</g></g>
<g clip-path="url(#t14)"><g filter="url(#soft)">
<rect x="1585" y="1165.5" width="227" height="168.8" fill="#C458B0" />
<rect x="1585" y="1165.5" width="227" height="168.8" fill="#000" filter="url(#mottle)" opacity="0.35"/>
<rect x="1585" y="1165.5" width="227" height="168.8" fill="#000" filter="url(#knuc)"/>
<path d="M1803.2 1168.4h0m-51.6 24.5h0m56.3-23.6h0m-24 111h0m-5 53h0m-139-110.4h0m105.4-9.6h0m-100-8.7h0m133.7 108h0m-13.5-109h0m28.6 48h0m-156-9h0m42.4-63h0m32.6 47h0m1 95h0m17-87.5h0m49 98.4h0m-84-8.4h0m-106-134h0m34.6 133h0m116.7-36.7h0m-91-37.3h0m135-66h0m-173.3-8.7h0m79.3 132.3h0m19.5-73h0m-12-37.3h0m100.4 29h0m-160.4-7h0m132.7 1h0m18 3h0m-104.3-43.5h0m105 120.4h0m-97.5-113.6h0m4 43.5h0m78 92h0m-22-107h0m-157.5 101.4h0m203-122.7h0m-100 54h0m107.4-73h0m-206 133.3h0m114.5-63.6h0m47 22h0m-19.4-56.5h0m-136.7-41h0m56 106.6h0m10.4-50.3h0m53.7 59.7h0m-5-65.6h0m50.7 81.6h0m16 15.3h0m-197.5-37.3h0m75-47h0m38-40.6h0m-60.3 140.5h0m18.4-12h0m79.5-100h0m-82.3 48.4h0m86.3-44h0m-144.7-28h0m180.4 92.7h0m-169.3 17.7h0m105-83.5h0m71.7-34.3h0m-179 36h0m144 34h0m-57 59.7h0m-20.5-19.7h0m-87.6-1h0m34-21h0m153.7 0h0m-58.5-18h0m39-30h0m-116.7 31.4h0m64.6-73.5h0m2 58.5h0m-84 40h0m140-61.4h0m19.6 108h0m-45.7-96.5h0m-87.7-46.3h0m0 145h0m-47.7-14h0m143.3-22h0m-134.6-23h0m24 5h0m132.4 7.6h0m-58.3 27.3h0m-69-121.4h0m143.3-17h0m-100.7 61h0m103.4-8h0m-69.3 21.4h0m-20.4-4.7h0m-2.3 20.6h0m-8-29h0m110.7 92.4h0m-152.5-5h0m-50-102.4h0m196.7-27.3h0m-52 137.6h0m-12.6-89h0m-131-1.6h0m97.7 56.4h0m-16.6 3h0m3.4-28.6h0m79.5-78.3h0m44 47.4h0m-107 87h0m21-75.4h0m-80.6-50h0m123 47.7h0m-23 31.6h0m5.4-62h0m40.7 21h0m-154.6 69.7h0m163-124.6h0m-3.4 94.7h0m-138.5-19h0m146.7-70.5h0m-59 15h0m-115 118h0m190.5-49h0m-45.6-43.4h0m-82 36.7h0m87 14.3h0m-77.6-12h0m-15 30h0m105-6h0m-123.3-65.3h0m148-.5h0m-71-47h0m-120 21.5h0m122 .4h0m-3.6-26h0m8 105h0m-98-77h0m-1.3 42.4h0m-15-43.3h0m139.5 117h0m-145-69.5h0m112 71.7h0m-22-69.7h0m47.6 43h0m-13.4-28h0m22.3-96.6h0m-10 30h0m-93 28.7h0m37.5 32.7h0m15-45.6h0m-51 56.6h0m128.5-46h0m-207.7 79h0m198-2h0m-56.7-71h0m-128.4 84h0m83.5-133h0m42.4-13h0m-53 93h0m93-40.5h0m-136.5-2.6h0m140.5-42h0m-153.3 42.7h0m183 89.3h0m3.3-139.3h0m-105 16h0m19 108.3h0m-23-17h0m44.7-31h0m-65.6-44.3h0m74.4 123.7h0m55.7-9.6h0m-27-44.7h0m-79.3-89.3h0m68 10.5h0m30 112.4h0m-146 8h0m106.6-15.6h0m-145.7-90h0m10.5 111.6h0m20-83h0m114.4-8h0m-27 38h0m-57 50.7h0m65-31.3h0m14.3-20h0m-126.5 49h0m174-135.3h0m-129.3 14h0m-53 65.5h0m67.7-74.4h0m11 94h0m-78-8.4h0m118 31h0m76 8h0m-140.4-133h0m-9 14.4h0m117 33h0m-66 60h0m-22.5 45.3h0m44.7-67h0m-111-59.4h0m117.6 33h0m-24.5 73.6h0m22-7h0m-70-128.4h0m-20 139.7h0m-8.4-130.5h0m-38.5 146.3h0m31.6-154h0m33.6-5.6h0m83.6 107.6h0m-69 6h0m-91.3 12h0m140.5-7.3h0m-112.4 33.3h0m189.7-78.7h0m-150 6h0m87.7-9h0m-37 82h0m37-94.4h0m45 66.7h0m-200-49h0m63.3-31.5h0m15.4 88.6h0m54-98.4h0m-122-16h0m69 65.3h0m28-19.3h0m6.6-19.5h0m95.3-15h0m-131 73.3h0m105.5-42.5h0m-46-25h0m-140 119h0m12.6-34.3h0m-8-77h0m108.7 100h0m65-100h0m-179 75.5h0m166 30h0m-138-44h0m109 35h0m52-18.5h0m.3-114.5h0m31 87h0m-20.7-75.5h0m-85.3 123h0m101-46h0" stroke="#3E1C86" stroke-width="2.6" stroke-linecap="round" fill="none" stroke-opacity="0.8"/>
<circle cx="1691" cy="1185.5" r="15" fill="#5A2A9A" fill-opacity="0.35" stroke="#F6E8F6" stroke-width="1.3"/>
<path d="M1702.2 1191.9h0m-13.4 6h0m2.7-23h0m-.4 22.4h0m1-23h0m-10 18h0m5.6 4.6h0m14-19h0m-17.4 10h0m-3 2h0m7.3 4.6h0m7-6h0m-17.4-.6h0m5 4h0m2.4-14.5h0m-5.4 .7h0m-.5 1h0m12.4 17h0m7-14.7h0m-10.3 5.5h0m5-1.6h0m2-9h0m-13.4 4.3h0m7-2.5h0m3.6-5.4h0m-4.3 11.5h0m5.4-9.4h0m1.6 9.6h0m-7.7 9.6h0m14.7-10.4h0" stroke="#3A1880" stroke-width="2.8" stroke-linecap="round" fill="none" stroke-opacity="0.8"/>
<circle cx="1716" cy="1261.5" r="13" fill="#5A2A9A" fill-opacity="0.35" stroke="#F6E8F6" stroke-width="1.3"/>
<path d="M1708.9 1255.2h0m10.6 10.5h0m-5.5-12h0m11.7 3.3h0m-16.5 13h0m14-4h0m.5-1.4h0m-4.5-6h0m-8 9.4h0m-2-12.6h0m.5 9.4h0m5 5.4h0m7.6-9.7h0m-6.6 5.7h0m8-10.5h0m-1 9.3h0" stroke="#3A1880" stroke-width="2.8" stroke-linecap="round" fill="none" stroke-opacity="0.8"/>
<circle cx="1719" cy="1300.5" r="13" fill="#5A2A9A" fill-opacity="0.35" stroke="#F6E8F6" stroke-width="1.3"/>
<path d="M1717.5 1292.4h0m-5.5 7.5h0m16 4.3h0m1-3.6h0m-17 3.5h0m.6-6h0m8.7 8h0m-5-5.3h0m-3.5-2h0m-1.5 3.5h0m2-4h0m14.7-2.7h0m-11.6 14.7h0m1.5-6.6h0m12-3.4h0m-4-8h0m-16 7.3h0m10 6h0" stroke="#3A1880" stroke-width="2.8" stroke-linecap="round" fill="none" stroke-opacity="0.8"/>
<circle cx="1787" cy="1225.5" r="13" fill="#5A2A9A" fill-opacity="0.35" stroke="#F6E8F6" stroke-width="1.3"/>
<path d="M1779.5 1223.5h0m5.5-7.6h0m-5.4 14.3h0m5.6-4h0m-6-6.5h0m1 4.3h0m1.5 2.4h0m5.7-12h0m-4.5 9h0m5.4 3h0m-5-.5h0m-6 5h0m12-13.5h0m-3.4 8h0m1-7h0m-.3 8.6h0m7.3-5h0m-6.4-1h0m2 12h0m4.4 0h0m-8-14.6h0m-2 7.7h0m2.5-.6h0m-2.5-4.4h0m12 1.6h0" stroke="#3A1880" stroke-width="2.8" stroke-linecap="round" fill="none" stroke-opacity="0.8"/>
<path d="M1759.1 1185.1l1 2m-63 108.6l4.7 3m46-64.4l5.4 2m28 81.3l-3 5.6m-110-34.7l-.6 4.3m117.3-105.3l0 5.5m-145.7-4l.3 2.3m16.6 122.6l0 4m30-106l0 4.6m40-11l-1 3m16.4 118.3l-.7 2m-34-45.5l2 2.7m-71.3-61.3l1 4.6m134.7-19.4l1 7m-111 13.6l2 1.5m-35.3 62l2.5 2m137.3-126.7l2 2m-103.3 18.4l.4 3.3m68.6-3l-.5 2.6m22.4-.6l3 4m-154 58.4l1 4m139-2.7l6 .5m45.6-64l4.6 1.7m-79 47.6l4.3 1.7m-64 9.7l-1.6 4m141 61l4 2m-193-128l1 2m140.5 86.6l-2.7 5m18.6-65l-1.4 3m17 91.4l0 6m-157.6-22l3 1.4m-26.3-3.3l0 4m-9.6-111l-.7 5m51.6 121.4l1 2m153-97l3.7 5m-14.3-15.6l-1 3m-200.3-33.3l4.6 1.6m50.6 121.7l1.6 1.7m45.5-121l6.6 0m-90.5 2.6l2.3 1.4m70 87l3.3 3m-87.6-84l4.4 2.5m148.5 126l1.6 2m-85.3-97l-1.7 5m29.6 11.3l0 5.5" stroke="#F6E6F4" stroke-width="2.2" stroke-linecap="round" fill="none" stroke-opacity="0.9" />
<ellipse cx="1656" cy="1215.5" rx="4" ry="10" fill="#E0507C" opacity="0.8"/>
<ellipse cx="1745" cy="1265.5" rx="9" ry="10" fill="#E0507C" opacity="0.8"/>
</g></g>
<g clip-path="url(#t20)"><g filter="url(#soft)">
<rect x="675.5" y="1347.2" width="227.1" height="169.8" fill="#D05CAF" />
<rect x="675.5" y="1347.2" width="227.1" height="169.8" fill="#000" filter="url(#mottle)" opacity="0.2"/>
<path d="M711.3 1467.3l3.3-6m7.6 23l4.7-5m64-89l-1.5-6m17.5-23.5l3-3.7m-85 0l7-5.3m143 102.7l-1.3-5.5m-87.4-80.3l4.6-3.7m-79.6 126l-1-10m67.7-36.7l1-7m-62.7-82l3.5-3.5m129 34l8-6.3m-11.7 101l4-8m-147.3-42.7l3-3.4m180 74.4l1-6m-110-80.3l5-3.6m-102.3-43.4l6.4-9m101.6 76.3l3.5-8.3m-65.6 27.7l3-7.3m-11.6-65.7l1.7-10.3m36.6 79.6l.4-4m-66 41l4-4.5m134.3-17.5l8-7m-70 59l6.3-4.7m104.6-80l1-4.7m-1.3-48.7l-1.7-9.3m-23.5 60.4l2.3-2.5m-119-29.5l1-4m-47 13.7l8-7m149 32.7l.7-10.7m-49.7 50l-1-4.6m68.6 16.3l5.7-5.4m-98.3-31.7l4-4m21.5-48.5l2-2.4m34 120l-1.7-7.5m-9.6-11.3l2-4.6m-56.5 22l3-3m-71.3-142l-1.5-6.5m10 136l2-3m88.7-88.5l1.6-4.5m-86-17.3l1.5-8.5m83.5-15l5.7-8.3m49 134l-2-6.7m-160 3l-.6-8.6m43-5.4l.4-3.4m28.7-62.3l4-3.6m22.5 44l3-2.6m17.5-1.5l6.4-8.6m-70.7 40l3-6.7m-60 25l5-3.7m55.5 34l-.5-3.7m-57.4-26l4-5m121-129.7l3-5.7m-25.6 68l1-4.7m-107 14l.3-8.4m173.6 56l1.4-5m-101.4-33l5-9.4m-72 7.6l3-8.3m179 59l4.5-8m-55 21l4.7-7m-99 17l1.4-7.5m129.6 12.7l2.5-2m-118-107.5l1-4m53.5-32.3l1-10.4m43 75.5l-1-10.6m-9-34l1.4-8.3m-8 15l4.5-3.3m-99 105l-.6-8.3m-12-35l0-6m167-15l2.3-8m-151.5-43l1-5m-20.4 140.5l-2-9.3m171.3-35.5l-1.6-7m-204-10.7l3-4m-8.4-6l-1-5.6m101.6 64l1-4m75.5-8.5l1-3m-138.6-67.6l2-4.4m135 80.3l7.5-6.5m-181.3-36l-1.6-10m166.5 36.7l0-3.5m14-21l3-6m-5-40l0-5.7m-115.3 53l2.6-2m-55-16.7l2.6-4m45.4-71.4l-1.5-7m94 106.4l0-4m56-13l2-8.5m-46.4 6.5l-1.6-9.5m-116.6-74l1-7m92 29l3.7-5.6m-111 121.6l6.6-7.6m111-100l6.4-7.7m-39 123l5-3.6m89.3 8l2-2.5m-137-49.7l4-8m62-70.4l6-4.7m47.3 12l6-4m-29 94.6l4-4m-159-51l-.6-7.5m166.6-2l-.3-3.3m-88 42.7l-2-8m-50-74l5.7-4.7m153 74l-.6-5m-109.5 27.4l5.7-7m48-59.4l1.4-6m-38.7 8.3l2.6-6m-106.5 102l4-8.7m155-9.7l4.7-3.4m-82.3-118.5l4-6.5m39.6 174.4l0-5m35-27l1.3-3.5m-84.3 7l2.3-6m1-27l4-7.4m105.7 27l1-5m-21 11l3.3-2.7m13.7 20.7l-1-5.4m-50-122l3.7-3.5m9.3 29.6l0-4.7m-42 77.4l0-8.5m-37.3-4.3l1-4.5m-46.4-95.6l3.5-5m-6.6 143.5l1.6-2.7m135-44l2-6.6m50.7-30.6l4-7m-140 2l5-6.4m18 36.3l.3-9.3m-100 29l1.4-4.7m128.6-4.5l-1-7m-95.7 43l1-5.5m11-122.6l-.3-4m93 139.5l0-4m-21.5-117.7l2-9m-77 105.4l1.5-3.4m8.6-13l-.7-4.6m75 43.3l3-8m-131.3-78.3l1.3-10m79.3 90l-1.6-6.6m121 3l2-4m3.3-112.6l7.3-5.6m-50.4 82.3l-.3-6m-13.5 29l2-9m-139-55.5l-1-5.5m168.5 84.7l-.4-5.5m-155-10.5l1-4.6m58 41l2-8.3m55.5-59.7l2.4-5.4m-99 9l.6-5.6m-3.6 76l1-4m-37.6-114.7l4-4m140.6 7.6l3.4-5.7m13.5 56l1-5m-34.6 57l3.7-6m-63.6 14.6l3-3m75-14.3l6-9m40-83l4.7-3.4m-115.5 128.7l-.3-6m55.7-112l.6-9m-6.5 88l6.4-7.4m58 19.4l5.4-4m-49.7-48l6.6-5m-65 30l.4-4m-10-86l-.7-3.5m16.7 112l-1.6-7.7m-77.4-36l.6-6.3m135-9l2-8.5m-139-2.6l5.4-8m192-9l2.7-5m-64 105l-.6-5.5m51-77l5-8m-151 80l-1.5-5.5" stroke="#F2B2E2" stroke-width="0.9" stroke-linecap="round" fill="none" stroke-opacity="0.8" />
<path d="M714 1406.4l0-.3m143-28l.5-1.4m10 114l.4-.7m-20.4-125l.5-1m-115 21.4l.6-1.7m135 90l.5-.6m-120.6-73l.6-2m151-35l1-1.6m-121 103l.3-.3m34 49.6l1.3-1.7m-120.5-43l.7-2m18-26l0-1.7m125-85.7l.3-.6m-19.7 102l0-2m74-30.5l.5-1m-81.3-5.7l.5-1.7m-95-15.6l.5-.7m-27 104l.3-1.3m55-108l0-1m-44.4 46.3l0-.4m19.3-48.6l0-1m142.7 71.5l.6-1.6m-34.7-56l.7-1.5m-35 75l1-2m-61.7-12l1-1m143.6-96l.4-.6m-35.3 56l.3-1m-111.5 75.4l.7-1.3m-32.4-95l.5-.7m94.5 68.6l.5-1m97 15l0-1m-124-15.4l.4-.7m61-41.6l0-1m-71.4-38l1-1.7m124 74l.7-1m-78 45.4l0-1m-48-92l.3-.5m68.5 104l0-1m-77.6-25.5l.3-1.7m-37-32.3l1-1.3m-21 62l1-1m174-59l0-1m-9-22l.3-.7m-143 21.3l.4-1m48.5 64.5l.4-1.5m-45-74.3l0-.5m29.5-66l.4-1.4m47.5 115l0-.3m39.7-65l1-2m-46.4-23.7l.4-1m-46.6-24l.5-1.3m111 112l1-1m-91.5-18.3l0-2m66.6-62l.3-1m19 28.5l1-2m-4.7-5.7l.5-2m28-30l.5-2m-34 17.7l1-2m-151 .4l1-2m192 35l1-2m-140-39l.5-1.6m-43 54.7l.3-.5m109.5-2l1-1m-31.7 63.4l0-.5m70-83.6l1-1.7m-70.4 4l0-.7m-64.7-41l0-.4m88 73l1-1.3m73.4-52l0-1m-148.6 119.7l1-1m126.4-124l.3-1m-110.4 23l.6-1.4m-72.4 29.6l0-2m118.4 10l.4-1.5m35.3 55l.3-1m-18.7-143.3l.4-.7m20 14.3l.4-.5m-154 23l.4-1m109 89l.4-.6m38-.7l.6-1m-50 1.5l.4-1m35.6 12.5l0-1.5m-94-115l.6-1.5m95 134l0-1m-36-115l0-.4m-50-35.7l1-1.4m-9 149l.4-.7m161.3-10.3l.4-2m-183-82.7l.4-2m37.5 8.3l.3-2m-26 79l0-1m155.6-96l.6-1.7m-68 25l.6-1m-95.6-66l.6-1m144.5 26l.6-1m-62.3 114l.4-1m26.6-113.7l.7-1m-137 57.3l1.5-1.7m85.5-35l.5-.7m-92.4-2l.5-1.5m10.5 16l.5-1m24 64.4l.5-1.5m69 18.7l.6-2m73.4-13.5l.5-1.4m-99-107l1-1.3m87 133l1-2m-67 22l.3-1m21.6-26l.7-1.6m-45-22.3l.6-1m-80-2.5l0-1m21 19l.4-1.4m-10-91.7l1-2m-1 70l.4-1m1-99l0-2m93 102l0-1.6m92-68l1-1.6m20 63l.3-1m-48-41.6l.5-1.4m46.6 81l0-.6m-142.5-65l.4-.6m45 10.4l.4-1.5m-28.4 90.3l0-2m46-85.6l0-1.5m37-17l.5-1m-161 86.5l.3-1m150.7 3.6l.6-1m19-120l0-1.3m4 97l.7-1.7m-117-45.4l0-1m-33.6 49.7l0-2m90.3-46.3l0-1m-8.5-50l.6-.6m-29.5 24.4l0-1m94.4-34.5l.3-1.4m-84.5 43.3l0-.4m-39 19.3l.6-1m24 38l0-1.4m-50-5l.6-1.3m152.6 31l.4-.7m17.5-58l.3-1m-8 86.4l.7-.7m-181-125l.5-1.3m-12.6-32.5l.6-1m-6 79l.4-2m109.5 26l.3-.5m-71 30l.4-1m31-26.7l1-1.7m126 61.3l0-.4m-20.3-122l.5-1m32.3 33.6l0-.7m-16 64l.3-2m-120-13l.6-1.7m25.7-115.3l.7-2m-18 135l0-.7m-12-99l.7-2m51.7 92l0-1m-2.3-63l0-2m-102 47.7l.7-.7m31-53.6l1-2m-29-13l.5-1m117.4 80.7l0-.4m20.4 33.7l.5-1m-148.4-64.7l0-1m-15-1l.4-1m41.7-74.5l0-.6m171-4.7l.6-1m-89.7 47l1-1.7m-42 22l.6 0m105 32l.7-1m-64-87.7l0-1m-83.4 0l.5-1m116.5 52.4l.5-.6m-52 5.7l.4-.5m7 6l.5-1m-1 90.7l.3-2m95.3-88.6l0-1m-1.3-74l1-1.4m-191.3 102l0-.5m91-50.3l.6-1m-66 105.7l0-2m11.6-2l.5-1m-15.7-5.7l1-2m83.3 13l1-1m-57.3-52.4l.5-2m47.5 46l1-1.5m-79.3-88l0-1m-10.4-5l.3-.6m171 105l0-1m-141.6-76.4l1-2m-61.5-61l0-.4m196.3 17.4l.7-1m-65.4 108l.6-.7m-33-5l0-1m92 16.4l.6-1m-119-129.7l0-.4m-36.4-12l.7-2.3m-26 40l.4-1.5m64-11.4l.7-2m-44-16.5l.7-2m-24.4 14.4l1-1.6m87.6-14.6l0-.5m-85 2.4l0-.4m90.3 129l0-1m71.7-42l0-1m45 43l.4 0m-211-52l0-2m52.4 9.4l.7-1m106-65l.5-1.6m-67.5 6.4l.5-1m99.7 22.5l.3-.4m-54 107.6l.6-1m68.4 3.3l.4-.7m-201-58.7l0-.4m105 56.7l0-2m91 1l.3-.7m-1.3 4.6l0-.7m-54.7-145l0-.6m-30.3 46.6l.3-.5m71.4 70.7l.4-1.4m-50-110.5l.6-1m-37 123.5l0-1m-109-18l.4-1.6m154.4 45l0-1.3m16-91l0-1.7m1.3 1.5l0-.5m-87.7 67l.5-2m-11.6-59l1-2m109-7.7l0-.5m-69 67.3l0-1m-106.6-59.7l1-2m135.4 79.4l0-1m7-140.5l.5-1.4m-152.4 22.7l.3-.6m137 38l.6-2m-55 78.3l1-1m-67-91l.3-.4m109.4-21.3l1-1.4m67 67.5l0-2m-71 60l.4-.6m-30.5-63l.7-1.4" stroke="#46207E" stroke-width="1.7" stroke-linecap="round" fill="none" stroke-opacity="0.8" />
<path d="M870.5 1438.1h0m-148 54h0m114-117.4h0m-56.3 116.3h0m26-122.3h0m65 102h0m-150.3-6h0m150-20h0m19-6h0m-210.7 20h0m184 43.3h0m-16.7 4.3h0m11-78.6h0m-167.4-51.4h0m-2.5 127h0m170.7-3h0m-7-76h0m-48-72h0m-90.7 63h0m-24-13.6h0m104.7-26.4h0m-77-12.7h0m63 126h0m-2-22h0m60.4 16.5h0m18-51h0m-169-55.6h0m52.4 28.3h0m72 27h0m-69.7-55.5h0m101.3 139h0m-8-143.5h0m-1.7 110.6h0m-35.4-28h0m73-26h0m-35-52h0m29 67.6h0m-145 9h0m142.6-30h0m-115.4 44.5h0m153.7 42h0m-154.3-80h0m15-57.4h0m38 24.3h0m-15 91h0m17.4 27h0m-79.4-135h0m-31 87.3h0m49.7-82h0m79 129.3h0m26-5h0m40.4-72.3h0m-160.3 40h0m-.5-117h0m35 112.5h0m58.5-55h0m-114-40h0m106.7 54h0m-13 41.6h0m7 21h0m78-58.5h0m-126-2.5h0m-25-55h0m106 44.5h0m-157-8h0m67-56h0m-67 93h0m176 37.7h0m-47-103h0m9.4 7.4h0m-91.7 10h0m-21.5-36.5h0m191.5-4.6h0m-3.3 102h0m-51.5-97.4h0m-14 15h0m-39 42.4h0m89-59.3h0m-201.5 81h0m116.6 11h0m-99-46.6h0m141.4 37h0m-89.4-98h0m-61.3 148.5h0m52-138h0m4 23.7h0m56.4-27h0m-.7 100h0m-1-8h0m-66-34.7h0m114-18h0m17.3-16h0m-78.3 119h0m42-104.4h0m-67.3 1h0m87 14h0m19 55.4h0m-1.3-27.7h0m-123.5 26.4h0m34.6-107h0m3 23h0m-84.6 13h0m198.5 68h0m-117.4-14.6h0m-10.5-3.3h0m-28.4 49h0m120-69h0m-53.5-12h0m48.3 77.6h0m35-122h0" stroke="#7C4CB6" stroke-width="2.4" stroke-linecap="round" fill="none" stroke-opacity="0.6"/>
</g></g>
<g clip-path="url(#t21)"><g filter="url(#soft)">
<rect x="902.6" y="1347.2" width="226.8" height="169.8" fill="#B858B4" />
<rect x="902.6" y="1347.2" width="226.8" height="169.8" fill="#000" filter="url(#mottle)" opacity="0.2"/>
<rect x="902.6" y="1347.2" width="226.8" height="169.8" fill="#000" filter="url(#cells)" opacity="0.25"/>
<path d="M906.4 1350.4h0m53.3 0h0m87-1h0m-122 4h0m10.6 7.3h0m13-5.6h0m9.3-.7h0m10 5.4h0m15-6.3h0m8.4 4.6h0m10 1h0m16.7-1.6h0m20-2.7h0m10 0h0m15.6 2.3h0m10.5 2.3h0m13.5-4.6h0m7.4 5h0m14-3.6h0m18.7-2.4h0m-210 15h0m7.7 1.5h0m16.4-1h0m12.5-5h0m20.6 6h0m14.5-4h0m9.4 2.5h0m9.4 1.7h0m16-2h0m11 1h0m10-4h0m8.6-.4h0m23-1.6h0m33.7 3.4h0m13.3-1h0m-212 9h0m8.6 0h0m13-.6h0m9.4 6.3h0m17-6.5h0m9 5h0m12-5.3h0m10 2.3h0m16 1.5h0m8 .4h0m8.5 .4h0m17 0h0m8.3-3h0m9-1.5h0m12.5 3h0m16-2h0m22-1.4h0m-203 16.5h0m12.7-.7h0m24.7-4.4h0m9.6 3.4h0m21-1h0m12 2h0m12 1h0m23-6h0m14-.7h0m10.6 2h0m12.7-1.4h0m11 4.3h0m8-4.3h0m12.6 4h0m10.6-5h0m22.3 7h0m-199 8h0m12.3-3.3h0m8.6 4.7h0m22-.3h0m15 .7h0m12.3-4.3h0m20 3.4h0m13-5.6h0m11 4h0m10 2.4h0m17-3h0m11.5 1.4h0m9-4h0m22 2h0m9 1.5h0m-199.6 11.5h0m12.6-5h0m45 4h0m14.5-2.4h0m6.7 .7h0m12.6-2h0m12.7-1h0m15 1.7h0m11.7 3.3h0m5 1h0m17.4-2.5h0m12-.4h0m5-2.4h0m14 5h0m15-5h0m8-.3h0m-212 15h0m11-4h0m9.7 .3h0m12.3 3.3h0m12.4 0h0m38.6-4h0m18 5.6h0m37-6h0m10.3 4.6h0m8.5-.4h0m26.6-2h0m11.7-2h0m11.5 .5h0m-200.7 13h0m12-1h0m11-3.6h0m21.4 .6h0m12 5.3h0m9-5.3h0m14.4 5.6h0m10.7-4.6h0m14.3-1h0m23.6 5.5h0m30-.6h0m22 0h0m18 0h0m7.3 0h0m-213 10.3h0m12-2h0m14-3.4h0m8.3 3h0m36 1.4h0m11.3 2h0m12-2.7h0m57.3-1.6h0m7.4 2h0m-150 12.4h0m11.6-3.4h0m7 2h0m11.5-5h0m24.3 5.6h0m39.5-.4h0m19.7-.7h0m9-1h0m12-3h0m13 4.6h0m12-3.3h0m9 0h0m13-.6h0m11-.3h0m11 3.3h0m-199.7 10h0m13.7-1.7h0m7.3-3h0m13.7 5h0m23.7-1h0m9-3.6h0m9.7 1.5h0m30 4h0m8.7-3h0m21-2h0m16 3.4h0m7.5-1.7h0m9.4 1.3h0m16.6-.5h0m11 1.7h0m-213 11.3h0m13.6-5h0m8-1.4h0m15 .4h0m7.5 4h0m11.5-3.5h0m12 .4h0m11.4 3.6h0m10-2h0m14 .7h0m13 2.6h0m12.5-5.3h0m33.7 2.3h0m11-3.3h0m10 3h0m13.3-2.5h0m-192 16h0m14-3.3h0m12 2h0m5-1h0m17-4h0m21 3.4h0m25.6-1.3h0m8.6 2h0m10-1.5h0m13 3.3h0m14-5h0m23.6 2.5h0m21.3 2.7h0m14 .7h0m5-2h0m-207 10h0m6-1h0m17.6-2.4h0m7 .7h0m11.5-2h0m13.3 1h0m12 2h0m12.6 2h0m11.6-4.5h0m11 4.6h0m18 0h0m18-5h0m6 2h0m27.5 3.5h0m6.5 .5h0m16-5.6h0m-189 9h0m18.6 6h0m21-.5h0m13-2.5h0m13.4-1h0m10 1h0m22 3h0m13 1h0m15.6-6h0m11 6h0m8.6-3.6h0m21.7 2h0m11-2.7h0m10-.5h0m17.5-1.4h0m-212.7 14h0m13-3h0m22.6 1h0m23 2.6h0m7-1h0m15 2.3h0m7-1.5h0m22.3-1.3h0m26.7-3h0m11 3h0m13.5 1h0m18-1h0m15.4 1h0m6.6-1h0m12.7-.4h0m-200 7h0m95.5-1h0m35.4 1h0m7.6 1.5h0m12.6-.7h0m25.7-1.4h0" stroke="#6A4AB4" stroke-width="5" stroke-linecap="round" fill="none" stroke-opacity="0.75"/>
<path d="M958.3 1353.6h0m24.5-1h0m18.5 6.7h0m37-5h0m-40.5 15h0m9.3 2h0m115.7-5h0m-181 15.3h0m17.6-7.3h0m9 4h0m22.7-2.3h0m24 1h0m25 1h0m18-4.4h0m12 3.4h0m-97.4 11h0m72-2h0m31.7-1.3h0m13 3.6h0m-155 5.6h0m31.5 4.6h0m15 2h0m33-1h0m-85.7 6h0m78.7-2h0m13 0h0m66 1.7h0m-175 14.4h0m32 0h0m175.4-4h0m-199.6 12h0m21-4h0m22.3 1h0m34.6 5.6h0m102.3-2h0m-119 9h0m12.7 3h0m68-3.5h0m-122.6 13h0m11.6-5h0m24.4 4h0m67.5-2.4h0m24.7 2h0m12.6-3h0m8.4 0h0m-150.4 10h0m7-2h0m14.5 4.4h0m80-1h0m70.5 0h0m-202.6 13h0m22.6-7h0m33.5 2h0m23.6 2.7h0m84-1.5h0m-145 10h0m12.7 2h0m87.5-1.7h0m51 0h0m35 4.7h0m-161 2.3h0m130.4 5.3h0m22.5-4h0m-189 9.5h0m39.3 3.6h0m99 3h0m9-3.3h0m20 0h0m11.7-1h0m10-.7h0m-194.6 12.7h0m58-1h0m29 1h0m23-1h0m36.6 .3h0m54-1.6h0m-187.3 6.7h0m96-.6h0m81 1h0" stroke="#3C1070" stroke-width="2.4" stroke-linecap="round" fill="none" stroke-opacity="0.75"/>
<path transform="translate(902.6,1347.2)" d="M208 0 L227 0 L227 44 C218 40 210 30 208 18 Z" fill="#F1EEF1" stroke="#E2ACE0" stroke-width="1.2"/>
<ellipse cx="1024.6" cy="1435.2" rx="12" ry="9" fill="#F1EEF1"/>
<ellipse cx="1045.6" cy="1464.2" rx="6" ry="12" fill="#F1EEF1" transform="rotate(15,1045.6,1464.2)"/>
<path transform="translate(902.6,1347.2)" d="M180 50 C195 44 215 48 227 56 L227 60 C212 54 196 52 182 54 Z" fill="#F1EEF1" stroke="#E2ACE0" stroke-width="1.2"/>
</g></g>
<g clip-path="url(#t22)"><g filter="url(#soft)">
<rect x="1129.4" y="1347.2" width="227.4" height="169.8" fill="#8A4CB2" />
<ellipse cx="1242.4" cy="1431.2" rx="113" ry="84" fill="#2A1686" opacity="0.35" filter="url(#blur8)"/>
<ellipse cx="1189.4" cy="1427.2" rx="62" ry="75" fill="#2A1686" opacity="0.7" filter="url(#blur8)"/>
<ellipse cx="1307.4" cy="1402.2" rx="55" ry="60" fill="#2A1686" opacity="0.7" filter="url(#blur8)"/>
<rect x="1129.4" y="1347.2" width="227.4" height="169.8" fill="#000" filter="url(#spk_light)"/>
<rect x="1129.4" y="1347.2" width="227.4" height="169.8" fill="#000" filter="url(#spk_dark)"/>
<path d="M1338.9 1507.4l2 .5m-9.3-145.7l-2 1m-66 56l-.7-.4m-13-48.7l-1.4 1.3m-75 51.4l-1.5 1m8 1l0 .5m-44-62.7l-1-1.7m155.4 58l1.7 .6m-46 52l-1.5 2m-33.3-115.6l1.7-1.3m94 90.5l-2 .4m-26.3 5l-1.4 1m72-44.4l0 1m-47.6 0l0 1m-42.4 48l1.3 .3m-59.3-97l.3-.5m35.7 107l-1.5-2m27.7-43.6l1.5-1m10-43.6l0-.7m-104.4 24.5l.5 0m143-21.5l1.6 0m-159.5-16.3l-.6 .7m-16.4 29l1 1.7m119.3 90l-.7 1.4m-54-77.3l2 2m-11.4-13l-1.5-.3m112 41.4l1 1.3m-118.3-75.4l-2-.4m120.5 101l1 1m9-79.7l0-1m-63.7 115.3l-.4-2m11 6.4l-.7 0m-95 5l1 .4m-26.3-94l-.3-1m-7 67l-1 .5m150.6 27l0-1.4m26.5-3l1.3 .4m-61.3 6.3l2 0m45.4-107.7l.5-.3m50.3 5.5l.5 1.6m-176.5-52l2 .5m59.4 19.6l-.3-2m105.7 128.5l1.4-.4m-163-141.7l-.6-2m71 13l-2-.4m5.3 108.4l2 1m-67.5-66.6l1 .6m145 3l-1-1m-124.7 76.3l.4-1.7m105.7 2l.4 .3m-29-81l.4-1.6m1 71.5l-1.7 0m-10.4-99l-1.4 .4m-76 28l-1 .6m108 24.3l1 .4m-50.7 45l0-1.4m-99.6-31.6l-.6 2m51-14l-1-1m114.5-51l0 0m26-28.7l1.3-1m-89 78.7l2-2m-75.6 5l1 .5m52-19l1.7-1.3m54-73.4l1 2m-77.7 129l.7-1.4m-53.7 15l1.7 2m12-33l-1.4 1.3m-5.3-40l-1.7-2m58-60l1 1m61.4 66l2 .5m-4.4 9.4l0-1m-30-1l.3 2m-58.5 60.3l.6 1.5m-48-5l-1.4 .7m176.3-64.5l1-1.7m-20.5 31l1.3-1m-40-63l-1-1.6m-63.4 11.4l.7-1.4m-4.6 104l2-2m7-94l1 1m16.5 71l0 0m13-44.3l1.3 .6m-51.3-47l-1.5 1.3m-36-11.3l-.6 .3m40 106l0 2m54-126.3l-.6 1.4m-8.6 .4l-1.7-.7m25 54.6l.7 .4m65-31l1.5-1.3m-3-1l1 1.4" stroke="#F4E2FA" stroke-width="1" stroke-linecap="round" fill="none" stroke-opacity="0.8" />
</g></g>
<g clip-path="url(#t23)"><g filter="url(#soft)">
<rect x="1356.8" y="1347.2" width="228.2" height="169.8" fill="#EDEBEE" />
<ellipse cx="1378.8" cy="1407.2" rx="20" ry="15" fill="#D870B8"/>
<path d="M1361.7 1404.3h0m9.7-3.4h0m9 4h0m0-12.6h0m-18.4 18.7h0m13.5-2.6h0m-7 11.5h0m6.7-15.6h0m15-3h0m-11-7h0m-18 16h0m23-10.3h0m-3.4 10.5h0m-14-1.7h0m19.7-1.5h0m-12-8.6h0m3.7 1h0" stroke="#4E2496" stroke-width="2.8" stroke-linecap="round" fill="none" stroke-opacity="0.85"/>
<ellipse cx="1376.8" cy="1437.2" rx="22" ry="30" fill="#B060B8"/>
<path d="M1377.5 1409.9h0m-7.5 4h0m23.6 26h0m-11.7-23.5h0m-8.4 2.6h0m-15 6.7h0m29.7-4.5h0m-14.6 0h0m5.5 2.6h0m3.4 12.7h0m16 3h0m-37.6 2h0m19.4-2h0m9-16h0m-21.3-12h0m5.7 29h0m-8-28.3h0m11.4 35h0m4-6.7h0m-2-3.7h0m-7.5-2.3h0m15.4 19h0m-14.4-25h0m8.6 18.4h0m4-17h0m-8-17.3h0m-17 10.3h0m14 41h0m-15.7-31h0m33 4.4h0m-10 28.5h0m12-43h0m-10 32h0m5-8h0m-26-27.5h0m3.3 37.6h0m21.7-12.7h0" stroke="#4E2496" stroke-width="2.8" stroke-linecap="round" fill="none" stroke-opacity="0.85"/>
<defs><path id="lw3" d="M1609.3 1512l3-4.7m0 12.4l-1.3-1.4m-43.5-100.7l-16 18.5m16-18.5l-15-14m23-93l-1.5 5m0 0l-12.7-2m-11 2.7l10-5.4m-213 138l2.6-12.4m-5.3-7l-5.6 5.5m2.6 12l3 3m-8.7 85l8 4.4m-8-4.6l-5.5 9.6m-.4 4.5l.4-4.5m5 8l5.7-2m-15.4-.4l4.3-1m-5.6-10.6l6 6m7.5-20.3l-3-9.4m0 0l-11.6-1.7m7.3 15.3l-9-11.4m9 11.4l3 .4m-12-12l1.7-3.7m1.3 19l6-3.7m5.3 6.5l-2.5-6m-10-16l0 0m0 0l8.4-12m9 4.3l-1.3-2.6m-7.7-1.5l7.7 1.5m1 2.6l6.7 4.3m-9.3 14.7l7.4-1m2-13.7l3.7 6m8-67.6l3 8.3m-.6-11.7l19 11.7m0 0l-5.4 3.7m119.6 2.6l-2.4-1m-5.5-8l4.6-8.7m10 16l4.7-9m18-49.5l4 10m17.7-12.4l-8.6 14m20-35.5l27-8.3m4.4 11.5l-4-11.5m4 11.5l-7 5m0 0l-18.5-4.7m-14 1l0 14.4m0-14l-11-5m11 19l-3.3 2.6m-27 0l5.3 2.4m14-24l-19.4 20m41 66.3l-5 10.7m-3-29l-8 27m73.6-22l.5-1.4m5.7-7l-6.5-9m1 16l-13-5.7m-55-128l1 5m11.3 1l-1-8.5m-10 7.3l9 3m0 0l-1.5 8m-10 1.6l-2-8m2 8l6 1.5m0 0l4-3.3m3.5-9.5l9.7 1m-3 12l-10-3.5m10 3.6l3.4-1.6m-.4-10.4l.4 10.4m-.4-10.4l2-2m-17.5 57l.7 0m-.7 0l2-12.3m25.5 4l-13-13m-12.3 9l12.3-9m-14-14.5l2 3m-2-3l-2-7.5m10 10l-6 .5m-12.6-.6l1 8m-1-8l-5-6.4m0 0l-2.7 0m-5.5 17.4l-2-7m23.4 7l4.4-10.4m-4.4 10.3l-7.4-3m1.4-19.3l-7.3 5m-3 39.7l-.4 0m-6-18l1.3-4.3m40.7-34.4l15.3 3m-17 9l7.6 4m0 0l7.5-7m-1 95.5l-12 1.7m12-1.7l-1.7-8m0 0l-12.4-1m2 10.7l-2-10.5m-4.6 .4l4-.7m-20 19l-2.4 6m10 2l12-2.6m-12 2.5l-7.7 0m19.6-2.5l3-13.6m19.6 1l6-13m-12 13.5l-1.6-3m13.4-10.4l-8.7-5m19 3l.3-1m0 0l5-9.5m-126.5-76.5l-5.6-3.4m-2.6 .3l2.6-.3m1 15l-9.6 2.7m-115.3 106.7l-12 1m-2.5 1.4l0 0m17.6 6l-4.6 6m-13-12l13 12m-16 36.5l-2 4m2-4l5.6-5m0 15.7l9.6-9.6m-9.6-6.3l9.6 6.3m-17.4-15l-4 3.7m12 5l1.3-8m-10.4-14l11.7 13m-17-8.3l6.4 8.4m9.3 1l1.3-1.3m1 31.3l3 0m7.4-10.4l-3-5.3m-3 15l-1.4 1m13.6-25l4 14.7m-4-15l-2-.7m-4 15.3l9 2m0 0l1-1.6m-13.4-5.7l7.3-10m-40.4 1l-7.5-18.3m8.4 17.4l5-13.4m0 0l-10-6.3m3 22l1-1.4m10.6-2.4l-9.6 1.5m7-14l-2 .6m4.6-16.6l-13.6 2.7m0 0l-1 7.6m18.4-1l-1 2.4m-16.4-9l-5-8m65.6 37l-10-1.5m10 1.6l1 1.4m0 0l-6.4 10.6m124.4-43l5 4m-.5-13l7-5m0 0l3 15.4m-111-12.4l12-5m5.7 9.5l-1-4m1 4l-1.6 4.6m-13-.4l10 2.3m3-2l-3 2m-1.3-16l5 5.6m147-61.6l11.3 7.5m-11.5-7.5l4.6 14.5m0 0l.3 0m7.6-3l-1-4m-17-14.5l5.5 7m-18 10l-1.7-1.6m1.7 2l22.6 4m-22.6-4l2 4.4m19 13.3l2-13.5m-36-25.3l-20-.7m-2-17l16.4-.3m-16.5 .5l-1.5 2m3.4 15l-3.4-15m4.6 36l-5-4.5m4-16.7l-5.4 3m-21 64.3l0-3.7m24 3l-2 2.6m-22-5.6l5.5-3m43 2.5l-8-.6m8 .6l.7 .4m0 0l-8.6 25.5m0-26.5l-12 24.6m0 0l2.3 4.4m6-56.5l-8.7 6.4m17.7-5l2.4 26.7m-20-21.7l12 21m0 0l.4 0m17 2l-8.5-1m11 3l.4 2.4m-8 27l-5 2.7m0 0l-7-9.5m-17-22.4l3-2m-2 20l4 2.5m-13.5 .4l2 7m0 0l6 2.4m6-1.7l2-3.7m30.5 33l6.3 4.7m-6.3-4.7l-1 0m7.3 4.7l-2.4 10m-11 .6l11-1m-11 1l-.6-10m6.5-5l-6.5 5m12.6-16.3l10 1m-6.4 14.6l6.4-15m-13-6l3 5.4m-1-11l10-1m2 5.4l-.5 7m-87 63.4l8.5-5.5m0 0l1.4 0m102.5-120.3l5 2.3m7.5-14.3l1 9m0 0l-8.6 5.3m26.3-9.4l-8 12m-10.7-17l3.5-3m-2.5 12l5.6 5.7m-10.4 13l-1.4-6m-1.6-2l1.6 2m-1.6-2l-17.3 5.3m17 7.7l-9 2.6m-5-4.7l-3.5-5m3.6 5l4.5 4.7m0 0l.3 0m-8-10.3l-.4 .7m35.7 9l-9 5.5m0 0l-9-7.5m5.6-5.4l-2.5 .5m14.6-10.7l0 0m-4-2.4l-12 7m-13.5-9.3l-5.4 12.6m-50.7-112l1.7 .6m7-7l-3-11.3m-9.4 5.6l5-5.4m6 26.4l-5.6-8.3m-2 18.7l-5.7-3m0-14l6-2m-11.4-11l-1 .4m1-.5l7.7-1.3m-2.4 14.3l-6.6-2m28-4.3l-6.6-2m2-15l-5 3.4m48.3-1.6l4.7 12.5m-1 1.4l.7-.5m.3-1l10-8.4m5.6-7l-3 6.4m-3 .6l3-.6m18 13.6l-7.7-8.4m-7.3-11.7l15 1.3m-12.6 11l-5-6m5 6l5-.6m-121.6-11l-6 4m-6-4l6 4m-5 11.6l-3.5-.7m-4.5-14.3l4.5 14.3m38.6 37.6l-3-13.5m1.5 15.3l-11-3m0-9l9.5-3.3m-24-20.3l3 .4m1 20.5l-8.6-9m9.6 8.6l5-13m27 11.6l-12-.5m-1 1.7l1-1.7m-22-37.4l8.6 6m-8.6 13l6.5-7.5m2-5.3l-2 5.3m21 0l-8.3-2.5m-4-5l4 5m80 94l-.7-5m8-4.5l-8 4.3m-9-5.5l6 2m-22-57.5l8 6m7.5-7.4l-7.5 7.5m0 0l0 1.6m-80.3-5l-1.4 2m12 10l-4 3.4m3.6-12.3l-9.4-3.3m-4 8.4l2-6.4m-6 79.6l16.4-2.4m-16.4 2.4l-1.6 5m18-7.4l-5 11.7m-5.6 3l-7-7m-21 36l-.3-15m0 15l-2.7 1m2.7-16l-3-5.4m-7.3 6l6.4-6m-6.4 6l3 13.3m4.5-19.3l-1 0m-78.6 6.3l3.4-1.6m0 0l3 4m-10.3 17.6l6.7 2m-6.7-2l-1-.5m-.7-16l-1 2.3m2 13.7l-2-13.7m13.5 4.6l-4 11.6m-11 12l4-14m7 2.3l0-.3m18.5-13.6l.4 4m-.4-4l-15-6m.5 8l9.6 8m5.3-6l-5.3 6m-13.5 4l12.5 1m1-5l-1 5m39-27.6l1 8m-15-1l8.3 5m5.6-12l4.6-5m6.6 10.6l-2.7 6m-7.4-3.6l7.4 3.4m2.7-6l6.5-1.4m3 13l-11-.3m-2.7 16.4l2-1m-2 1l-11.4-5.4m13.5 4l-.3-14m0 0l-10 1.3m-4.4-7l1.3 3.6m14 1l-1 1m-10 1.4l-3-3.4m0 0l-11.3 8m-2.5-4l2.5 4m-11-17l-6.4 6m15 7l-8.6 1.4m-10.5 9.5l-2-3m12.5-6.5l-1 4.7m-81.7-48l3 5m-3 9l-1.5 2m5.5-23l-4 7m-9 25l6-8.4m16.3-11l-10.5-.4m13 12l-15.7-3m11 14l-12.6-12.4m12.5 12.3l6.7-5.6m0 0l1-1.7m-9 9.6l1.3-2.3m239.6 14l-5 .5m8.7-5.4l-6.3-7.4m-9 7.6l6.5 5m-6.6-5l9-7.7m0 0l0 0m-5 25l13-3m-15-2l4.6-7m10 9l-5-9.6m5.3-5.7l8-14m-8 14l-1.5 1m5-19.6l-11.3 12m-14 5l5 2.6m-10 8l2 5m38-20l13 1m-10 9l11-2.7m-1-6l1 6m-27-1.3l13 7m0 0l.7-.3m0 0l2-2.6m-7.5-18l4.6 8m13.6-3l-.3 4m-12.4 11.6l14.6 10m4.6-11l-6-4.4m12 3l-6 1m-2.4 36l-2.6-12m0 0l2.4-4.4m-2.7 21l-3-1m0 0l-5.3-12m8.6-3.5l-8.6 3.7m-8-20.5l2-5.6m15 10l-.5 3.6m-9-.4l9 .4m-8.5 12.5l-3 0m0 0l-4.4 9m2 2.7l-2-3m17.4 10.5l-10.3 4.3m-5-12l-2.3 11.7m-9.4-38l-6 12m7-12.3l10 9m-17 3.5l.7 2.4m16-6l0 2m0 0l-15 5m1.7-18.4l2.6 2.6m9-5.5l-8 5.4m-17 7.5l10 5m22.7-10.3l-6 6.6m-28.7 15l-4.7-1.3m4.7 1l12.7-8.6m15 9l-11-2.5m0 0l-3-5.5m-226.4-17.4l8 1m2.3-13.5l-7-5m5 18.4l3-5m-8-13.5l-6 3m0 0l0 0m-.7 16.4l3.4-2m-14-13l11.4-1m25 7.3l-11 3m9.5-16.7l-10.6 8m-6-8l-1 3m-13-13l7 16m130.6 87l-8-5.3m-57 0l-4-3m-9.4 7.6l9-7.5m-34.7-43l9.3 7.4m0 0l3.4-16m-44.5 28l5.6 9m10.3-6l-10.3 6m-7 7.3l6.6-2m0 0l.4-5.5m177.6-48l0 12.4m-3-13.5l-6.3 3.7m0 0l0 9m20-19.6l-1.6 5m0 0l-9 3m-8-11.3l5 10m-13.5 2.5l2-11m-2 11l7 1.4m.3-67.7l-.5 0m-1 23l-13-15.6m-3 .3l1-1m0 0l2 .7m-180.7-67.4l1.4 1m-1.7 13l2-4.3m79 81.3l-9.3-7m21-3l0 5m0-5l-13.3-2.6m0 0l-7.7 5.7m0 0l-8 0m-26 1.5l1.4-4m-13-4l9 1m-37.3-23.4l3.5-5m169-37.7l5.5 9m-.5-15.4l6.6 4m0 0l1 10.4m-7 1l7-1m-21.4-10l9 2m5-8.4l0 2m-15-4l5.3-5m-8 23l15.7 5m-18.4-7.7l6.4-7m28.6-6.7l-8 6.4m6 11.7l-5.4-1.3m7 15l-3.4 .5m-13-11l-2 9m15 2l-15-2m-13.6-14l4.3 12m0 0l8 3.3m0 0l1-1m-20 39.7l9 1m1-11l-2.5-2m0 0l-7.4-2.3m0 0l-7.5 5m-5 1l-1.6 9.7m14-1.4l-9.4 10.7m-4.6-9.3l4.6 9.3m2-20l-1 0m77 69.7l-.6-7m0 0l-3-2.5m0 0l-8.5 16.3m0 0l1 1.5m19 .5l-8-9m-11 11.4l0-3m22.4-16l-12 1m-14.3 10l3 3.6m37 12.5l-2.5-5m-1.6 15l-3.7 .7m-1 2l1-2m-1 2l-8 1m0 0l-6.3-8.5m-37-45.6l-10 9m0 0l8 7m-12-25.7l.6 18m0 0l.7 .6m-3.5-19.7l-13 10m16 9.3l-9 1m-10-23.3l-2 11m-11 .7l5 1m0 0l6-2m-14 2l-2.5 7m0 0l-4.4 7m146.7-156.4l7.4-7m0 0l5 12m-7.5 4.3l7.3-4.3m-22.5-9.7l10.3 4.7m8-9l-.6 2m5.6 12l7.6-6m-111-6.6l-4.4 3.5m4-3.5l3.7 12.6m-8.4 .4l6.3 2m2-2.4l-2 2m-13-16l7.4 5m5.5-7.6l-1.3 4m9 9l-5.5 3.6m-14.5 .7l6-.3m114.6 41l-6.5-4.5m0 0l-.3-7.7m-8-22.6l8.5 7m-8.7-7l1-2.3m-130.6 22.4l-5-7.7m10 6.5l-3.3-12m-4.6-3.7l4.6 4m8.3 13.6l-5-2m12-9.7l-15.3-2m-4.6-4l0 0m0 0l-1-.3m-17.4 10l8.7 7m-8.7-7l-.7-4m9.4 11l7.6-7.4m-17-3.7l5.5-3m13.6-2.5l3-2.3m-16-6.7l-11 5m11-5l3-8.3m-14 13l1.3-12.7m28-3.4l-13 2m7 18l-7.3-17.6m-5.6 20.4l.5-11.4m3-8.3l2-.7m0 0l0 0m3.5 119.3l10 12.6m-.3-12l6.7 8.3m-6 3.7l6-3.7m1-19.3l-7.7 11m-11-1l1.3 .4m9.3 13.6l1-1m-11.7-13l-5.3 5.5m26.5 3.7l-3.4 0m-4 18l-5-2.3m-34.7-22.3l.3-1.4m19 4.3l-10-6.4m12-9l-10 1.7m-2 7.3l2-7.3m127 80l-3.5 10m6-11.6l12 8.6m-17.4 4l7.4 1m9-2l1-3m-24-10.6l9.5 3.6m-13.5 6.3l10 3.6m8.4-20.6l-2.6 9m13 8l-1 .7m-10 5l1 9.5m8-11.4l2.4 7.4m-120.6 16l-1.5-3.6m0 0l-11-.3m-27.3 10.6l14-5m-7.3-16l-3-11.3m3 11.4l9.7 1.4m0 0l.4 0m0-.3l-6-15m0 0l-.4-.3m17 24.5l-3.7-6m0 0l-7-3m-3.6 10l3.3-10m22 9.3l1-6m15 3l-4-5.3m0 0l-11 2.3m0 0l-3.5-7m-119 21.7l-9-4m25.6-12.4l-14 .6m14-.6l1 6m-5.3 4l5.3-4m-5.3 4l-9-2.4m0 0l-1-7m20 10l-4.7-4.5m-17-7l2 1.5m-29-166l2.5 4m-1 32l-.7-14.6m63 48.4l-2-3.7m-22.5 1.3l13.7-7m9 5.7l-9-6m-41-29.4l7.6 1.6m0 0l-4.3 14.7m-9.5-11l6.6 11m0 0l3 0m-14-11l4.4 0m0-16l-5 1.4m5-1l6 10.3m-6 19l6.6-3m183-1l-3.6-5.3m-12.6 12.3l-2-6.3m18-19.6l-4.7 8.5m-4-13.4l-8.7 13m0 0l12.7 .4m0 0l1.3 5m-32-8l1 6m-1-6l9.7-4m6 7l-1 7.3m-3.7 1l3.7-1m-13.5 7l10-6m-12.3 4l2-9.5m9.5-17l-.7 7m8.3 7l-2.4 .4m1.6 11l-2.5-4m-24-6l-8.5-1m10.5-8l2 4.3m-10-4.6l-7 6m14 12.4l-1-9m-8 14l-.5-15m17.7-3l-5-1m-7.3-17l-5 6m10.3 0l0 7m-10.3-7l2 6.6m8.3-6.7l9.5-2.5m26 127l3-3.4m-3 3.5l1 5m16-10.3l.7 2m0 0l-10 10.5m-6.6-2l6.4 2m-.3-30l-2.5 2m-10-9l.3 5m0 0l9.7 4m13.4 10.3l2.4-3m-16-7l.3 6m13.3 4l-1 5m-14 2l0-9.4m1.7-1.7l-1.7 1.7m-29-23.6l-3 3.6m0 0l-13-4m0 0l-2 4.6m5 20.3l-8.5 1.5m-4-2l4 2m-5-14.7l8-2.3m0 0l5 2.3m13.7 5.5l-6.6 11m0 0l-6.4-3.3m8.4-16.7l-9 3.5m-15.3-1l-4-7m4 7l2 1m8.7-7l-.6 4.7m16-5.4l-2 4m116.7-87.6l2-1.6m7.5-1l-7.7 1m-.5-51l3.3-8m-8.7-2l-8 7.3m8-7l8.7 2m-16.5 5l3 4.3m-2-20l7 8.6m-13.7 4.3l5.7 3m18-6l-1.5 .7m-29.7 11.4l14 6m0 0l2-8m15.4 7.4l2 3m-4.4-4.7l-13.7 6.3m11 6.3l-11.6-3m0 0l.6-3.3m24 .3l-6-2m6.4-13.4l-8.3 10.5m-5-9l2.6 7.3m-15 2.5l1.3 4m13 10.7l6.3 1.5m-6-1.5l-2.3-4.6m-15 1l3.4-4m-138-18.7l-2.6-6m-10 10l-4-8m0 0l2-6m17.3 12l-2.7-2m-2-8l-.6 2m120 207l11-6.3m-18-3l.6-1m0 0l13-5.3m-24 9l10.5-3m-8.5-12.3l-6.3 8m29.6-7l-1.5 5.3m10 5l-4 4.7m0 0l-1-.4m-28.7-.4l-1 2m18.5 4.5l0 1.6m-24.6-2l6.3-4m30.5-1.3l2.5 2.6m0 0l9 1.4m2.6-12.6l1 1m0 0l-3.7 11.6m-154-1l-5.3 4m0 0l-6.5-4.4m1.5-10l9.7 2.4m10 9.7l-9.5-1.6m3-10l-3.5 2m-20 12l9-4.5m16.7-60l-1 2.5m16.3 4.3l-12 8.7m-8.4 23.7l-2.3 0m-8 11l-.4-1m46.4-9l-3.4 3.5m3.4-3.6l-8-11m4.6 14.6l-10.4-3m5.6-11.4l-7.4 8m-7 14.4l9-11m10 7.6l0-4.6m-15-9l3 2.4m-2.6-14l6-2.4m4 2l0 6.6m-10.6 5.5l-10 1.7m41.4 10.7l-10.7-8m7-11l0 .7m0 0l-7 10.3m-90 14l-8.3 11m-9-12l10.5-4m15.6 11l7.6-5.3m-16-1l8-12.6m7.6 2.5l-7.6-2.5m-8.6 12.7l.5 0m8 13l.5-7m18.7 3l-2.4-4.4m0 0l-8.7-3.7m-9-15l-14 8m14-8l1 1.4m-15 8l0-1.3m-56-216l11.5 4.6m.4-5l-.3 5m0 0l0 0m-4 72.7l2.4-2.5m0 0l-4-13m62 36.7l5 9.6m-5-9.6l6-6.5m.5 0l7.6 7m1 6.6l-1-6.6m-.7 22.4l6-13m-24 15l9.5-15.3m14.4 .5l-4-3m-28.5 11.7l-1-3m0 0l5-15.4m-1.7-7.4l-.3 4m7-14l10 10.5m-17 3.4l2 3.5m137 137.3l3-3m-20-3l3-5.7m0 0l17 8.7m-19-48l-.6 3m1-3l-7.7-8.6m-8 6l8-6m-8 6l13.4 5.7m0 0l1.3 0m0 0l0 0m14 1l-14-1m-5.4-23l-1.3 11.3m-8 6l0 0m-5 14.7l18.4-9m2.3 9l-1-9m1 9l10 5m94-128.6l-3.3-2.7m0 0l5.6-7m0 0l7.3 3m2 5.6l-2-5.5m-8 16l-1.7-9.4m13-14.7l-3.3 8m-8-8l.7 5m-9.7 13l2.7-6m-11 7l-.6-11.6m0 0l5.3 0m5 17.7l-1.4-7m4-6l-1.3 0m-14.3 15.6l3.5-8.6m11-20.5l-6.5 9m-6.6-1l1.3 1m-142.6-15l2.5-9m-2.5 9l-11 1m-3.5-10l3.7 10m27-4.4l0 .7m0-.7l7.5-.3m0 0l8 12.6m0 0l-9 5m0 0l-5.7-2m-11-26.5l-3.5 5.5m12 1.6l2 4m-16.5 3.6l2 2m0 0l14-5m11-4l-3.3 3m8 12.7l0 0m-8 11.3l-1-6m-40.6-56l.4 7.5m-.4-7.5l-8.4-3m-.5 12l-2.6-9.4m-4.6-14.4l10.3 7m0 0l-2.6 4.7m-10.4-11l0 10m0 0l7.3 3.7m31 1.3l-4-3m17.4-8.6l-12-1.3m12.3 111l-6-3m5-15.6l-3.3-.3m-1.5 16l-2.3-9m-3.5 23.5l-5-8.7m12.3-22l-2.7-5m3-4.6l-3 4.4m8.7-21l-6 2m.4 14.6l-.5-15m-9-11l3.5 10.4m5.5 1l-5.5-1m-66.7 17l0-.3m0 0l9-9m.6 0l-.4 0m.4 0l9 11m-8 9l8-9m0 0l0 0m-6.7-13.4l15-3m3.7 57l4.5-7m11 6l-2-2.4m10 9.4l-4.5-6m-3.3-1l3.3 1m10.5-12l-.7 0m-10 12l10-12m155.4 95l5 11m-11 1.3l7 1.5m4-3l-4 3m12-13.6l-1 8.7m4.5 5l-4.5-5m-158.3-23.3l-9-2.3m-2 15.4l-.5-5m0 0l2.6-10.4m-.4-5.5l-1 3.6m1.4 2l-1.5-2m-42-1l9.7 0m-10 0l-6-8.4m16 8l-5-14.6m-11 6.6l3.3-6m-11 26l11.3-5m-9.5-14.4l6-.6m3.5 15l2.5-6.5m-4-20.6l1 6m8.4-11l6 8.3m0 0l-6.7 2m19.7 46l-.4 0m-11.3 1.6l11.3-1.6m9-10l-6.7-7.5m0 0l-8.6 6.6m68 20.3l8-10m-10.3-1l3.6-2m0 0l7 3m8.3 1l-.6 6m.6-6l0 0m0 0l-8.5-1m-117.5-13.6l-7-4.4m6 9l-13.6 3.4m7.5-12.4l-.3 0m-8 11.4l1 1m23.4-11l4.6 7.3m-4.6-7.3l-9 3m-.3 12.3l-.6-8m10.6-9l-.7 1.7m-20 20.4l-3.6-9.4m-8-12.7l15 .4m-9.3 11l1.6 .3m-17.6-217.3l3.3 8m-6 4l6-4m0 0l7.7 1m-34 19.4l5-10m-1 13.7l12.5-3m-11.6-11l4-2m7.6 13l1-1.4m-18.3 16l5-8.6m0 0l-.4-3m7.4-21l-2 5m11-4l5.4 12m0 0l-8 3.6m-13.6 7.4l10 9m4-9.4l-4 9.3m-10.6 6.6l11-4m0 0l-.3-2.6m-1.6 23.3l5 8m-5-8l8-7m-3 15l7.3-8.7m-4.3-6l4 5m-7.6 14l.7-4.4m-12-6.6l7-1.3m-9-8l16.6-1m0 0l.3 2m-3.6 19.4l11 5.6m0 0l7-7.4m0 0l-10-11.3m74 57l-3-8m0 0l-1.4-.5m-12.7-9.5l2-2m10.7 11.5l0-13.5m-10.6 2l10.5-2m-10.5 2l5-11.7m1.5-18.7l1-.3m-2.7 19l4 0m.7-21.7l16.6-7m0 0l-12-7.3m-7 7l7-7m-72.4 38l-4.5 2m7-10.6l-.5 6m-1 1.6l1-1.5m13 20l-1-2.4m-6 9.4l-11 .6m16-10.3l1 .3m-1-.3l-10 0m-6 10.3l-1.6-5m32.4 6.7l-13-9m3-10l-4 7.3m-2.4 19l-3-9.6m-11.6 1.7l.3-1m3-25.3l3 14.7m-2-15.6l12 16m-22 2l4.3 3.3m20-38l0 19.7m0-19.7l5-2m.6 .3l2.7 4.4m0 0l-1 12m-6.3 5.7l-1-.7m16 2l-9-7m-5 11l-1-5.3m168.5 132l-8-7m8 7l8-6m0 0l-4-9m0 0l-.6-.3m-6.5-8l6.5 8m-16.7 2.7l4.5 5.7m0 0l1 0m20.5 3.3l-4.7-2.6m4.7-14l-8.5 5m-17.5 14.7l2.6-3.4m0 0l10 10.3m-10 4.4l9 2m1-6.4l-1 6.3m-27-16l1-.7m0 0l14.4 3.5m1.3 11.7l1-.4m-8.7-25.6l-8 11m19-3l-2 3m20.7 13.4l-11.6 3m-88-227l1-.3m0 0l-4-12.7m-7.3 9l-3.7-5m.4-3l-.4 3m4 20l-3.4-1.4m3.5 1l10-10.7m-14 2l3.6-6m2 18l-1.6-3m11.7-11l-1 0m-20.4-5.6l5.6-3.4m25.3 98l-13.3-.4m1-6l9.7-7m-21.7 37l4-11m11 2.4l-1-1.4m-3-14l-.5 .4m3.3 13.6l-3.3-13.6m167.4 136l-3-2m-3-10l3 10m5 1l-2 1m-17-2l2.3 3m-150.4-33l-14-5.7m15-6.7l-9.4-.3m-5.7 7l-.4 .3m13-23.6l-10.7 8m4 8.3l-4-8.4m-17.4 19.6l-9.7 1.6m12.7 6l-5 4m-9 0l1.3-10m16 6.4l-3.3-.5m12-11.4l-12-5.4m0 0l-3 9.3m-14-5.3l4.3 7m11-13.4l1.5 2.4m-1.6 30l-3.3-9m-10.7 1l1.6-1m85-9.6l10 1m-8 12l8.4-9m-.4-3l.4 3m-16-7l5.4 3m2 13.3l0-.5m13-16.5l-5 5m-82-117l.4 0m0 0l3 5m-71.5-31.3l14.7-6.5m6.6 15l-4.3-14.4m-2.3-.6l2.3 .6m58-7.6l-6.5-8m6.5 8l10.7-3.4m0-.3l-10-11m0 0l-2.3-1m12.5 12.5l0 0m3.7 10l-2.3 4m0 0l-2 .4m5-21.5l-4.6 6.6m.5-14.6l-10.3 3.4m-2.3-12l-2.6 4m0 0l2.4 7m-7 26.7l-7.3-5m5.5-13l4-1m-4 1l-3.5 2.5m0 0l-2 10.4m-8 18.4l0-17m15.6 13.6l2-2.3m0-.4l0 .4m-9.6-12.7l-8 1.5m-40-54l12-.7m4.7-3.5l-5 3.5m56 106.7l-5-14m9 13l3.7-6.7m0 0l-4.6-6m0 0l-8-.3m-3 18.3l8-4.3m-7.3-14.6l2.3 .6m13.3 18.5l-4.6-5.7m11-7l-7 .5m-3 82l-5.6-13.3m-7 16l-2-11.6m9-4.4l-3.5-.7m9.4 14.3l-.4 0m-15.5 8l3-5.4m13-18l-6 2m-11.7 4l2.7 0m3.6-10.5l2 5.6m-81.4-137l9 3.4m0 0l-6 13.3m-.6 6.7l1-6m18 7l-11-7.5m-7 .5l0-.7m25.4 23l5.4-3m12.6 .4l-12.6-.3m33.7-24l-3.3-2m0 0l-13 3m6 11l-2.7-1.3m-8 13.6l3.3-11.4m-16 11l7-12m13.7-1l-4.7 2m-1.4-55l-10 1.3m67.5 76.3l-8 7.4m7.6-10l-16.4 3m8.6 7l-6-1.5m10 8l-4-6.5m13.7-1l-5.5-6.4m6.3-12l-6 4m0 0l-.7 5.6m-17 17l3.3-8.7m-4-7l1.3 1.3m5-18l2.3 5.6m0 0l-8.7 10m-5.3-5l5.3 5m-12.5-10l7 5m11.5-12.6l.5 2m-6 17l-.5-1.4m-64.3-21l3.7-6m14 6l-3.4-6m-10.6 0l10.6 0m27.4-22.5l2-2.4m-8.5 6l-4.4-11m13 5l-5-11m-8 6l2.4-7.5m5.6 1.3l-5.6-1.3m14.4 28.7l-6-14m12.4-1.6l-10.3-.6m-3 16.4l-6-10m0 0l.5-.3m11.4-22.6l-8 5.3m-8-6.3l1 3.5m0 0l-11.5 3.7m-5-12l0 7m0 0l5 5m10.7 5.4l-9 7m0 0l-3.7-5m6.4 13l1 6m-1-6l-13 1m3 13.5l-3-13.5m23.3-4.5l-10.3 3.5m-2.5-8l2.3 8m3.5 9.4l-2.5-3.4m-11 8.6l0 0m-29-15.5l5-2.5m-3.6 16l11-11.5m-13.7-16l3 .6m3 11l-3-11m16.7 29l-2.7-13.5m10.7 0l-8-2.4m0 0l-2.7 2.4m-8.6-31.4l.3 1m0 0l-5 14.5m0 0l-.6 .4m10.6 15.4l3.3 0m8-13l-3.6 2m3.4-2l2-12m-10 8.6l.7-7.3m0 0l3-1.7m13.6 11l-9.3 1.6m-5 10.5l1.6-9m9.7-15.3l-4.4 2m-23 9l13.3-1m5-19l-1.7 10"/></defs>
<use href="#lw3" fill="none" stroke="#DE90D0" stroke-width="2.9" stroke-linecap="round"/>
<use href="#lw3" fill="none" stroke="#5A2AA0" stroke-width="2.6" stroke-linecap="round" stroke-dasharray="0.5 8 0.3 11" stroke-opacity="0.85"/>
<path d="M1395.1 1441.2 1391.6 1447.2 1391.2 1455 1387.3 1458.8 1382.8 1460.4 1378.3 1458.8 1375.5 1453.2 1373.5 1447.5 1371.1 1441.2 1373.8 1435.1 1374.7 1428 1379.2 1427 1382.8 1424.2 1387.4 1423 1390.3 1428.9 1392.8 1434.4Z" fill="#EDEBEE" stroke="#DC8CD0" stroke-width="2.8" stroke-linejoin="round"/>
<path d="M1395.1 1441.2 1391.6 1447.2 1391.2 1455 1387.3 1458.8 1382.8 1460.4 1378.3 1458.8 1375.5 1453.2 1373.5 1447.5 1371.1 1441.2 1373.8 1435.1 1374.7 1428 1379.2 1427 1382.8 1424.2 1387.4 1423 1390.3 1428.9 1392.8 1434.4Z" fill="none" stroke="#5A2AA0" stroke-width="2.8" stroke-linecap="round" stroke-dasharray="0.5 8 0.3 11" stroke-opacity="0.85"/>
<path d="M1583 1442.2 1583.9 1450.3 1571.9 1455.8 1560.9 1461.6 1544.8 1459.3 1530 1460.1 1515.3 1456.9 1509.8 1449.5 1505.2 1442.2 1506 1434.2 1516.1 1427.9 1528.7 1422.7 1544.8 1425 1560.1 1423.8 1571.5 1428.9 1576.1 1435.7Z" fill="#EDEBEE" stroke="#DC8CD0" stroke-width="2.8" stroke-linejoin="round"/>
<path d="M1583 1442.2 1583.9 1450.3 1571.9 1455.8 1560.9 1461.6 1544.8 1459.3 1530 1460.1 1515.3 1456.9 1509.8 1449.5 1505.2 1442.2 1506 1434.2 1516.1 1427.9 1528.7 1422.7 1544.8 1425 1560.1 1423.8 1571.5 1428.9 1576.1 1435.7Z" fill="none" stroke="#5A2AA0" stroke-width="2.8" stroke-linecap="round" stroke-dasharray="0.5 8 0.3 11" stroke-opacity="0.85"/>
<path d="M1567.9 1386.2 1566.4 1396.2 1562.3 1405.1 1556 1411.9 1547.8 1414.6 1539.5 1412.2 1535.3 1402.4 1530.1 1395.7 1527.2 1386.2 1527.6 1375.3 1534.7 1369.2 1540.4 1362.8 1547.8 1361.7 1556.1 1360.2 1562.3 1367.3 1567.1 1375.8Z" fill="#EDEBEE" stroke="#DC8CD0" stroke-width="2.8" stroke-linejoin="round"/>
<path d="M1567.9 1386.2 1566.4 1396.2 1562.3 1405.1 1556 1411.9 1547.8 1414.6 1539.5 1412.2 1535.3 1402.4 1530.1 1395.7 1527.2 1386.2 1527.6 1375.3 1534.7 1369.2 1540.4 1362.8 1547.8 1361.7 1556.1 1360.2 1562.3 1367.3 1567.1 1375.8Z" fill="none" stroke="#5A2AA0" stroke-width="2.8" stroke-linecap="round" stroke-dasharray="0.5 8 0.3 11" stroke-opacity="0.85"/>
<path d="M1372.8 1379.2 1371.3 1383.9 1370.9 1389.8 1367.8 1392 1364.8 1394.6 1362.2 1390.3 1358.8 1389.6 1358.3 1383.9 1357.7 1379.2 1357.7 1374.1 1359 1369 1361.4 1364.9 1364.8 1363.8 1367.6 1367.3 1370.1 1370 1373 1373.3Z" fill="#EDEBEE" stroke="#DC8CD0" stroke-width="2.8" stroke-linejoin="round"/>
<path d="M1372.8 1379.2 1371.3 1383.9 1370.9 1389.8 1367.8 1392 1364.8 1394.6 1362.2 1390.3 1358.8 1389.6 1358.3 1383.9 1357.7 1379.2 1357.7 1374.1 1359 1369 1361.4 1364.9 1364.8 1363.8 1367.6 1367.3 1370.1 1370 1373 1373.3Z" fill="none" stroke="#5A2AA0" stroke-width="2.8" stroke-linecap="round" stroke-dasharray="0.5 8 0.3 11" stroke-opacity="0.85"/>
<ellipse cx="1382.8" cy="1441.2" rx="13" ry="20" fill="#EDEBEE" stroke="#C86EC4" stroke-width="8" transform="rotate(0,1382.8,1441.2)"/>
<ellipse cx="1382.8" cy="1441.2" rx="13" ry="20" fill="none" stroke="#4E2496" stroke-width="3" stroke-dasharray="2 3.5" transform="rotate(0,1382.8,1441.2)"/>
</g></g>
<g clip-path="url(#t24)"><g filter="url(#soft)">
<rect x="1585" y="1347.2" width="227" height="169.8" fill="#C458B0" />
<rect x="1585" y="1347.2" width="227" height="169.8" fill="#000" filter="url(#mottle)" opacity="0.35"/>
<rect x="1585" y="1347.2" width="227" height="169.8" fill="#000" filter="url(#knuc)"/>
<path d="M1670.8 1503.7h0m105-119.6h0m6.3 71h0m-186.6 53h0m48-108.6h0m38 47.5h0m-67.5 16.4h0m159.3-29h0m-8.5 18.7h0m7-74.5h0m-105 48.4h0m-57.4 84.5h0m119.7-147h0m-12 53h0m-88.5-42.3h0m61-15h0m23 74.4h0m-98 60.5h0m-19.5-118h0m175 8h0m-88.7 57h0m2.6-11h0m15.6-2h0m-100.6 56h0m50.6-129h0m28.3 129h0m49.6-60h0m-34-40h0m31.6 22h0m-124.7-37h0m6.4 93h0m177.7 12h0m-149-102h0m164.4 38h0m-176.3 33h0m101.6-5h0m-37.5-40h0m9.6 26h0m42-1.7h0m-73.4 90.3h0m-55-38.7h0m69 8.3h0m65.4-40h0m-22-56.6h0m-133.7 87h0m54.6-107h0m124.4 80.7h0m-175.3-12h0m29.5 58h0m24 12.5h0m77-144.6h0m-46 149h0m66-136h0m-75 20h0m-62 53.5h0m135.6-63h0m-32 108h0m76.4-116h0m-184 124.5h0m56.7-125h0m106 16h0m-18 72h0m-95.7-38.7h0m-.7 58h0m-1-89.5h0m129 .5h0m-95 40h0m-97.6-38.3h0m167 116.5h0m-90.6-84.6h0m-64 2h0m68 2.3h0m-13.7-31.6h0m138.3 77.7h0m-124.5-118.6h0m-69.3 4.4h0m17.7 81.6h0m88-76h0m80 90.7h0m-38 38h0m-89 1h0m149 1h0m-209-9.7h0m211-125h0m-26.7 119h0m-187.4-18h0m163.6 7h0m-158 37h0m3.7-148.6h0m196.5 66.5h0m-173-14.5h0m100-21h0m65.7 68h0m-119-51.7h0m-61 104h0m43.3-8.4h0m52.4-67h0m-82-6h0m-17.3-9h0m116 80h0m-88.5-124.6h0m127.5-8.3h0m-133.4 58h0m52.4 86.4h0m-81.5-20.4h0m89.4-123h0m-50.5 129.3h0m-14-81.5h0m-31 10.7h0m149 42h0m-81-52h0m109 75.5h0m-85.3-138h0m111 48.6h0m-104.3-50h0m-102 11h0m117.4 25h0m56-19.3h0m-31-21h0m-66.6 154.5h0m-23-105.3h0m-51 93.7h0m104-104.5h0m15.4 3h0m73.6 26.4h0m-184.6-35h0m-3 92h0m11-47h0m110.3-65.5h0m11 89.5h0m65 52h0m10.7-69h0m-111-16h0m-79.5 27.5h0m195-15.3h0m-32.7-40h0m-107.6 26.5h0m134-9h0m-47.4-37h0m-.4 54.4h0m52.5-76.6h0m-164.3 146h0m40.3-102h0m96.6 25h0m2 20h0m-184-75h0m181.5 136.4h0m-157 13.6h0m150.5-77h0m-15-1h0m-166-39.5h0m69 101h0m-15-33.5h0m80.7-97h0m-39 72.4h0m60-33h0m59 76h0m-217 12.6h0m132 10h0m-86-28h0m109.6-62.7h0m-81 34h0m140 14h0m-75.4 0h0m45-16.3h0m-29.6-92.5h0m35 155.3h0m-65-65.4h0m80.3-1.3h0m-9.5-3h0m-72.6 62h0m79.6-54h0m-86-7h0m-16.4-31h0m-54.3-13.4h0m-1 109.6h0m41.4-11h0m14.5 20h0m27.5-109.6h0m-38-12.6h0m-21.6 3h0m-11 16.7h0m-57 94h0m176-101.3h0m7-49h0m-50 91h0m59.4 65h0m-61.4-25h0m20-124h0m-132.5 3.7h0m145.4 60h0m-90.4 4.6h0m132-2.6h0m-23.6-19.5h0m-40.6 69h0m-106 22.3h0m3-126.5h0m174 13h0m-121.5 118.5h0m-49.7-47h0m114.3-97.7h0m-135.7 151.6h0m160.4-52.7h0m-44-29.6h0m62.7-78.3h0m-141 44h0m80.6 109.5h0m-88.5-139h0m-1 125h0m84.6-119h0m20 44h0m-146.5-15h0m179 106h0m-104.5-28.7h0m122.5-113h0m-167 38h0m31.5 51.4h0m147.5-74h0m-159.5 53h0m102-61.4h0m-37.6 79.3h0m46.6-44.7h0m-101.4 37.3h0m12.6-21.7h0m90.3 88.3h0m48-134h0m-101 61.7h0m2.3-58h0m-51.3 33h0m-29.4 15.5h0m161 29h0m-169-68.5h0m47 96.5h0m-75.4-124h0m182 46.7h0m-147.7 29.6h0m-32.3 28.7h0m191-109.7h0m-82 146h0m-48-106h0m128.5-49.7h0m-189 100.3h0m176.3-4.6h0m-31.4-26.5h0m61.7-16.4h0m-89.6-24h0m-58.3 74.5h0m-52 23.3h0m38 5.5h0m-23.5-27h0" stroke="#3E1C86" stroke-width="2.6" stroke-linecap="round" fill="none" stroke-opacity="0.8"/>
<circle cx="1660" cy="1447.2" r="9" fill="#5A2A9A" fill-opacity="0.35" stroke="#F6E8F6" stroke-width="1.3"/>
<path d="M1659.9 1442.6h0m5.3 8h0m-7-2.5h0m.5 4h0m2.6-13h0m-6 2.4h0m5-1.3h0m3 3h0m3.4 8h0m-10-7h0" stroke="#3A1880" stroke-width="2.8" stroke-linecap="round" fill="none" stroke-opacity="0.8"/>
<circle cx="1703" cy="1457.2" r="11" fill="#5A2A9A" fill-opacity="0.35" stroke="#F6E8F6" stroke-width="1.3"/>
<path d="M1708.5 1452.4h0m-10 12.7h0m10.4-2h0m-9-6h0m5-9.4h0m4.5 13.5h0m-9.6-6h0m4-1.5h0m2-3h0m-2.4 4.4h0m-1.4-1h0m-1.5 12.5h0m-2-12h0" stroke="#3A1880" stroke-width="2.8" stroke-linecap="round" fill="none" stroke-opacity="0.8"/>
<path d="M1802.9 1472l4.7 0m-9.6-83.4l0 5.3m-93.3 108l6 4m-57-19l1 4.6m28.7-117l5 4.3m18.7-7.5l1.6 4.4m74.5 119l-.7 2.5m-83.7-68l4 5m94-64.4l-.3 4m-120.3-21l2.4 4.7m63.6 14.3l4 2.7m-99 117.6l1.3 1.7m59-117.4l.4 4m81-6l1 5.5m-120.3 104l-1 6.4m52-107l-.4 3m25 12.5l2.4 2.6m-23 89l-.4 2m49-31l4.7 4.7m-127.6 19.4l-2.3 5m14.6-80.3l3.3 2.4m-44.4 77.7l2.4 2m7-45l6 .7m136.3-47.6l6.4 2.5m-100.6 104l.7 5m30.5-149l5.5 1.6m-48.4 35l-1 3m33.7 21.7l-.6 3m-39.4-21.7l4 1.4m88.4 63.7l4 3.3m-62-64.5l0 5m-79.6-6l.7 3.3m105-30l2.4 2m42.7 42.4l5 1m-136.6-72.6l-1 2.3m161 57.5l6 1.6m-71.3 34.3l6.4 2m35.3-17l4.5 5.5m17.5-38l3 3.6m-59 104.4l-.4 3m-124.4-156l2.5 .6m54.6 78l2.3 4m84-89.3l0 2.7m-4.7 137l5 1m-135.3-54l5 2.4" stroke="#F6E6F4" stroke-width="2.2" stroke-linecap="round" fill="none" stroke-opacity="0.9" />
</g></g>
<g clip-path="url(#t30)"><g filter="url(#soft)">
<rect x="675.5" y="1530.5" width="227.1" height="167.7" fill="#D05CAF" />
<rect x="675.5" y="1530.5" width="227.1" height="167.7" fill="#000" filter="url(#mottle)" opacity="0.2"/>
<path d="M674.4 1551l8-3.3m21 4l7.4-5m-4 108l4 0m81-47l10.5-4m-108.6-70.6l6 1.7m16 53.3l9.7-4.4m-6-16l7.5-1.4m163 106l4.3-2m-31.7 29.3l6-6.5m.4-50.7l7.7-5.4m-37.7-74l4.7 0m-161.5 25l5.6-2.5m129.5 83.6l10.3 3m71.7-8l4-2m-88-40l4 0m-104 63.4l8.3-1m-30.3-88l8 2m195-33.5l9-3m-130.7 101l4-.6m-82 34.5l3-3m49-44.3l6.5 1m31 13.6l5-3m22.3-22.6l2.7-3m-114.6 16.6l11 0m132-79.3l11 .7m-103-40l4.7-2.3m-45.3 10l7.4-6.5m-34 100l3.5-2.7m170.5-49.5l5.3-4m-34 39.3l6 1m-46 33l8-2.5m-20.4-93.4l7-6m55.7 138.7l7.7 0m-137.7-13l5-4.3m-11-75.5l5.5-3m123 31l7.6-5m-1 53.3l5-6m30-89.5l8-5.6m-128 26.3l6.3 1m-44.5-30l7.7-4m33 97l3.5-3.4m51.5-45.7l10-2.7m-86-46l4.4-5m1 52.5l2-2.3m13.4 51l9-4.7m38.5-57l5 0m.5 75l5.5-1m-121-43.5l5-3.6m95.4 63.5l7-.4m64.5-104l7.7-3.5m-77.4-11l9-3.7m-79 87l7.3-8m92-61.6l9 3m-151-12.7l10.6-3m11-31.3l3-1.6m57.6 84l4-1.6m-93 46l6.6-2m95.4-19.7l9.3 2m50.5-58l3-2m23.3-45.5l10-2m-132 58.7l10-3.7m74.4 80.5l6-6.5m-60.4-70.6l9 1m96.6 55.3l6.3 1.5m-85.6 7.6l4-1m2.7 14.5l4 1m-53-106l9.3-4.7m1.5 18l5.6-3m52 8l3.6-3m-98.5 99l7-6m-42-15l8-4.6m66-113l7-6.5m17.7 73.4l7.7-3.6m-20-69l5.4-.7m78 82l4 0m-38.7 9.5l10 1.7m-43-4l5 .3m-7.5 33l7.3-1m65.4 33l3-2m-59.7-138.6l6.4 2m-23 111l4 .6m-22.5-106.6l4-1.3m89.5 32l9.4-4m-21 0l8-2.3m-150.4-33l4.3 1m113 101l6-1m27.4 12l7-7m-55-78.6l3-2.3m36 96l4-2m-171-71l3-2m47 71.5l4.6-4.4m46-107l2-2.7m-89.4 137l8.5 1.4m163-107l8.6-5.3m-73.7 104.3l5.7-2.7m20.5-4l4-3m-165.5-53.6l7.3 2m25 21l4 0m169-4.5l5.6-1.5m-176-30.5l4.3-2m103 32l10 3m-49 9l6-2.6m18 48l4.3-4.7m-58-28l6.6 2m-65.7-36l8.4-1m149.6-20.5l9-2m-180-36l10.7-.5m200 6.3l5 1.7m-117-21l6.3-1m46.6 137l6-5.3m-25.4-108l7-7.7m14 66l7.5-6.7m-74-23l6-1m118.4 1l9 0m-14-47.5l9.6-4.7m-81 36l4 .7m-85.5-51l7-.5m4.4 64.6l7.3-4.6m98-7.7l3.4 .6m-48.5-36l5.5-5m-113.7-9l4.5-4m163 41l7-6m-8 123.3l3-3m-93.5 1.7l10-2m-55-86.3l5 0m61 59l8.4 1m63 28.4l5-.7m-144-158l7 1.7m80 136l6 0m-9.3-131l5-3m42 99l6-1m-105.7-44l4-4m121.7 76l6-3.6m-44-99.6l7-3.3m-133.3 124.4l6.7-7.6m101.7-79.6l8.6-5m3.6-28l3.4-1.7m-24.3 38.7l7.6-4m-94-46l10 1m116 69.6l9.7 0m-183.5-41.6l8-4m59 83l9-6m13.3-25.6l9.5-1m21-62l7-2m-119.7 107l9-5m60.5 23l6 0m69-157l5.6-5m-95.5 71l7-.3m63.6 56l4 .5m45.6 1l3-2m-151-107.7l10.6-2m57 35.6l8.3-6.6m6.4-4l6 1.7m94.7 46l4-2m-226 54l8-4m179-66l8.7-2.3m-51.6-4l4.3-3m-148 47.6l9-1m86 17.6l9.5-2m18-8.4l4.7-.7m-113.3 25l7 0m183-107l7 0m-188.6-7l3-3.6m148.7 63l4.7-5m39 56l6-3.6m-142-91.4l3 0m18.5 116.5l8.3 .4m73 6.6l9-5.5m6.6-71.7l5.5-4.7m-96.6 89l7.4-5" stroke="#F2B2E2" stroke-width="0.9" stroke-linecap="round" fill="none" stroke-opacity="0.8" />
<path d="M740.5 1542.5l30 16" stroke="#FBE4F6" stroke-width="2.2" stroke-linecap="round" fill="none" stroke-opacity="0.95" />
<path d="M795.5 1550.5l40 12" stroke="#FBE4F6" stroke-width="2" stroke-linecap="round" fill="none" stroke-opacity="0.95" />
<path d="M705.5 1608.5l50 10" stroke="#FBE4F6" stroke-width="1.8" stroke-linecap="round" fill="none" stroke-opacity="0.95" />
<path d="M695.5 1630.5l40 4" stroke="#FBE4F6" stroke-width="1.6" stroke-linecap="round" fill="none" stroke-opacity="0.95" />
<path d="M846.4 1631.5l2-1m-115 43l1 0m-46.5-96.7l.6-.3m68 50l.3 0m87-77l.4 0m-87.7 135.7l.4 0m6.5-2l1-.5m-29.3-102l.5 0m-25 112.4l1.3 0m-5.5-139.5l1.4 0m-29.4 138l1-.5m139.5-8l1-.3m-133.4-74l2 0m66.3 65.3l1 0m112.3-96l2 0m24 21l2 0m-89.4-59l2 0m11.7 141l1.5 0m-65.5-65.4l.7-.3m139-10.4l1.7-.6m-42.5-65.3l1.3-.4m-127.7 119.7l2-.3m-24.7-95.3l1-.5m26.4 54.4l.4 0m128 4.5l1 0m6 11.6l2-.6m-114.3 61.4l2-.4m-62-72l1.7-.7m183 53.5l.4 0m13.3-108.3l1.4 0m-56 83l1-.3m-79.6 0l2-.5m33-58l1-.7m12.4 56.5l.5-.4m8.7 16.3l.5 0m19.6-55.6l1.6-.3m-73.3 26.3l.3 0m32 65l.7 0m51-14l1.4-.3m-111 14.4l1.3-.7m155-3.3l1.3 0m-12.7-19.3l1-.4m-138.3-88l1-.3m141-53.3l1-.3m7.4 165l1.7 0m-141-49l2-.7m42.4-77l1 0m-52.3 72l.4 0m-5.7-35.3l2 0m64 85l.6-.4m-105.5-117l1-.4m164.7 16.5l1-.4m13 25.6l1 0m-91 20.5l2 0m-99-70l1.5-.7m83 48.6l1.3-1m106-79l1 0m-193.3 2.7l2-.3m64 140l1.5-1.3m-58-112.4l1-.3m165.3 53l1.7-.4m-106.6-31.4l1.4-.6m106.5 102.3l1-.6m-49.4-70.7l2 0m-148.4 33.4l1.4-.6m31-92l1.6 0m100 48l.4 0m69.4 60.3l.4 0m-211.7-53.6l1-1m65.6 52.4l1-.6m22.7-90l.6 0m-25.6 35l1.4-.6m128.5 11l1-.6m-164.7 56l.6-.3m174.3-42.6l.4 0m-169.3 42.6l1.4-1m-4.6-12.4l.5-.3m6.7 32.5l1-.6m159-45l1.5-1m-135.7-74.5l.5 0m56 88.4l1.5 0m-30 26.6l2-1m121-61l1.4-.3m-65.5 23.3l1.6 0m-49.4-81.4l1-.3m44.6-9l1 0m52.3 48l.6 0m-176 71l.6 0m61.5-14.3l1.4-1m60 31.6l2 0m-131.5-21.7l.7-.4m156-53l2-.7m5-32l2 0m-38.5-13l1.3 0m-90.6 87l.5-.5m148.7-66.6l1.6-1m-34.5 17.6l.4 0m-178 76.5l1.6 0m150-82.3l1.3-.7m22-53l.6 0m-20 66.7l1-.7m51 48l1.6-.4m-168-36.6l2-.6m-40.3-86l.4 0m64.5 102l2 0m-54.5-37l1-.3m42-40l.7 0m163 91l.5 0m-200-11.5l1 0m44-42l1-.5m-38.4-42l1.6 .3m152.5 46.5l1-.3m-83.5 61l.6-.3m-46-22.4l1.5-.3m-51-60.4l2-.6m207.5-32.6l.6 0m-127 84.7l1.5 0m46-1l.3-.5m-29.7-85.5l1.4-.5m84.6 150l.5-.4m-69.3-48.3l1.7-1m-87-5l2 0m124.7-58.3l2-.7m-61-14.3l.5 0m104.7 29l.4 0m-76-36.6l1.7-1m-33 67.3l.6 0m-35-29l2 0m26.4 28l2-.3m66-44l.7 0m-86.4 89.5l.4 0m80-80l2-.4m35.3 37.5l1.7-1m-193-6l0-.5m182 26.5l.5 0m-138.4-63l.7 0m75 92l1-1m-77-43.4l2-.7m17 46.3l1-.4m93-21.7l.7 0m-67-108l1-.7m97 132l1.5-1m20-29.4l1 0m-41.7-12l1-.5m-49.4-17l.4 0m28-53.3l2-1m24 103l.5-.4m-102.7-111.6l1 0m11.4 128l.6 0m36.6-6.3l1.3 0m33.5-123.4l1.5-.6m27 3.4l1.7 0m-179.4 82l2-.6m64.4 45.3l1 0m23-55l2-1m-82.6 54l1 0m122-42l1 0m38.7 19.4l1 0m-71.7-121.3l1.3-1m79.3 126l1-.3m-75.4-49l1.6 0m71 65.4l2 0m11-110l1.7-.4m-140.5 24.5l1.3-1m119.7-26.4l.5-.3m-8.5 4.3l2 0m-43 120.7l1 0m-16-132.3l2 0m-110.6 12.3l1.4-1m30-34.4l1 0m69 119l.4 0m-100.5-61l2 0m173.4 91l1 0m-3-37.4l.7 0m-138 45l1.3-.3m-7-114l1.5-.7m80 16l1.5-.3m-62 82l1 0m102-73.4l1 0m-15 37.7l.4 0m-108-14l1.5 0m-9-1.5l2 0m83-4.7l1-.5m-56.7 45.3l2 0m-51.4 21.3l1.6-1m26-123.3l1-.5m87-7.6l1-.5m-16 28.6l.3-.3m-90 115.7l.3 0m142.7-96.5l1.3-.3m-155.6 25l2-.6m57.3-49l.5-.4m-80 58.7l1.5 0m66-86.5l1.7-1m71 82l1 0m-49.6-73l1.3-.5m95.6 15l1-.5m-5.7 77.5l.4 0m11.7-74.4l2-.3m10.7 80l1-.3m-81-94l.6 0m69.6 138.3l.6-.4m-21.7-154l1 0m-4 94.5l.7 0m-41-63l.6 0m57 100l0-.3m-44-115.7l1 0m14.6 135.7l1.7 0m-79-64l1 0m20.6-37l1 0m43 94l2-.3m20-36l0-.3m-143-18l1.4 .3m34 31.5l1-.7m-25-73l1 0m-16 94.3l1 0m99 1.4l1 0m79-95l1-.4m-194.4-7l1.4-.4m177-20.5l1.5-.7m-157.6 131l.4 0m51-33l.5 0m-19-11l2 0m39 18.6l.7-.5m-107-74l1.5-.5m128-38.7l2-1m-47 68.5l1.4 0m103.7-57.5l1-.3m-89.6 94.5l.6 0m-57-98l2-1m-8.5 30l.4 0m169.7 75l.6-.4m-194-49l1 0m182-13l1 0m-139.5 31l2-.4m4-40l1.5 0m10 84.5l.5-.4m-61.7-138l2 0m9.7 143.7l1.3 0m-6-13l1.3 0" stroke="#46207E" stroke-width="1.7" stroke-linecap="round" fill="none" stroke-opacity="0.8" />
<path d="M853 1683.6h0m-81 5.5h0m74.3-82.4h0m-12.3-38h0m45 95.6h0m-16-72h0m-174.7 73.7h0m47-114h0m107 8.4h0m4 27h0m-127 103h0m50.4-3.5h0m71.6-67h0m-84.4-60.3h0m87.7-10h0m18 49.4h0m-123.3 62h0m129.7-4h0m-189.5-86h0m107 65h0m61-87h0m52 119.5h0m-88-35.4h0m-9.7-52h0m-54.6 12h0m123 2.5h0m-112 18.3h0m7.4-10h0m59.5 31h0m-11.6-60.5h0m-46.6 56h0m44 28h0m-59-66.6h0m-19-50h0m27.6 127h0m76 20h0m2.5-29h0m-43-109h0m78 77.6h0m-40.7-29h0m-18 93h0m-78-105.4h0m89.5 76.7h0m-136 13.3h0m140.3-61h0m-82-75h0m-18.5 134h0m9.6-22.3h0m2-25.5h0m62.3-95.4h0m3 110h0m-60-107.5h0m42 105.5h0m111.3-57h0m-198 21.7h0m-15 74.3h0m169.7-4h0m-134-71.5h0m158.4 59.4h0m-81.7-112h0m76-7.5h0m-185.6 35h0m67 1h0m-67 101.7h0m152.4-26.7h0m12-76.6h0m-38.4 61.7h0m-1.5-93h0m1 45h0m45.3 15h0m-169.3 90h0m146-36h0m-145-28h0m53 44h0m46.5-130.3h0m26 70h0m-11 0h0m-19.3 80h0m4.4-64.7h0m98.7-78h0m-145.6 22h0m88.4 29h0m-44.6 46h0m-13-90.6h0m36 0h0m-133.6 27h0m132.3 66h0m-11-48.5h0m-122.3 46.4h0m136.7-112.4h0m-105 31.7h0m58-4.4h0m21.4 90h0m-40-83h0m2 108.5h0m67-25h0m-68-61h0m54-40h0m-118.3 49.5h0m19-4h0m-2.7-19.7h0m29.5 103h0m-25.7-73.7h0m167.6-34.4h0m-82.7 95.3h0m-33.5 12.5h0m21-39.6h0m-40 52h0m-44-132h0m6 93.6h0" stroke="#7C4CB6" stroke-width="2.4" stroke-linecap="round" fill="none" stroke-opacity="0.6"/>
</g></g>
<g clip-path="url(#t31)"><g filter="url(#soft)">
<rect x="902.6" y="1530.5" width="226.8" height="167.7" fill="#BE58B2" />
<rect x="902.6" y="1530.5" width="226.8" height="167.7" fill="#000" filter="url(#mottle)" opacity="0.2"/>
<rect x="902.6" y="1530.5" width="226.8" height="167.7" fill="#000" filter="url(#cells)" opacity="0.25"/>
<path d="M1031.7 1533.4h0m8.3-.6h0m73.3 1h0m-198.4 7.5h0m7-4.4h0m21.6 .4h0m15.5 6h0m9-3h0m13.4 0h0m43 2.6h0m12 1h0m15-5h0m7 2h0m14-.3h0m8.7 0h0m16-.6h0m8 3.5h0m-187.5 3.7h0m14.6 1.7h0m8 1.4h0m11-3.5h0m15 3.5h0m7.6 2.7h0m15-1h0m17.4-3h0m15 3.4h0m12.6-1h0m10.5 0h0m11.4-4.6h0m11 2h0m25.4 0h0m10.3 2.5h0m11.5 2h0m11.6-6h0m-211.6 14.5h0m8 .5h0m9.4-4.5h0m23.6 0h0m13.6 3h0m15.5-3h0m9 2h0m19 3h0m16-4h0m7 3.3h0m17-3h0m6 1.6h0m15.6-1.4h0m9.6-2h0m25.5 0h0m7.4 2.7h0m-211 8h0m8.5 .6h0m14.3-1.3h0m11.7 3h0m9 1h0m18 .4h0m23 2h0m11.3-1.5h0m11.5 0h0m29.5-3h0m10-2.3h0m13 6h0m10-5h0m14 6h0m10-7h0m10.4 2h0m-197 10.4h0m24.7 3.5h0m20-4h0m22.7 4.6h0m10-1.7h0m15.3-.3h0m19-1h0m14.6 3h0m19.7-1h0m10.4 1h0m12-2.5h0m17-3.7h0m6 4h0m16.3-4.6h0m-213.7 14h0m10.7 0h0m12 1.6h0m13-5.5h0m11.7 1.6h0m19.5 1h0m12.6-2h0m31.6 3.3h0m17.7 1.3h0m9 .5h0m10-4.6h0m13.3 .5h0m9 4h0m13.3-4.5h0m24 5.3h0m12-4.5h0m-205 11h0m28 2h0m11.6 2h0m8.7-5h0m10.5 1.4h0m13-1.5h0m9.3 1.7h0m27.5 1h0m22.4-1.6h0m19.4-2.7h0m11 4.3h0m12 2h0m12.5-.6h0m-187.5 10.5h0m10.6-5.6h0m20 4h0m12-4.4h0m25.4 1.7h0m10 2.7h0m14.6-4.3h0m6.7 2.3h0m11.6-2h0m12 0h0m9.7 2h0m14.4 1.5h0m15 2.3h0m8.3-5h0m12.6 1.4h0m11.3 3.5h0m-203 7.7h0m24-2h0m13 2.7h0m21.7-5h0m10.7 0h0m13 .3h0m23.7 1h0m21-1h0m24 1.6h0m11 .6h0m21 2h0m22.3-.5h0m-188 7.3h0m9.3 4h0m17.3 0h0m6.7 0h0m16.5-3.3h0m18 2.5h0m15.6-.6h0m12.6-.5h0m18.5 0h0m25.3 2h0m11.3-5h0m8.4 0h0m15.5 2h0m12.3 4h0m11.7-2h0m-190 12h0m6.7 0h0m11-2h0m37-4h0m8.6 4h0m12-3.6h0m12.6 3h0m10-1.7h0m13-.6h0m15 1.6h0m12 3.4h0m12.5-5h0m31.5-.6h0m-201.3 15.4h0m9-6h0m12.4 6.4h0m25.5 0h0m7.7-1.5h0m13.7 1h0m15-2h0m18.6 2h0m14-4.7h0m8 4h0m16-1h0m34-2h0m9 3.5h0m-188 6h0m8.5 4h0m16-2.7h0m10.4 1h0m11-2h0m10-1h0m26 .5h0m5.7-.7h0m17.4 3h0m45.6 1.7h0m10 1h0m20.4-.7h0m27-4h0m-203 10.6h0m11.4-1h0m13.7 1h0m9 0h0m12-.5h0m11-2.5h0m12 1.5h0m10.5-1h0m45.4 1h0m16 4.7h0m12-1h0m10-4.6h0m31.6 2.7h0m13.6 1.6h0m-203.7 10.6h0m26 0h0m7.6 1.7h0m10-.3h0m17-1h0m19-4h0m28.5 3h0m11-.5h0m12 0h0m7-2.4h0m27.7 4.7h0m22-2.3h0m12.5-3.7h0m-206.7 12.6h0m9.7-3h0m14 4h0m15.5-1h0m23 2h0m8-5.4h0m14 2.7h0m11.6-1h0m12.3 2.6h0m18.7-2h0m12 1.7h0m26.3-3h0m19 4.5h0m12 1.4h0" stroke="#6A4AB4" stroke-width="5" stroke-linecap="round" fill="none" stroke-opacity="0.75"/>
<path d="M915.4 1541.6h0m120.3 2h0m15.7-5.6h0m21.5 3h0m31.3 3.4h0m-12.7 5h0m21.7 4h0m-181.3 3.6h0m60 3.7h0m66.7-.4h0m24-2.5h0m27 0h0m7.4 3h0m-150.4 11.5h0m22 1.5h0m12.6-1h0m51-5.6h0m13.6 5h0m-77 10h0m16-1h0m33.4 2.7h0m-121 6.7h0m25.5-4h0m31 2h0m44.5 2h0m108-1.7h0m-166.3 14h0m8.6-3.3h0m10.7 1.4h0m-60 13h0m31-1.6h0m36.5-3.4h0m9.5 2.7h0m55.6-2h0m38-1h0m24 5h0m-179 6h0m102.3-2h0m-109.5 11h0m33.7 2.4h0m62.4-1h0m92 2h0m-172.5 11h0m81-2.3h0m38-1.3h0m12 3h0m44-5h0m-201 14.7h0m84-1h0m56.6-.7h0m34-2.3h0m-180 10.5h0m56 0h0m94 2.7h0m-144.6 8.4h0m35 0h0m117 2h0m56.7 0h0m-160 12h0m35-5.7h0m51.3 3.6h0m7.5-3h0m27 4.6h0m22.5-2.7h0m-155 9h0m23.6 1.7h0m45 0h0m20-2.5h0m10.5 2h0m58.4 2h0" stroke="#3C1070" stroke-width="2.4" stroke-linecap="round" fill="none" stroke-opacity="0.75"/>
<path transform="translate(902.6,1530.5)" d="M76 28 C80 20 100 19 110 23 C117 28 116 44 110 51 C102 56 86 55 78 50 C72 44 72 34 76 28 Z" fill="#F1EEF1" stroke="#8A5AB0" stroke-width="1.2"/>
<path transform="translate(902.6,1530.5)" d="M126.8 33.9 C138 30 162 34 173 43 C186 52 196 70 198 88 C199 104 192 118 180 122 C166 126 146 120 134 106 C124 96 116 80 115.5 63 C115 52 118 40 126.8 33.9 Z" fill="#F1EEF1" stroke="#8A5AB0" stroke-width="1.2"/>
<path d="M1054.1 1608.9h0m-18 6.7h0m21.7 6h0m-20.6-12.4h0m26.5 4h0m1-15.5h0m-19.6-2.4h0m11 42h0m3-7.5h0m-8-1.5h0m-11.4-23.7h0m23 22.6h0m-10-33h0m-6.4 6h0m.5 31.4h0m-3 4h0m7-20.5h0m-14.3-3.5h0m23-16h0m-1 40.5h0m-19.6-18.5h0m16.6 20h0m-3-27.4h0m8.6-16h0m-2.3 4.3h0m1 41h0m-22-21h0m22-21h0m4 41.4h0m-18.7-17.6h0m-8-13h0m25.5 12h0m4-26.3h0m-17 40.4h0m9.4-21.4h0m-7.3 28h0m7-50.5h0m9 16h0m-15-6h0m.7 6h0m-14 15.7h0m.3 8h0m28-15h0m-3.7-13h0m1 9.4h0m-13.4-2.7h0m18.4 0h0m-7.7-10.5h0m7 4.6h0m5.7 18h0m-31-11.3h0m16 30h0m-10-43h0m8 0h0m-19 21.7h0m24.4-25.5h0m-9.7 33h0m12.5-16.5h0m-2 20h0m6.6-14h0m-14-17h0m4-4.5h0m6 7h0m-13 17.7h0m-2.7-20h0m4 40h0m2 0h0m14-21h0m-14.6 0h0m5 0h0" stroke="#E0507A" stroke-width="2" stroke-linecap="round" fill="none" stroke-opacity="0.9"/>
<path d="M1060.3 1578.6h0m3 1h0m-6.4 5h0m14-3.7h0m-4.6 1h0m6 10.7h0m-.7-12h0m-10 8.4h0m8.6 4.6h0m-2.5-3.7h0m-2-10h0m-.6-1.6h0m1.5 4h0m7 5.6h0m-8-3h0" stroke="#E0507A" stroke-width="2" stroke-linecap="round" fill="none" stroke-opacity="0.9"/>
</g></g>
<g clip-path="url(#t32)"><g filter="url(#soft)">
<rect x="1129.4" y="1530.5" width="227.4" height="167.7" fill="#8A4CB2" />
<ellipse cx="1244.4" cy="1602.5" rx="82" ry="66" fill="#2A1686" opacity="0.7" filter="url(#blur8)"/>
<ellipse cx="1344.4" cy="1650.5" rx="30" ry="60" fill="#C0405A" opacity="0.3" filter="url(#blur8)"/>
<ellipse cx="1144.4" cy="1670.5" rx="30" ry="40" fill="#C0405A" opacity="0.25" filter="url(#blur8)"/>
<rect x="1129.4" y="1530.5" width="227.4" height="167.7" fill="#000" filter="url(#spk_light)"/>
<rect x="1129.4" y="1530.5" width="227.4" height="167.7" fill="#000" filter="url(#spk_dark)"/>
<path d="M1259 1636.3l-2-1.4m57.6-57.5l2-.6m-39.3 102.3l-1.5 2m59.4-118.7l.6 2m-58.5 69.4l-.7 1m-32.7 57l-2-1.3m7.6-85l1 0m92.6 31.3l1-.4m-146-53.7l1.7-1.6m42.4-41l.5-1m24.6 114.3l-1 1.6m-40 17l0 1m113.3-49.4l-1 1m-54.6-73.7l1.6 .5m-142.6 142.5l-1 .7m52.5-127.7l2 1m136 88l0-.6m-174.3-70.5l-1.6 1m28.5-9l-1.4-1m-52 42.6l-1.7-1.3m69-20.3l-.5 0m-26.3-47l-1.3-.4m-33 126.7l1-1.6m160-50.3l-1.5 0m-139-68l1.5 1.7m-2.5 26l0-1.6m-14-5l1.5 2m31-16l2 .3m100 44l-.6 0m-40-17l1 2m13.6 69l0 0m-52-118.5l-1 0m40 51l0-.6m67.4-43.6l0 1.7m21-17.6l-1-1m-73.7 72l-1 1.4m-50 72.4l-1 1.3m88-121.6l2 1.5m-48.6 73l1-1.3m-105-85.7l0 1.3m128 105l-1 .5m-30.3-51.4l1.5 2m8.5-28.7l-.6-1.5m84 117.7l-2-1m-87-155l0-1m-19 130.7l1 .6m-17.5-116l.5 1m-32 99l-.6 1m99-71.3l-.5-1m1 79.6l-1.6 1m79 10.7l1.4-2m-121.6-1.6l1-1.7m110 11.6l-.5-.7m-39-46l1.5-.4m-55.5 44l0-.6m25.6-21l-1-1m-88.5-103l-2-2m11.5 83.4l0 1m68.3-65l.6-1m-87.3 125.7l2-1.7m-28.4-2l-.3-1m158-57.6l-1 2m51.6 15.5l1-1.4m-224 44.4l-1 1.3m93-5l-.7-1m90.7-128l-1-.7m-173.5-18.7l.4-1m166.7 128.6l.3-1.7m-125-110.7l0 .3m31.3 113.5l-.7 1.4m85 10l2 .4m49.3-19l-.4-1.6m-29.5-121l.5-1m-187.3 141l-1.4 .3m139.4-89l-1 .7m-109.6 .4l1-2m46.5 29l.6-1m24.4-47.6l-.7 1m-82-1l1.7-.6m8.5-16.3l1-.6m63.5 5.6l2-1.3m85 70l.6-1.7m-77.3 17.3l0 1m-51-103l2 1m-37 51l0-.4m63.7-13.6l.5 .5m-13 95.7l.6 1m-67.6-64.7l1 2m83.4-29.7l.5 1.5m76.6-11l1-.5" stroke="#F4E2FA" stroke-width="1" stroke-linecap="round" fill="none" stroke-opacity="0.8" />
</g></g>
<g clip-path="url(#t33)"><g filter="url(#soft)">
<rect x="1356.8" y="1530.5" width="228.2" height="167.7" fill="#EDEBEE" />
<ellipse cx="1446.8" cy="1692.5" rx="62" ry="14" fill="#B060B8"/>
<path d="M1453.4 1698.5h0m19-5.4h0m-55.3-11h0m37.6 3h0m1.3 1.6h0m-13.4 7.5h0m35.4-1.4h0m-63.4 3h0m-20.6-.6h0m19-6h0m12 15.5h0m27-13h0m17 5.5h0m-20-5.6h0m-22-8.4h0m53.7 6h0m-2.7 11h0m-58-9.6h0m-16-1.3h0m37 13h0m21 1h0m.4 1.7h0m-45.7-6h0m-8 4.4h0m81-13h0m1.3 .4h0m-74 13h0m11-6h0m39-16.4h0m37 9.6h0m-58 .4h0m39 7h0m-17-13.4h0m25.4 1.6h0m-74 2h0m8-.5h0m50.4-6.3h0m-26 8.5h0m-49.7 6.5h0m6 3.4h0m-6-9h0m59.6 14h0m.5-4h0m-15-12.4h0m-24-9h0m21 20h0" stroke="#4E2496" stroke-width="2.8" stroke-linecap="round" fill="none" stroke-opacity="0.85"/>
<defs><path id="lw4" d="M1603.4 1727.2l9.7-11m1-219l-7.5 3.5m0 0l-9-1m9 1l1 9m0 0l11 11.3m-19 6.6l-10.4-15m.5-9.3l-.5 9.4m-32.5-17.6l22.4 5m1.3-.6l-1.3 .5m10.6 3.3l-9.3-4m-10.3 11.5l9-11m4.4 17l5.7-4m-47-20l11.6 5.5m64.6 22.7l-3.7 9m-11.3 197l-12-7.3m21.7-3.3l-.3-9.6m0 0l-7-7m0 0l-2 1m-12 19l-.6-.7m-32.5-5l14.3 9.3m0 0l9-6.5m-15-19.4l9.6 .6m2.7 4l-2.7-4m14.6 21l-9-2m22-16l-25 1m-31 17l1.5-3m0 0l9-2m-10.5 5l-18.6 0m70-191.5l0 0m0 0l9.4 3.3m-39-20l-9 6.6m-7-19l-1 13m-222 101.5l4.6 8m-8 13.7l8-13.7m-8 13.7l3.5 4m0-25.7l1.6-2.7m0 0l-7.7-19m16.7-42l-2-19m0 0l-16.5-.6m-3.4-11.4l3.4 11.4m4.6-31l14 13m195.3 4l3 0m-9-19l-2.7 5m12 14l13-4.4m-24-5l-1-4.4m56.6 190l-8 5.5m0 0l.4-24m0 0l1-1m0 0l2 0m25 27.5l.3-6m-7-8.5l-13.7 6.5m-8.4 6l.4-.5m-10 0l-3-3m0 0l-1.7-15m-12.6 36.6l-5.5-8m19.6-13.6l-11.6 .4m-114 25l5-2m0 0l13.7 5m144-170.5l-13-5m11.7-19.5l-7 5.7m15.6 5l1-7.6m-16.4 2.6l-5 13.6m-4.3-30l-6.3 8m15.6 8.4l-15.6-8.4m-22.5 50.7l-1-12.4m1 12.4l-14.6 12m0 0l-9-10m0 0l11.5-22.7m22.7 29.5l-10.6-9m16-5.4l-6-7.6m0 0l-11 1m11.6 21l1.4 3.4m-19 33l19-33m-51.7-58l.5 15m9.5-17.3l18.3 22.7m-16.4 1.6l15 1.6m-171 32l-7.6 11m7 23l23-16m-8-25l8.3 23.5m0 0l0 1.3m-67.7-51.3l-1.4 4.3m17-7l4.3 2.6m-21.3 4.4l14.3 14m87 21.4l0 9m26.5-7l-4-6.7m-1.7 15.5l-21-1.7m9.4-13.4l13-.4m12-71l-5.4 4.4m-15-17.7l16-5m-1 22.7l-6.3-4.4m-105 10.6l-4 3.4m2.4-18.4l3 1m1 5.4l-1-5m118.5-22.3l10.5 10.4m39-4l-4 5.6m0 0l-17.5-8m-33-1.4l-2.4 4.6m4 18l12.4-2m0 0l1.3-1m-34-10l-4.3-2.4m13 15.5l-16.4 3m-1-14l4.4-4.5m94.4 218.3l-3-6m17.6-5l-14.7-7m-3 12l-17 9.6m42.7-27.7l-5.5-5.7m15.6-9.6l-9.6-5.7m-6 15.3l6-15.3m-23 27l0 0m17-11.7l-13 1.6m-62 27l-.5-.6m-24-100l-.6-14.5m.4 14.4l-12.7-1.6m0 0l-9.6-12.5m-10.6-23l11.6 12m-38-17.6l-2.3 4.4m8 23.4l26.6 4m0 0l4.7-3m49.4 23.5l2 2m0 0l-7.6 13.3m-17-17.6l-9 14m0 0l2.3 2m23.7 1.6l-23.7-1.5m119-116.3l-15.3 17.7m20.3-15l6.6 20m-27.6-3.3l0 1m13.4-27l2.6 6.6m-23.5-8.5l8 26m29-16.5l-8.5 2m8.5 21.7l5.3 1m-5.3-1l-2-2m-32.7 8.3l-.5-1.5m1-3l4.5-6m-10.5-29l-6 7.6m0 0l16.7 20.3m-17-20.3l-6 4.5m-9.3 17l-7.3 5.3m18.7 2l-13 20m0 0l-3.5-3.4m-2-18.6l2 18.6m-179.3 70l7.4 2.7m0 0l-8.4 17.3m-2.6 52.4l-7-9m18.5 10.5l6-3.5m12 20.7l-1-11m-16.6-23l-19 6m24.5 7.3l1-7.3m56-66.4l3-12.3m0 0l11.4-3.7m-4.7 18.3l15.5-2m0 0l-1.3-7m-31.7-22l-.6-3m26.5 2.3l-3.7 13.4m18-4l-8.5 13m26-4l-3-5.5m-15.6 22l-6-5.4m-80.7-83.3l8 6m0 0l31.3 8m-29-23.5l13.6 2.6m-27-18.5l12 6.6m0 0l1.5 9.3m-11 9.4l.6 0m-7.5 21l9.7 3.4m2 2l-2-2m2 2l-10 14.3m-7.5-15l-4 11m9.6-18l0 2.5m48.4-5.5l.4 6.6m-.4-6.6l-.3-1m-16 19l-20-7.5m36-11.3l-1-1m-35.4 37l-10-10m10 10l13-6.4m-38.5-5l4-3m21.5 14.6l-1.3 2m0 0l-16.5 5m99-91l-6 11m0 0l28-4.3m-73-9l-10.3-11.3m-9.4 14l5 8.7m9-1.3l-4.6 3m-4.5-1.7l4.5 1.5m23.3-13.3l3 6m-3-6l-13 .4m7.4 21.4l8.5-15.6m-8.5 15.6l-13-11.3m-20 6.4l11-5m-20.3-10l15 1m26 47.6l2.5-9m-19-12.7l0-15.5m19 28.4l-1-20m-60.3-40l0 .7m16.6 14l9-12.5m-1-1.4l1 1.4m154.6 49.7l-6 0m-1.4 17l9.6 1.6m-8-18.6l-10.5 6m17-31l-14.6 9.7m-3-22l-6 2.3m0 0l1.7 20m19-18.4l1.3 2m7.7 11.3l-6-5m-6.6 25l-8-15m35-29l-22 12.7m-16-24l-.3 18m-17.6 .4l12 2m23-12l-2.7 13.6m100 177.3l16.6-9m-21.7-132.6l4 3.7m3.5-17.5l9 17m-12.6 .5l12.6-.3m-58.3 81l39-10.7m-51 1l-.4 .3m3.3 5.3l-3.3-5.3m31-16l19.4 2.4m0 0l1 12.3m-94 40l13.7-1.7m0 0l4-34.5m-16 21l8-18.3m-29 25.4l1.4-26.7m-1.4 26.7l21-7m-19.6-19.7l4.7-1m0 0l22.7 2.3m19 51.7l-10.4-7.5m2-7l-2 7m2-7l21.7-15m0 0l1.7 10.7m-13.5 25.3l-1.3-6.5m20-10.4l-5-8.4m-18 35.5l-8-1.7m0 0l-15-15.5m32.3-57l-14 1.4m25 4.5l-4 22m-21-26.5l-3 1.7m-4.3 34.5l6 5.4m42.7-27l-7.4-6m7.4 6l12 29.5m-119.3 27.6l-2.7-11m8 14.4l16-8.5m-24-5.7l10-8m-23 37l9-13m0 0l6.7-5m12 17l-7-14m27.4 19l16-1.5m-16 1.6l-8-7m38-16l-15 11.3m1 10l-1-10m-38.5-32.7l15-4.5m.6-12.6l-19-5.7m-4.3 7.5l1.7-6m24.6 13.7l-3.6 3m.7 21.7l-3 0m-14.4-14l1.7-3m16.7-20l-1 3m2.4-29.6l-10-2.4m-7.5 13l-4 13m39.6 11l-4.7 7.6m0 0l-13-3.3m-32.7-18l-9-11.7m9 11.6l8 4.5m-28.5-15.6l-2 7m8 13l-8-13m25 41l-6-2.6m10-24l-12 6m-9-7.6l.6 4.3m8.6 3.5l-8.6-3.5m34.3-38.4l0-4m-25.4-4l17-18m-13.4-7l13 3m0 4l0-4m-126 99l-1.4-5.7m-11.3-9.3l11.3 9.3m95.5 27l-5.5-1m-24-175.6l13 .4m-13-13.6l15-1m0 0l6.4 4.5m0 0l0 1.7m-36 26l14.5-18m-7-17.7l7 4.5m10.4 27.6l2.6-14m-22.7-25l19-8.5m2.5 1.7l-2.4-1.7m2.4 1.7l15.4-3.7m-5 25l-.7 .4m1.5 26.3l6-6.6m0 0l26.5 10.4m-30.6 7l5.7 2m18.4-2l6.5-7m-45-6l12.5 2m5-15.3l-6.4-9m-11.3 47.5l14.6-12m6.3 19.6l-.6-17.7m13.7 17.3l4.7-19.4m7.3-7.4l-1 .4m1-.4l12 31.3m0 0l-7 5m-1-40.5l9.6-1.3m-19-23l.5 5.7m-.3-6l19.5-2m0 0l6.6 10m-21 21l4-4.4m-32.3-14.7l23.5-4m36.7 18.6l-16.6-.3m0 0l-1.6-1m13.3-19.6l-6 4.6m-27.5-14l1.4 6m17.3-18l2 15.7m-105-27.4l18-7.6m-17 11l-1-3.4m-15.7-1.7l14.4 .5m25-6l-5.6-.4m5.6 .3l1 21m-1-21l3-2.7m15 4.7l23-2m-20.7 12.5l-2-10.5m-15-4.7l14 3.7m160.6 74.5l10 1m2-21.5l2.6 15.7m-5 6l5-6m-6 22l2-9.6m-1-6.6l1 6.6m4-12.4l14 5.6m21 79.6l-15 2.7m0 0l-4-10m-35-.5l12 3m19.5-20l3 3m-22.3 17l21.7-4m11.4-14l-11 1m11-1l12.7 8m-24 6l1 1.6m-117.7 51.5l21.4-12m-17 22l12-1m0 0l6-20.3m-22.5 11l0 .3m16-21.5l5.5 9.6m-21.7 32l5-10.3m18 5.7l-6.3-6.6m6.6-20l-1 0m-94-46l3.5 16.4m0 0l5.5 2m-19-21l-17 12m30.5 7l-13.3 1.3m30 17l8-7.5m-8 7.6l-11.4-6m0-10.6l0 10.6m20.7 21l-7-3m-7.3 11l10 6m2-2.3l-2 2.5m13.3-15.5l-9 1m-8.6-4.6l1.4 2m-1.4-2l-1-10m20.7 32.5l-13.3-6m-5.6 17.6l3.7-15m-20.4 1.4l10-8m-10 8l1.7 8m-1.7-8l-6.6-7.6m22.5-13l-19.3 1m-4.4 5.7l4.4-5.6m7-17l-6.6 5m-.4 12l.4-12m-12-16l6 13m6 3l-6-3m-13.6-62l-17 38m-7-25l-3 14.7m-18-29l5 25m13 4l-13-4m-18.5-9.4l17.6 10m-14 10.3l14-10.4m167.6-38.7l-8.6 1m8.6-1l3.3-14m-12 15l-4.6-10.7m16.6-4.4l-9.3-3.5m24 52.3l-18-34.7m4 36l-16.3-23m0 0l3.7-12m35.3 28l-1 6m-33-55.4l1.3 3m-23 33l12.7-4.5m-30.6 19.3l11-21.7m7 7l-7-7m-91 112l-10 3.6m-1.6 4.3l0-2m0 0l1.5-2.3m34.6-5l-10 7.5m1.7-23.4l-13.6 6.6m0 0l-2.4 10.7m-14-10.4l5.4-8.4m-20.7 18l-8.7 6.4m8.7-6.5l17.7 6.6m-15.7-18l13 2m224-97.3l11.3 7.6m-28.7 40l9.6 20m8.3-17l-1.4 11.7m-6.6 5.5l-.3 0m9.3-20l-1 2.6m-25.7-10l8 7m-6 20l15.4 .3m18.4-3.5l-11.5-2m-4 18l-2.6-12.4m-96-88.4l-10-7m7.3 16l-13.3 3.5m2.6-20l-10 14m10-14l3.4 .4m-13 13.7l7 6m23-15l-7 2.4m4 18.6l-6.7-9.5m3-27l-10.3 11m-15-22l11.6 21.3m117 24.5l2.5-3.5m-2.5 3.5l-18-9m20.5 5.5l-.4-19.4m-20 14l0 0m15.3-16.6l-3 2m5.6 27l0-3.5m-26.4 10l8.6-19m-7-5.4l7 5.3m-4.5-14.7l17 0m.6-7l2 5.3m-216.5 71l-2.5 .3m25.7 21.5l-12.5 6.3m-13-28l13 28m-18-30.3l1 2m4 .5l-4-.6m30.5 42.5l-14.4-7m-9 12l0-7.3m9-4.6l-9 4.6m-18.7 14l-4-6m22.5-8l-.4 0m0 0l-18.5-2m0 0l-3.4 10m-17.3 6.7l6-4m33-11l-11-33m0-.6l0 .4m-34.5-12l10 18.3m24.5-6.7l-24.7 6.7m-19-1l13 8m6-7l-6 7m-16.4 14l16.5-12.5m21.7 13.5l1-7.5m-22-5.3l4.3 11m0 0l1.6 1m16.7 4l-1.6-3m-13.3 16l-2-17m24-27.5l-8 21m-22.4-6l.5 .5m-5.7 21l10-10"/></defs>
<use href="#lw4" fill="none" stroke="#DE90D0" stroke-width="2.7" stroke-linecap="round"/>
<use href="#lw4" fill="none" stroke="#5A2AA0" stroke-width="2.6" stroke-linecap="round" stroke-dasharray="0.5 8 0.3 11" stroke-opacity="0.85"/>
<path d="M1409.4 1573.5 1403.8 1585.8 1401.1 1599.5 1392.5 1606.5 1382.8 1610.8 1372.8 1607.8 1366.4 1596.8 1361.6 1585.9 1359.7 1573.5 1362.7 1561.7 1368.2 1552.8 1373.8 1542.7 1382.8 1536.6 1392 1541.9 1398.2 1551.7 1405 1560.5Z" fill="#EDEBEE" stroke="#DC8CD0" stroke-width="2.8" stroke-linejoin="round"/>
<path d="M1409.4 1573.5 1403.8 1585.8 1401.1 1599.5 1392.5 1606.5 1382.8 1610.8 1372.8 1607.8 1366.4 1596.8 1361.6 1585.9 1359.7 1573.5 1362.7 1561.7 1368.2 1552.8 1373.8 1542.7 1382.8 1536.6 1392 1541.9 1398.2 1551.7 1405 1560.5Z" fill="none" stroke="#5A2AA0" stroke-width="2.8" stroke-linecap="round" stroke-dasharray="0.5 8 0.3 11" stroke-opacity="0.85"/>
<path d="M1484.6 1557.5 1481.9 1562.7 1478.2 1567.8 1470.9 1571.2 1461.8 1573.8 1452.6 1571.3 1444.1 1568.6 1437.6 1563.8 1435 1557.5 1438.4 1551.4 1443.1 1545.8 1453.9 1545.5 1461.8 1541.1 1471.9 1542.3 1479.2 1546.6 1481.9 1552.3Z" fill="#EDEBEE" stroke="#DC8CD0" stroke-width="2.8" stroke-linejoin="round"/>
<path d="M1484.6 1557.5 1481.9 1562.7 1478.2 1567.8 1470.9 1571.2 1461.8 1573.8 1452.6 1571.3 1444.1 1568.6 1437.6 1563.8 1435 1557.5 1438.4 1551.4 1443.1 1545.8 1453.9 1545.5 1461.8 1541.1 1471.9 1542.3 1479.2 1546.6 1481.9 1552.3Z" fill="none" stroke="#5A2AA0" stroke-width="2.8" stroke-linecap="round" stroke-dasharray="0.5 8 0.3 11" stroke-opacity="0.85"/>
<path d="M1563.4 1554.5 1558.1 1560.6 1556.6 1567.8 1549.3 1570.9 1541.8 1570 1533.9 1571.7 1527 1567.8 1522.9 1561.5 1521.2 1554.5 1521.6 1547 1529.3 1543.2 1534 1537.5 1541.8 1534.5 1548.5 1539.9 1555.5 1542.2 1561.5 1547.1Z" fill="#EDEBEE" stroke="#DC8CD0" stroke-width="2.8" stroke-linejoin="round"/>
<path d="M1563.4 1554.5 1558.1 1560.6 1556.6 1567.8 1549.3 1570.9 1541.8 1570 1533.9 1571.7 1527 1567.8 1522.9 1561.5 1521.2 1554.5 1521.6 1547 1529.3 1543.2 1534 1537.5 1541.8 1534.5 1548.5 1539.9 1555.5 1542.2 1561.5 1547.1Z" fill="none" stroke="#5A2AA0" stroke-width="2.8" stroke-linecap="round" stroke-dasharray="0.5 8 0.3 11" stroke-opacity="0.85"/>
<path d="M1494.1 1625.5 1496.8 1631.7 1487.3 1634.8 1482 1640.3 1471.8 1640.4 1461.7 1640.1 1456 1635 1446.5 1631.8 1448.2 1625.5 1447 1619.3 1454.7 1615.2 1463.5 1613.5 1471.8 1612.1 1480.2 1613.3 1490.3 1614.4 1497.1 1619.2Z" fill="#EDEBEE" stroke="#DC8CD0" stroke-width="2.8" stroke-linejoin="round"/>
<path d="M1494.1 1625.5 1496.8 1631.7 1487.3 1634.8 1482 1640.3 1471.8 1640.4 1461.7 1640.1 1456 1635 1446.5 1631.8 1448.2 1625.5 1447 1619.3 1454.7 1615.2 1463.5 1613.5 1471.8 1612.1 1480.2 1613.3 1490.3 1614.4 1497.1 1619.2Z" fill="none" stroke="#5A2AA0" stroke-width="2.8" stroke-linecap="round" stroke-dasharray="0.5 8 0.3 11" stroke-opacity="0.85"/>
<path d="M1579.6 1628.5 1583.7 1642.9 1569.8 1652.4 1557.5 1663.4 1538.8 1665 1523.2 1657.6 1507.6 1652.6 1495.2 1642.5 1497.6 1628.5 1500.7 1616.3 1506.7 1603.7 1523.5 1599.9 1538.8 1593.4 1555.2 1598 1567.2 1606.6 1580.1 1615.3Z" fill="#EDEBEE" stroke="#DC8CD0" stroke-width="2.8" stroke-linejoin="round"/>
<path d="M1579.6 1628.5 1583.7 1642.9 1569.8 1652.4 1557.5 1663.4 1538.8 1665 1523.2 1657.6 1507.6 1652.6 1495.2 1642.5 1497.6 1628.5 1500.7 1616.3 1506.7 1603.7 1523.5 1599.9 1538.8 1593.4 1555.2 1598 1567.2 1606.6 1580.1 1615.3Z" fill="none" stroke="#5A2AA0" stroke-width="2.8" stroke-linecap="round" stroke-dasharray="0.5 8 0.3 11" stroke-opacity="0.85"/>
<path d="M1389.3 1642.5 1386.6 1650.9 1383.2 1657.2 1379.4 1663.6 1373.8 1663.3 1368.2 1663.6 1365.1 1656.2 1361.9 1650.3 1360.5 1642.5 1362.7 1635.3 1364.8 1628.4 1369.2 1625 1373.8 1622.3 1378.7 1624.1 1383.2 1627.7 1385.4 1634.9Z" fill="#EDEBEE" stroke="#DC8CD0" stroke-width="2.8" stroke-linejoin="round"/>
<path d="M1389.3 1642.5 1386.6 1650.9 1383.2 1657.2 1379.4 1663.6 1373.8 1663.3 1368.2 1663.6 1365.1 1656.2 1361.9 1650.3 1360.5 1642.5 1362.7 1635.3 1364.8 1628.4 1369.2 1625 1373.8 1622.3 1378.7 1624.1 1383.2 1627.7 1385.4 1634.9Z" fill="none" stroke="#5A2AA0" stroke-width="2.8" stroke-linecap="round" stroke-dasharray="0.5 8 0.3 11" stroke-opacity="0.85"/>
<ellipse cx="1433.8" cy="1671.5" rx="25" ry="16" fill="#EDEBEE" stroke="#C86EC4" stroke-width="9" transform="rotate(-8,1433.8,1671.5)"/>
<ellipse cx="1433.8" cy="1671.5" rx="25" ry="16" fill="none" stroke="#4E2496" stroke-width="3" stroke-dasharray="2 3.5" transform="rotate(-8,1433.8,1671.5)"/>
</g></g>
<g clip-path="url(#t34)"><g filter="url(#soft)">
<rect x="1585" y="1530.5" width="227" height="167.7" fill="#C458B0" />
<rect x="1585" y="1530.5" width="227" height="167.7" fill="#000" filter="url(#mottle)" opacity="0.35"/>
<rect x="1585" y="1530.5" width="227" height="167.7" fill="#000" filter="url(#knuc)"/>
<path d="M1709.5 1655.9h0m44.6 19h0m-104 16.6h0m63.4-36h0m42.4 30h0m-108-93.3h0m99.5 36.3h0m7.4-36.6h0m46-58.5h0m-52.4 60h0m-156.7 50h0m6-73h0m61.4-13h0m-36-13.7h0m153.3 1.6h0m-154-1h0m168 77.6h0m-19.3 70.7h0m-73.7-95.7h0m-24-21.5h0m46.4 116h0m-20.5-34.5h0m86.7 12h0m-49-46.5h0m-129-28.4h0m170 11h0m-39-30.5h0m-22-6.7h0m46 98.5h0m-173-24.6h0m17.3 47h0m18-136h0m161.5 80.7h0m-198.4-24.7h0m184-50h0m-17 21h0m-70 17.4h0m-87.3-1h0m105.4 38h0m4-74.5h0m15 20h0m66-32h0m-28-2h0m-48 44h0m-23 56h0m76-113.5h0m19.4 107.4h0m-175.7 7.4h0m159-53.7h0m15.4-35h0m-95 13.6h0m82.7 10h0m-129 115h0m36.4-88.4h0m65-47h0m24.5 84.4h0m-71 18h0m86-116h0m19 70h0m-40.3 26h0m40.7 14.4h0m-162-102.7h0m35 19h0m-38 47h0m61.4-24h0m58-41.5h0m-71.7 49h0m38 70.4h0m-4.5-143.7h0m1 59h0m-39.3 35.5h0m-45 37h0m33.7-71h0m39.5-52h0m-50 155.7h0m-45.6-100h0m146 14h0m-34 62h0m50.5-69.5h0m-111.4-69h0m89 21h0m-62.4-2.5h0m63.3 55.6h0m-142.7 21h0m-5.3-39h0m44.5 68h0m70.6-90.6h0m-60 39h0m112-16.5h0m-17.5-46h0m-143 117h0m55-121.4h0m-36.6 62.6h0m-25-8h0m203.7-49.7h0m-144 40.5h0m-45.6 104h0m28-124.6h0m37-20.5h0m7 17.6h0m5-5.4h0m84 59.5h0m-50-46.6h0m-135.5 3h0m103.4-39.7h0m-71.5 153.6h0m24.7-123h0m116 16.4h0m-57.5 39.6h0m-13.3-79h0m42.6 46.7h0m39 106h0m-109.6-18h0m130.3-113.3h0m-148 121.3h0m129.7-115h0m-148 107.5h0m-29-112h0m20 15.5h0m63.3-23.7h0m-56.3 140.4h0m61.5-86.3h0m-41 88h0m72-85h0m-108 41h0m46.5 30h0m-46.5-55.4h0m143 6.7h0m42.6 61.4h0m-57-151.3h0m51 71h0m-127.3-32h0m-78-18h0m39.7 8h0m133-19.3h0m-120 75.5h0m-27.5 32.3h0m-28.5-53h0m35.3-67.6h0m111.6 79.3h0m-38-34h0m-27-39h0m-76.6 65.4h0m148-38.4h0m-39.7 41.3h0m-26-47.3h0m36.6 21h0m-26.4 73h0m36.5 .5h0m39-31.3h0m-131.3 43.7h0m71-7.3h0m-96.6-28.7h0m115 32h0m31.6-5h0m-40.4 20h0m34-127.3h0m61 18.7h0m-169.6 4.6h0m132.4 51.3h0m-57-60h0m-4.5 97.4h0m30-61.6h0m23.7-31h0m-151 79h0m-5-122.7h0m165.3 82h0m-173-31h0m26 33h0m60 55.7h0m-92-50h0m152.4-68.3h0m28 130h0m-48-34.4h0m56.4 45.7h0m-102.4-121.4h0m-58.7 19h0m132 97h0m-33-58.6h0m18-94h0m-134-6h0m169 137h0m-140.4 4h0m-6.4-75h0m69.4 95.5h0m11.7-159.6h0m101 141h0m-8.6 20h0m-199.7-144h0m31.3 64h0m7-65.4h0m87 134h0m-40.7-110.7h0m98.7 74h0m-69-101h0m29.3-11h0m-12 134h0m42-19.3h0m-180.5 4.4h0m65.5-110.4h0m74 78.7h0m28 31.5h0m-169.4-29.7h0m36-33.4h0m-22-18h0m85.7 48h0m120.3-64.3h0m-114.7 .3h0m57 72.5h0m-13 15.3h0m-26-4.3h0m-7-56h0m-29 32.4h0m12-55h0m-1.6-.4h0m-11 93.6h0m-63.4-49h0m180.7-72.3h0m-44 121.3h0m-146-101h0m207 100.5h0m-117-25h0m-85 48h0m103-59.7h0m83-27h0m-14.5-50h0m8.4 53h0m-198 68h0m97-38h0m11.5-72h0m103 74h0m-4-94.7h0m-35.6 103h0m-40.4-77h0m23 55.3h0m-102-39.4h0m-38.5 42h0m201 67h0m-64-105h0m-89 74h0m-7 7h0m-23-76h0m58-37h0m-29.4 71h0m37.7-32.5h0m-53-52.5h0m35 160.4h0m-6-11.4h0m20.5-94.3h0m-55.7-40h0" stroke="#3E1C86" stroke-width="2.6" stroke-linecap="round" fill="none" stroke-opacity="0.8"/>
<circle cx="1690" cy="1620.5" r="10" fill="#5A2A9A" fill-opacity="0.35" stroke="#F6E8F6" stroke-width="1.3"/>
<path d="M1682.7 1620.4h0m8 8h0m-.5-3.4h0m-2.7-4.6h0m-.3 7h0m-3.6-1.7h0m8.5-12h0m5.4 4h0m1 3.7h0m-8.4 5.7h0m-.3-8h0" stroke="#3A1880" stroke-width="2.8" stroke-linecap="round" fill="none" stroke-opacity="0.8"/>
<circle cx="1760" cy="1630.5" r="11" fill="#5A2A9A" fill-opacity="0.35" stroke="#F6E8F6" stroke-width="1.3"/>
<path d="M1758 1629.8h0m3 10h0m-6-1h0m2-17h0m.3 11h0m6.4-2h0m-10.4-1.7h0m2.3 9h0m1.3-7h0m5.3 9h0m7.5-10h0m-7.3 3.5h0m-3-2h0m5-1.6h0m1.7-4h0" stroke="#3A1880" stroke-width="2.8" stroke-linecap="round" fill="none" stroke-opacity="0.8"/>
<path d="M1766.3 1615.1l-.4 4.6m-104 39.7l-1.4 2.6m108.6-79l4.4 4.4m-161.6 86.5l-2 5.5m-7.6-102.3l3 .6m68.5-7.7l1.4 3.7m82.6 69.5l1.5 3m-131 32l-1.7 3m74-116l3 1.3m29 76l1 2.6m71.6-25.6l2.4 1m-139-85l6 3.5m4-1.5l3.5 2.7m-58 151.5l-1 4m89.7-136l.5 3m75.3 128l4 1.5m-172-133.4l4 0m133-4l.4 5m-60.3 110l-2 5m-1 0l0 3m26-70.6l2 1m-22-48.3l1 2m-77.6 8l4 1.6m142.5-23l5 1m17.4 19l-2 6.6m-196.6-31.6l2.4 4m179 29.7l2.5 .4m-2 12l-.6 4.3m-17.7 70.7l-1.4 6.6m-66 17l2.5 3m57-81.5l5 3m-93-2.4l4.4 4m10-36.6l0 5.3m-47-38.7l1.7 1.6m-30 7l-1.6 4m131.4-10l1 4.5m61 96.6l4.4 3m-98-114l-.5 3.3m73.5 29l-1.3 2m-142 64.3l-2 6.6m-37.4-94l3.4 .3m166 2.6l2.5 2m-15 39.5l-.7 2.6m-.6 56l2 1.7m-63 0l3.7 0" stroke="#F6E6F4" stroke-width="2.2" stroke-linecap="round" fill="none" stroke-opacity="0.9" />
</g></g>
<rect x="834.3" y="1127.4" width="52.7" height="6.2" fill="#fff" />
<rect x="1051.2" y="1127.4" width="52.8" height="6.2" fill="#fff" />
<rect x="1279" y="1127.4" width="52.6" height="6.2" fill="#fff" />
<rect x="1517.5" y="1127.4" width="52.9" height="6.2" fill="#000" />
<rect x="1744.8" y="1127.4" width="52.8" height="6.2" fill="#fff" />
<rect x="834.3" y="1308.6" width="52.7" height="5.8" fill="#fff" />
<rect x="1051.2" y="1308.6" width="52.8" height="5.8" fill="#fff" />
<rect x="1279" y="1308.6" width="52.6" height="5.8" fill="#fff" />
<rect x="1517.5" y="1308.6" width="52.9" height="5.8" fill="#000" />
<rect x="1744.8" y="1308.6" width="52.8" height="5.8" fill="#fff" />
<rect x="834.3" y="1492.7" width="52.7" height="5.8" fill="#fff" />
<rect x="1051.2" y="1492.7" width="52.8" height="5.8" fill="#fff" />
<rect x="1279" y="1492.7" width="52.6" height="5.8" fill="#fff" />
<rect x="1517.5" y="1492.7" width="52.9" height="5.8" fill="#000" />
<rect x="1744.8" y="1492.7" width="52.8" height="5.8" fill="#fff" />
<rect x="834.3" y="1674" width="52.7" height="5.8" fill="#fff" />
<rect x="1051.2" y="1674" width="52.8" height="5.8" fill="#fff" />
<rect x="1279" y="1674" width="52.6" height="5.8" fill="#fff" />
<rect x="1517.5" y="1674" width="52.9" height="5.8" fill="#000" />
<rect x="1744.8" y="1674" width="52.8" height="5.8" fill="#fff" />
<text x="658.5" y="1087.8" font-size="27.5" text-anchor="end" font-weight="bold" >PBS</text>
<text x="568" y="1261.4" font-size="27.5" text-anchor="start" font-weight="bold" ><tspan letter-spacing="0.5">Ti<tspan font-size="15.5" font-weight="bold" dy="9">3</tspan><tspan dy="-9">C</tspan><tspan font-size="15.5" font-weight="bold" dy="9">2</tspan><tspan dy="-9">T</tspan><tspan font-size="15.5" font-weight="bold" dy="9">x</tspan></tspan></text>
<text x="522" y="1441.8" font-size="27.5" text-anchor="start" font-weight="bold" ><tspan>Thp-Ti<tspan font-size="15" font-weight="bold" dy="9">3</tspan><tspan dy="-9">C</tspan><tspan font-size="15" font-weight="bold" dy="9">2</tspan><tspan dy="-9">T</tspan><tspan font-size="15" font-weight="bold" dy="9">x</tspan></tspan></text>
<text x="474.5" y="1619.1" font-size="27.5" text-anchor="start" font-weight="bold" ><tspan>Pd-Thp-Ti<tspan font-size="15" font-weight="bold" dy="9">3</tspan><tspan dy="-9">C</tspan><tspan font-size="15" font-weight="bold" dy="9">2</tspan><tspan dy="-9">T</tspan><tspan font-size="15" font-weight="bold" dy="9">x</tspan></tspan></text>
<text x="809" y="1746.3" font-size="27.8" text-anchor="middle" font-weight="bold" >Heart</text>
<text x="1024.2" y="1746.3" font-size="27.8" text-anchor="middle" font-weight="bold" >Liver</text>
<text x="1254.7" y="1746.3" font-size="27.8" text-anchor="middle" font-weight="bold" >Spleen</text>
<text x="1457.2" y="1746.3" font-size="27.8" text-anchor="middle" font-weight="bold" >Lung</text>
<text x="1708.7" y="1746.3" font-size="27.8" text-anchor="middle" font-weight="bold" >Kidney</text>
<text x="522.1" y="994.9" font-size="42" text-anchor="start" font-weight="bold" >(K)</text>
</svg>
</body></html>
